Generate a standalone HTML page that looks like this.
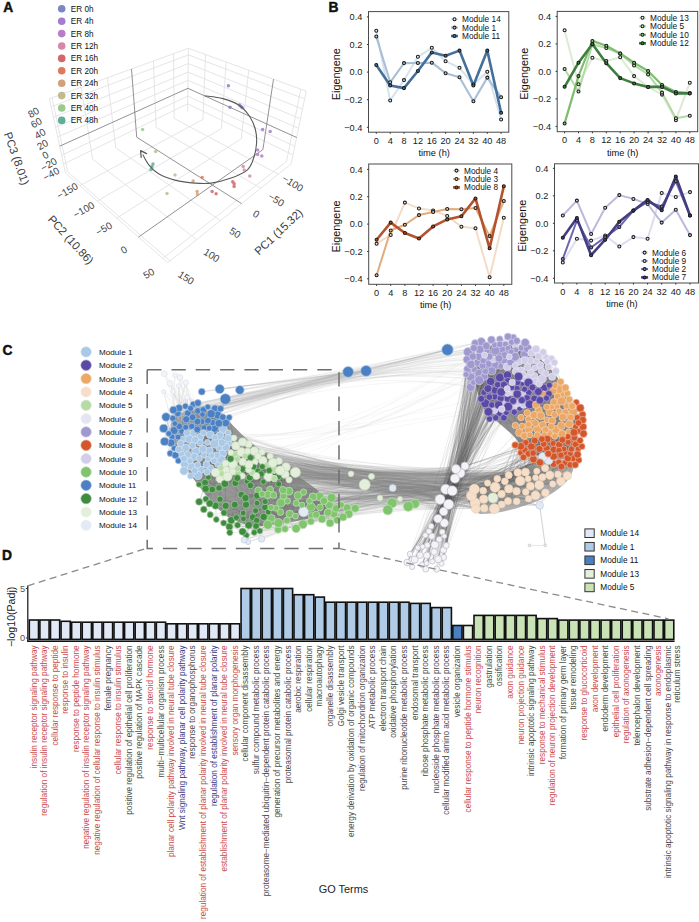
<!DOCTYPE html>
<html><head><meta charset="utf-8"><style>
html,body{margin:0;padding:0;background:#fff;}
svg{display:block;}
text{font-family:"Liberation Sans",sans-serif;}
.tk{font-size:9.2px;fill:#1a1a1a;}
.at{font-size:9.3px;fill:#111;}
.ey{font-size:10.9px;fill:#111;}
.lg{font-size:8.3px;fill:#111;}
.lg2{font-size:8.3px;fill:#111;}
.pl{font-size:13.8px;font-weight:bold;fill:#111;stroke:#111;stroke-width:0.45px;}
.gl{font-size:8.2px;}
.tk5{font-size:9.2px;fill:#555;}
.got{font-size:10.9px;fill:#222;}
.dy{font-size:10.6px;fill:#222;}
.a3{font-size:10px;fill:#444;}
.a3t{font-size:11.4px;fill:#3a3a3a;}
.al{font-size:8.2px;fill:#111;}
.cl{font-size:8.1px;fill:#111;}
</style></head>
<body><svg width="699" height="922" viewBox="0 0 699 922">
<rect width="699" height="922" fill="#fff"/>
<path d="M174.2 118.4L278.3 174.2M156.2 127.5L260.9 188.2M115.7 147.8L220.4 220.6M92.7 159.3L196.7 239.6M67.7 171.9L170.1 260.9M203.0 119.4L79.9 185.6M221.4 128.6L97.4 201.0M241.3 138.7L116.9 218.1M286.5 161.5L162.8 258.4M174.2 118.4L173.5 53.7M156.2 127.5L153.4 61.0M115.7 147.8L107.5 77.7M92.7 159.3L81.1 87.3M67.7 171.9L52.0 97.9M187.7 103.8L63.6 164.0M187.8 96.1L61.7 155.3M188.0 80.3L57.7 136.9M188.1 72.1L55.6 127.2M188.3 63.6L53.4 117.2M188.4 54.9L51.1 106.8M203.0 119.4L205.5 54.5M221.4 128.6L226.2 62.0M241.3 138.7L248.7 70.2M286.5 161.5L300.8 89.1M187.7 103.8L293.0 155.0M187.8 96.1L294.8 146.4M188.0 80.3L298.5 128.3M188.1 72.1L300.5 118.8M188.3 63.6L302.5 109.0M188.4 54.9L304.6 98.9M187.6 111.6L188.4 48.3M65.5 173.0L49.4 98.8M291.2 163.8L306.2 91.1M188.4 48.3L49.4 98.8M188.4 48.3L306.2 91.1M65.5 173.0L167.8 262.8M291.2 163.8L167.8 262.8" fill="none" stroke="#e2e2e6" stroke-width="0.9"/>
<path d="M136.7 137.2L241.6 203.6M262.9 149.6L138.5 237.1M136.7 137.2L131.5 69.0M187.9 88.3L59.7 146.2M262.9 149.6L273.5 79.2M187.9 88.3L296.7 137.5" fill="none" stroke="#777" stroke-width="0.8"/>
<text transform="translate(67.3,190.9) rotate(-30)" text-anchor="middle" dy="3.5" class="a3">−150</text>
<text transform="translate(83.8,209.8) rotate(-30)" text-anchor="middle" dy="3.5" class="a3">−100</text>
<text transform="translate(103.9,228.7) rotate(-30)" text-anchor="middle" dy="3.5" class="a3">−50</text>
<text transform="translate(123.9,249.9) rotate(-30)" text-anchor="middle" dy="3.5" class="a3">0</text>
<text transform="translate(148.7,273.5) rotate(-30)" text-anchor="middle" dy="3.5" class="a3">50</text>
<text transform="translate(292.7,183.2) rotate(32)" text-anchor="middle" dy="3.5" class="a3">−100</text>
<text transform="translate(276.2,199.7) rotate(32)" text-anchor="middle" dy="3.5" class="a3">−50</text>
<text transform="translate(256.1,214.1) rotate(32)" text-anchor="middle" dy="3.5" class="a3">0</text>
<text transform="translate(235.0,232.7) rotate(32)" text-anchor="middle" dy="3.5" class="a3">50</text>
<text transform="translate(211.6,255.3) rotate(32)" text-anchor="middle" dy="3.5" class="a3">100</text>
<text transform="translate(186.1,277.8) rotate(32)" text-anchor="middle" dy="3.5" class="a3">150</text>
<text transform="translate(33.5,112.5) rotate(-30)" text-anchor="middle" dy="3.5" class="a3">80</text>
<text transform="translate(36.2,122.8) rotate(-30)" text-anchor="middle" dy="3.5" class="a3">60</text>
<text transform="translate(40.1,133.8) rotate(-30)" text-anchor="middle" dy="3.5" class="a3">40</text>
<text transform="translate(42.5,144.8) rotate(-30)" text-anchor="middle" dy="3.5" class="a3">20</text>
<text transform="translate(45.3,155.1) rotate(-30)" text-anchor="middle" dy="3.5" class="a3">0</text>
<text transform="translate(48.8,164.5) rotate(-30)" text-anchor="middle" dy="3.5" class="a3">−20</text>
<text transform="translate(51.1,174.0) rotate(-30)" text-anchor="middle" dy="3.5" class="a3">−40</text>
<text transform="translate(16.7,158.5) rotate(70.5)" text-anchor="middle" dy="4" class="a3t">PC3 (8.01)</text>
<text transform="translate(70.8,239.7) rotate(47.8)" text-anchor="middle" dy="4" class="a3t">PC2 (10.86)</text>
<text transform="translate(278.5,231.8) rotate(-43.5)" text-anchor="middle" dy="4" class="a3t">PC1 (15.32)</text>
<circle cx="228.4" cy="85.8" r="1.75" fill="#7e86c0" fill-opacity="0.85"/>
<circle cx="230" cy="107.2" r="1.75" fill="#7e86c0" fill-opacity="0.85"/>
<circle cx="239.5" cy="104.9" r="1.75" fill="#7e86c0" fill-opacity="0.85"/>
<circle cx="241" cy="106.4" r="1.75" fill="#7e86c0" fill-opacity="0.85"/>
<circle cx="242.3" cy="107.8" r="1.75" fill="#7e86c0" fill-opacity="0.85"/>
<circle cx="262.6" cy="129.6" r="1.75" fill="#a57ccf" fill-opacity="0.85"/>
<circle cx="270.2" cy="131.6" r="1.75" fill="#a57ccf" fill-opacity="0.85"/>
<circle cx="257.6" cy="150" r="1.75" fill="#b57ec7" fill-opacity="0.85"/>
<circle cx="257.6" cy="154.4" r="1.75" fill="#b57ec7" fill-opacity="0.85"/>
<circle cx="261.8" cy="156" r="1.75" fill="#b57ec7" fill-opacity="0.85"/>
<circle cx="243.2" cy="166.5" r="1.75" fill="#d48aa6" fill-opacity="0.85"/>
<circle cx="244.2" cy="170.1" r="1.75" fill="#d48aa6" fill-opacity="0.85"/>
<circle cx="249.8" cy="176.1" r="1.75" fill="#d48aa6" fill-opacity="0.85"/>
<circle cx="232.7" cy="181.7" r="1.75" fill="#d2686f" fill-opacity="0.85"/>
<circle cx="234.1" cy="183.7" r="1.75" fill="#d2686f" fill-opacity="0.85"/>
<circle cx="234.1" cy="186.5" r="1.75" fill="#d2686f" fill-opacity="0.85"/>
<circle cx="212.1" cy="191.5" r="1.75" fill="#d2686f" fill-opacity="0.85"/>
<circle cx="216.1" cy="193.7" r="1.75" fill="#d2686f" fill-opacity="0.85"/>
<circle cx="202.1" cy="177.5" r="1.75" fill="#dc7a5f" fill-opacity="0.85"/>
<circle cx="193.1" cy="181.1" r="1.75" fill="#d4a07c" fill-opacity="0.85"/>
<circle cx="197.1" cy="191.5" r="1.75" fill="#d4a07c" fill-opacity="0.85"/>
<circle cx="197.5" cy="194.5" r="1.75" fill="#d4a07c" fill-opacity="0.85"/>
<circle cx="175" cy="175.1" r="1.75" fill="#bdbd8e" fill-opacity="0.85"/>
<circle cx="167" cy="193.5" r="1.75" fill="#bdbd8e" fill-opacity="0.85"/>
<circle cx="155.6" cy="151.6" r="1.75" fill="#bdbd8e" fill-opacity="0.85"/>
<circle cx="142.6" cy="129.6" r="1.75" fill="#9acb8e" fill-opacity="0.85"/>
<circle cx="153" cy="164.1" r="1.75" fill="#5fae98" fill-opacity="0.85"/>
<circle cx="152" cy="166.5" r="1.75" fill="#5fae98" fill-opacity="0.85"/>
<circle cx="151" cy="169.5" r="1.75" fill="#5fae98" fill-opacity="0.85"/>
<path d="M204.6 95.7C207.7 96.2 217.1 97.0 222.9 98.6C228.7 100.2 235.0 102.4 239.5 105.5C244.0 108.6 247.3 112.9 250.0 117.0C252.7 121.1 254.4 125.5 255.5 130.0C256.6 134.5 256.9 139.0 256.5 144.0C256.1 149.0 254.6 155.7 253.0 160.0C251.4 164.3 250.8 167.1 247.2 170.1C243.5 173.1 237.1 175.9 231.1 178.1C225.1 180.3 217.1 182.3 211.1 183.1C205.1 183.9 201.1 183.6 195.1 183.1C189.1 182.6 181.0 181.6 175.0 180.1C169.0 178.6 163.3 176.6 159.0 174.1C154.7 171.6 151.7 168.4 149.0 165.1C146.3 161.8 143.8 156.3 142.8 154.5" fill="none" stroke="#5a5a5a" stroke-width="1.1"/>
<path d="M140.6 150.6 L141.2 157.4 M140.6 150.6 L146.6 153.6" fill="none" stroke="#555" stroke-width="1.2" stroke-linecap="round"/>
<circle cx="61.7" cy="8.8" r="3.8" fill="#7e86c0"/>
<text x="70.8" y="11.7" class="al">ER 0h</text>
<circle cx="61.7" cy="21.2" r="3.8" fill="#a57ccf"/>
<text x="70.8" y="24.1" class="al">ER 4h</text>
<circle cx="61.7" cy="33.6" r="3.8" fill="#b57ec7"/>
<text x="70.8" y="36.5" class="al">ER 8h</text>
<circle cx="61.7" cy="46.0" r="3.8" fill="#d48aa6"/>
<text x="70.8" y="48.9" class="al">ER 12h</text>
<circle cx="61.7" cy="58.4" r="3.8" fill="#d2686f"/>
<text x="70.8" y="61.3" class="al">ER 16h</text>
<circle cx="61.7" cy="70.8" r="3.8" fill="#dc7a5f"/>
<text x="70.8" y="73.7" class="al">ER 20h</text>
<circle cx="61.7" cy="83.2" r="3.8" fill="#d4a07c"/>
<text x="70.8" y="86.1" class="al">ER 24h</text>
<circle cx="61.7" cy="95.6" r="3.8" fill="#bdbd8e"/>
<text x="70.8" y="98.5" class="al">ER 32h</text>
<circle cx="61.7" cy="108.0" r="3.8" fill="#9acb8e"/>
<text x="70.8" y="110.9" class="al">ER 40h</text>
<circle cx="61.7" cy="120.4" r="3.8" fill="#5fae98"/>
<text x="70.8" y="123.3" class="al">ER 48h</text>
<text x="3.3" y="11.5" class="pl">A</text>
<rect x="368.5" y="11.6" width="140.3" height="120.6" fill="#fff" stroke="#4a4a4a" stroke-width="1"/>
<line x1="366.9" y1="16.9" x2="368.5" y2="16.9" stroke="#333" stroke-width="1"/>
<text x="362.3" y="20.1" text-anchor="end" class="tk">0.4</text>
<line x1="366.9" y1="44.5" x2="368.5" y2="44.5" stroke="#333" stroke-width="1"/>
<text x="362.3" y="47.7" text-anchor="end" class="tk">0.2</text>
<line x1="366.9" y1="72.1" x2="368.5" y2="72.1" stroke="#333" stroke-width="1"/>
<text x="362.3" y="75.3" text-anchor="end" class="tk">0.0</text>
<line x1="366.9" y1="99.7" x2="368.5" y2="99.7" stroke="#333" stroke-width="1"/>
<text x="362.3" y="102.9" text-anchor="end" class="tk">−0.2</text>
<line x1="366.9" y1="127.3" x2="368.5" y2="127.3" stroke="#333" stroke-width="1"/>
<text x="362.3" y="130.5" text-anchor="end" class="tk">−0.4</text>
<line x1="376.3" y1="132.2" x2="376.3" y2="133.79999999999998" stroke="#333" stroke-width="1"/>
<text x="376.3" y="143.9" text-anchor="middle" class="tk">0</text>
<line x1="390.2" y1="132.2" x2="390.2" y2="133.79999999999998" stroke="#333" stroke-width="1"/>
<text x="390.2" y="143.9" text-anchor="middle" class="tk">4</text>
<line x1="404.0" y1="132.2" x2="404.0" y2="133.79999999999998" stroke="#333" stroke-width="1"/>
<text x="404.0" y="143.9" text-anchor="middle" class="tk">8</text>
<line x1="417.9" y1="132.2" x2="417.9" y2="133.79999999999998" stroke="#333" stroke-width="1"/>
<text x="417.9" y="143.9" text-anchor="middle" class="tk">12</text>
<line x1="431.8" y1="132.2" x2="431.8" y2="133.79999999999998" stroke="#333" stroke-width="1"/>
<text x="431.8" y="143.9" text-anchor="middle" class="tk">16</text>
<line x1="445.6" y1="132.2" x2="445.6" y2="133.79999999999998" stroke="#333" stroke-width="1"/>
<text x="445.6" y="143.9" text-anchor="middle" class="tk">20</text>
<line x1="459.5" y1="132.2" x2="459.5" y2="133.79999999999998" stroke="#333" stroke-width="1"/>
<text x="459.5" y="143.9" text-anchor="middle" class="tk">24</text>
<line x1="473.4" y1="132.2" x2="473.4" y2="133.79999999999998" stroke="#333" stroke-width="1"/>
<text x="473.4" y="143.9" text-anchor="middle" class="tk">32</text>
<line x1="487.3" y1="132.2" x2="487.3" y2="133.79999999999998" stroke="#333" stroke-width="1"/>
<text x="487.3" y="143.9" text-anchor="middle" class="tk">40</text>
<line x1="501.1" y1="132.2" x2="501.1" y2="133.79999999999998" stroke="#333" stroke-width="1"/>
<text x="501.1" y="143.9" text-anchor="middle" class="tk">48</text>
<text x="434.2" y="156.2" text-anchor="middle" class="at">time (h)</text>
<text transform="translate(339.5,74.2) rotate(-90)" text-anchor="middle" class="ey">Eigengene</text>
<polyline points="376.3,30.7 390.2,100.5 404.0,80.1 417.9,56.8 431.8,47.8 445.6,61.2 459.5,67.8 473.4,84.5 487.3,71.7 501.1,119.4" fill="none" stroke="#d5e3ee" stroke-width="2" stroke-linejoin="round" stroke-opacity="1"/>
<polyline points="376.3,36.5 390.2,82.3 404.0,63.1 417.9,63.0 431.8,62.7 445.6,73.2 459.5,77.2 473.4,101.2 487.3,77.6 501.1,97.2" fill="none" stroke="#a9bfd3" stroke-width="2.1" stroke-linejoin="round" stroke-opacity="1"/>
<polyline points="376.3,64.9 390.2,85.5 404.0,88.1 417.9,71.0 431.8,52.4 445.6,55.7 459.5,50.6 473.4,85.5 487.3,50.6 501.1,112.8" fill="none" stroke="#45709a" stroke-width="2.6" stroke-linejoin="round" stroke-opacity="1"/>
<circle cx="376.3" cy="30.7" r="1.5" fill="#e6eef6" stroke="#1a1a1a" stroke-width="1.05"/>
<circle cx="390.2" cy="100.5" r="1.5" fill="#e6eef6" stroke="#1a1a1a" stroke-width="1.05"/>
<circle cx="404.0" cy="80.1" r="1.5" fill="#e6eef6" stroke="#1a1a1a" stroke-width="1.05"/>
<circle cx="417.9" cy="56.8" r="1.5" fill="#e6eef6" stroke="#1a1a1a" stroke-width="1.05"/>
<circle cx="431.8" cy="47.8" r="1.5" fill="#e6eef6" stroke="#1a1a1a" stroke-width="1.05"/>
<circle cx="445.6" cy="61.2" r="1.5" fill="#e6eef6" stroke="#1a1a1a" stroke-width="1.05"/>
<circle cx="459.5" cy="67.8" r="1.5" fill="#e6eef6" stroke="#1a1a1a" stroke-width="1.05"/>
<circle cx="473.4" cy="84.5" r="1.5" fill="#e6eef6" stroke="#1a1a1a" stroke-width="1.05"/>
<circle cx="487.3" cy="71.7" r="1.5" fill="#e6eef6" stroke="#1a1a1a" stroke-width="1.05"/>
<circle cx="501.1" cy="119.4" r="1.5" fill="#e6eef6" stroke="#1a1a1a" stroke-width="1.05"/>
<circle cx="376.3" cy="36.5" r="1.5" fill="#b8cde0" stroke="#1a1a1a" stroke-width="1.05"/>
<circle cx="390.2" cy="82.3" r="1.5" fill="#b8cde0" stroke="#1a1a1a" stroke-width="1.05"/>
<circle cx="404.0" cy="63.1" r="1.5" fill="#b8cde0" stroke="#1a1a1a" stroke-width="1.05"/>
<circle cx="417.9" cy="63.0" r="1.5" fill="#b8cde0" stroke="#1a1a1a" stroke-width="1.05"/>
<circle cx="431.8" cy="62.7" r="1.5" fill="#b8cde0" stroke="#1a1a1a" stroke-width="1.05"/>
<circle cx="445.6" cy="73.2" r="1.5" fill="#b8cde0" stroke="#1a1a1a" stroke-width="1.05"/>
<circle cx="459.5" cy="77.2" r="1.5" fill="#b8cde0" stroke="#1a1a1a" stroke-width="1.05"/>
<circle cx="473.4" cy="101.2" r="1.5" fill="#b8cde0" stroke="#1a1a1a" stroke-width="1.05"/>
<circle cx="487.3" cy="77.6" r="1.5" fill="#b8cde0" stroke="#1a1a1a" stroke-width="1.05"/>
<circle cx="501.1" cy="97.2" r="1.5" fill="#b8cde0" stroke="#1a1a1a" stroke-width="1.05"/>
<circle cx="376.3" cy="64.9" r="1.5" fill="#45709a" stroke="#1a1a1a" stroke-width="1.05"/>
<circle cx="390.2" cy="85.5" r="1.5" fill="#45709a" stroke="#1a1a1a" stroke-width="1.05"/>
<circle cx="404.0" cy="88.1" r="1.5" fill="#45709a" stroke="#1a1a1a" stroke-width="1.05"/>
<circle cx="417.9" cy="71.0" r="1.5" fill="#45709a" stroke="#1a1a1a" stroke-width="1.05"/>
<circle cx="431.8" cy="52.4" r="1.5" fill="#45709a" stroke="#1a1a1a" stroke-width="1.05"/>
<circle cx="445.6" cy="55.7" r="1.5" fill="#45709a" stroke="#1a1a1a" stroke-width="1.05"/>
<circle cx="459.5" cy="50.6" r="1.5" fill="#45709a" stroke="#1a1a1a" stroke-width="1.05"/>
<circle cx="473.4" cy="85.5" r="1.5" fill="#45709a" stroke="#1a1a1a" stroke-width="1.05"/>
<circle cx="487.3" cy="50.6" r="1.5" fill="#45709a" stroke="#1a1a1a" stroke-width="1.05"/>
<circle cx="501.1" cy="112.8" r="1.5" fill="#45709a" stroke="#1a1a1a" stroke-width="1.05"/>
<line x1="451.0" y1="19.2" x2="458.0" y2="19.2" stroke="#d5e3ee" stroke-width="2" stroke-opacity="1"/>
<circle cx="454.5" cy="19.2" r="1.5" fill="#e6eef6" stroke="#1a1a1a" stroke-width="1.05"/>
<text x="462.0" y="22.1" class="lg">Module 14</text>
<line x1="451.0" y1="27.6" x2="458.0" y2="27.6" stroke="#a9bfd3" stroke-width="2.1" stroke-opacity="1"/>
<circle cx="454.5" cy="27.6" r="1.5" fill="#b8cde0" stroke="#1a1a1a" stroke-width="1.05"/>
<text x="462.0" y="30.5" class="lg">Module 1</text>
<line x1="451.0" y1="36.0" x2="458.0" y2="36.0" stroke="#45709a" stroke-width="2.6" stroke-opacity="1"/>
<circle cx="454.5" cy="36.0" r="1.5" fill="#45709a" stroke="#1a1a1a" stroke-width="1.05"/>
<text x="462.0" y="38.9" class="lg">Module 11</text>
<rect x="557.2" y="11.4" width="140.5" height="120.3" fill="#fff" stroke="#4a4a4a" stroke-width="1"/>
<line x1="555.6" y1="16.4" x2="557.2" y2="16.4" stroke="#333" stroke-width="1"/>
<text x="551.0" y="19.6" text-anchor="end" class="tk">0.4</text>
<line x1="555.6" y1="43.9" x2="557.2" y2="43.9" stroke="#333" stroke-width="1"/>
<text x="551.0" y="47.1" text-anchor="end" class="tk">0.2</text>
<line x1="555.6" y1="71.4" x2="557.2" y2="71.4" stroke="#333" stroke-width="1"/>
<text x="551.0" y="74.6" text-anchor="end" class="tk">0.0</text>
<line x1="555.6" y1="98.9" x2="557.2" y2="98.9" stroke="#333" stroke-width="1"/>
<text x="551.0" y="102.1" text-anchor="end" class="tk">−0.2</text>
<line x1="555.6" y1="126.4" x2="557.2" y2="126.4" stroke="#333" stroke-width="1"/>
<text x="551.0" y="129.6" text-anchor="end" class="tk">−0.4</text>
<line x1="564.6" y1="131.7" x2="564.6" y2="133.29999999999998" stroke="#333" stroke-width="1"/>
<text x="564.6" y="143.4" text-anchor="middle" class="tk">0</text>
<line x1="578.5" y1="131.7" x2="578.5" y2="133.29999999999998" stroke="#333" stroke-width="1"/>
<text x="578.5" y="143.4" text-anchor="middle" class="tk">4</text>
<line x1="592.4" y1="131.7" x2="592.4" y2="133.29999999999998" stroke="#333" stroke-width="1"/>
<text x="592.4" y="143.4" text-anchor="middle" class="tk">8</text>
<line x1="606.3" y1="131.7" x2="606.3" y2="133.29999999999998" stroke="#333" stroke-width="1"/>
<text x="606.3" y="143.4" text-anchor="middle" class="tk">12</text>
<line x1="620.2" y1="131.7" x2="620.2" y2="133.29999999999998" stroke="#333" stroke-width="1"/>
<text x="620.2" y="143.4" text-anchor="middle" class="tk">16</text>
<line x1="634.1" y1="131.7" x2="634.1" y2="133.29999999999998" stroke="#333" stroke-width="1"/>
<text x="634.1" y="143.4" text-anchor="middle" class="tk">20</text>
<line x1="648.1" y1="131.7" x2="648.1" y2="133.29999999999998" stroke="#333" stroke-width="1"/>
<text x="648.1" y="143.4" text-anchor="middle" class="tk">24</text>
<line x1="662.0" y1="131.7" x2="662.0" y2="133.29999999999998" stroke="#333" stroke-width="1"/>
<text x="662.0" y="143.4" text-anchor="middle" class="tk">32</text>
<line x1="675.9" y1="131.7" x2="675.9" y2="133.29999999999998" stroke="#333" stroke-width="1"/>
<text x="675.9" y="143.4" text-anchor="middle" class="tk">40</text>
<line x1="689.8" y1="131.7" x2="689.8" y2="133.29999999999998" stroke="#333" stroke-width="1"/>
<text x="689.8" y="143.4" text-anchor="middle" class="tk">48</text>
<text x="622.7" y="155.7" text-anchor="middle" class="at">time (h)</text>
<text transform="translate(527.8,73.8) rotate(-90)" text-anchor="middle" class="ey">Eigengene</text>
<polyline points="564.6,30.2 578.5,84.3 592.4,57.7 606.3,61.1 620.2,57.2 634.1,76.1 648.1,86.9 662.0,94.6 675.9,120.2 689.8,82.7" fill="none" stroke="#dcebd3" stroke-width="2" stroke-linejoin="round" stroke-opacity="1"/>
<polyline points="564.6,68.9 578.5,91.5 592.4,44.3 606.3,48.0 620.2,53.5 634.1,65.5 648.1,74.4 662.0,92.6 675.9,118.2 689.8,115.7" fill="none" stroke="#b3d9a4" stroke-width="2" stroke-linejoin="round" stroke-opacity="1"/>
<polyline points="564.6,123.4 578.5,76.1 592.4,40.9 606.3,45.7 620.2,53.5 634.1,62.7 648.1,71.0 662.0,85.0 675.9,91.9 689.8,93.1" fill="none" stroke="#80bb72" stroke-width="2.2" stroke-linejoin="round" stroke-opacity="1"/>
<polyline points="564.6,86.8 578.5,62.7 592.4,43.9 606.3,63.2 620.2,78.1 634.1,83.4 648.1,86.9 662.0,86.9 675.9,93.4 689.8,93.4" fill="none" stroke="#3f7d40" stroke-width="2.6" stroke-linejoin="round" stroke-opacity="1"/>
<circle cx="564.6" cy="30.2" r="1.5" fill="#eef6ea" stroke="#1a1a1a" stroke-width="1.05"/>
<circle cx="578.5" cy="84.3" r="1.5" fill="#eef6ea" stroke="#1a1a1a" stroke-width="1.05"/>
<circle cx="592.4" cy="57.7" r="1.5" fill="#eef6ea" stroke="#1a1a1a" stroke-width="1.05"/>
<circle cx="606.3" cy="61.1" r="1.5" fill="#eef6ea" stroke="#1a1a1a" stroke-width="1.05"/>
<circle cx="620.2" cy="57.2" r="1.5" fill="#eef6ea" stroke="#1a1a1a" stroke-width="1.05"/>
<circle cx="634.1" cy="76.1" r="1.5" fill="#eef6ea" stroke="#1a1a1a" stroke-width="1.05"/>
<circle cx="648.1" cy="86.9" r="1.5" fill="#eef6ea" stroke="#1a1a1a" stroke-width="1.05"/>
<circle cx="662.0" cy="94.6" r="1.5" fill="#eef6ea" stroke="#1a1a1a" stroke-width="1.05"/>
<circle cx="675.9" cy="120.2" r="1.5" fill="#eef6ea" stroke="#1a1a1a" stroke-width="1.05"/>
<circle cx="689.8" cy="82.7" r="1.5" fill="#eef6ea" stroke="#1a1a1a" stroke-width="1.05"/>
<circle cx="564.6" cy="68.9" r="1.5" fill="#c9e4bd" stroke="#1a1a1a" stroke-width="1.05"/>
<circle cx="578.5" cy="91.5" r="1.5" fill="#c9e4bd" stroke="#1a1a1a" stroke-width="1.05"/>
<circle cx="592.4" cy="44.3" r="1.5" fill="#c9e4bd" stroke="#1a1a1a" stroke-width="1.05"/>
<circle cx="606.3" cy="48.0" r="1.5" fill="#c9e4bd" stroke="#1a1a1a" stroke-width="1.05"/>
<circle cx="620.2" cy="53.5" r="1.5" fill="#c9e4bd" stroke="#1a1a1a" stroke-width="1.05"/>
<circle cx="634.1" cy="65.5" r="1.5" fill="#c9e4bd" stroke="#1a1a1a" stroke-width="1.05"/>
<circle cx="648.1" cy="74.4" r="1.5" fill="#c9e4bd" stroke="#1a1a1a" stroke-width="1.05"/>
<circle cx="662.0" cy="92.6" r="1.5" fill="#c9e4bd" stroke="#1a1a1a" stroke-width="1.05"/>
<circle cx="675.9" cy="118.2" r="1.5" fill="#c9e4bd" stroke="#1a1a1a" stroke-width="1.05"/>
<circle cx="689.8" cy="115.7" r="1.5" fill="#c9e4bd" stroke="#1a1a1a" stroke-width="1.05"/>
<circle cx="564.6" cy="123.4" r="1.5" fill="#8cc47e" stroke="#1a1a1a" stroke-width="1.05"/>
<circle cx="578.5" cy="76.1" r="1.5" fill="#8cc47e" stroke="#1a1a1a" stroke-width="1.05"/>
<circle cx="592.4" cy="40.9" r="1.5" fill="#8cc47e" stroke="#1a1a1a" stroke-width="1.05"/>
<circle cx="606.3" cy="45.7" r="1.5" fill="#8cc47e" stroke="#1a1a1a" stroke-width="1.05"/>
<circle cx="620.2" cy="53.5" r="1.5" fill="#8cc47e" stroke="#1a1a1a" stroke-width="1.05"/>
<circle cx="634.1" cy="62.7" r="1.5" fill="#8cc47e" stroke="#1a1a1a" stroke-width="1.05"/>
<circle cx="648.1" cy="71.0" r="1.5" fill="#8cc47e" stroke="#1a1a1a" stroke-width="1.05"/>
<circle cx="662.0" cy="85.0" r="1.5" fill="#8cc47e" stroke="#1a1a1a" stroke-width="1.05"/>
<circle cx="675.9" cy="91.9" r="1.5" fill="#8cc47e" stroke="#1a1a1a" stroke-width="1.05"/>
<circle cx="689.8" cy="93.1" r="1.5" fill="#8cc47e" stroke="#1a1a1a" stroke-width="1.05"/>
<circle cx="564.6" cy="86.8" r="1.5" fill="#3f7d40" stroke="#1a1a1a" stroke-width="1.05"/>
<circle cx="578.5" cy="62.7" r="1.5" fill="#3f7d40" stroke="#1a1a1a" stroke-width="1.05"/>
<circle cx="592.4" cy="43.9" r="1.5" fill="#3f7d40" stroke="#1a1a1a" stroke-width="1.05"/>
<circle cx="606.3" cy="63.2" r="1.5" fill="#3f7d40" stroke="#1a1a1a" stroke-width="1.05"/>
<circle cx="620.2" cy="78.1" r="1.5" fill="#3f7d40" stroke="#1a1a1a" stroke-width="1.05"/>
<circle cx="634.1" cy="83.4" r="1.5" fill="#3f7d40" stroke="#1a1a1a" stroke-width="1.05"/>
<circle cx="648.1" cy="86.9" r="1.5" fill="#3f7d40" stroke="#1a1a1a" stroke-width="1.05"/>
<circle cx="662.0" cy="86.9" r="1.5" fill="#3f7d40" stroke="#1a1a1a" stroke-width="1.05"/>
<circle cx="675.9" cy="93.4" r="1.5" fill="#3f7d40" stroke="#1a1a1a" stroke-width="1.05"/>
<circle cx="689.8" cy="93.4" r="1.5" fill="#3f7d40" stroke="#1a1a1a" stroke-width="1.05"/>
<line x1="639.0" y1="17.8" x2="646.0" y2="17.8" stroke="#dcebd3" stroke-width="2" stroke-opacity="1"/>
<circle cx="642.5" cy="17.8" r="1.5" fill="#eef6ea" stroke="#1a1a1a" stroke-width="1.05"/>
<text x="650.0" y="20.7" class="lg">Module 13</text>
<line x1="639.0" y1="26.3" x2="646.0" y2="26.3" stroke="#b3d9a4" stroke-width="2" stroke-opacity="1"/>
<circle cx="642.5" cy="26.3" r="1.5" fill="#c9e4bd" stroke="#1a1a1a" stroke-width="1.05"/>
<text x="650.0" y="29.2" class="lg">Module 5</text>
<line x1="639.0" y1="34.8" x2="646.0" y2="34.8" stroke="#80bb72" stroke-width="2.2" stroke-opacity="1"/>
<circle cx="642.5" cy="34.8" r="1.5" fill="#8cc47e" stroke="#1a1a1a" stroke-width="1.05"/>
<text x="650.0" y="37.7" class="lg">Module 10</text>
<line x1="639.0" y1="43.3" x2="646.0" y2="43.3" stroke="#3f7d40" stroke-width="2.6" stroke-opacity="1"/>
<circle cx="642.5" cy="43.3" r="1.5" fill="#3f7d40" stroke="#1a1a1a" stroke-width="1.05"/>
<text x="650.0" y="46.2" class="lg">Module 12</text>
<rect x="368.7" y="164.0" width="143.1" height="120.3" fill="#fff" stroke="#4a4a4a" stroke-width="1"/>
<line x1="367.09999999999997" y1="169.4" x2="368.7" y2="169.4" stroke="#333" stroke-width="1"/>
<text x="362.5" y="172.6" text-anchor="end" class="tk">0.4</text>
<line x1="367.09999999999997" y1="196.7" x2="368.7" y2="196.7" stroke="#333" stroke-width="1"/>
<text x="362.5" y="199.9" text-anchor="end" class="tk">0.2</text>
<line x1="367.09999999999997" y1="224.1" x2="368.7" y2="224.1" stroke="#333" stroke-width="1"/>
<text x="362.5" y="227.3" text-anchor="end" class="tk">0.0</text>
<line x1="367.09999999999997" y1="251.5" x2="368.7" y2="251.5" stroke="#333" stroke-width="1"/>
<text x="362.5" y="254.7" text-anchor="end" class="tk">−0.2</text>
<line x1="367.09999999999997" y1="278.8" x2="368.7" y2="278.8" stroke="#333" stroke-width="1"/>
<text x="362.5" y="282.0" text-anchor="end" class="tk">−0.4</text>
<line x1="376.6" y1="284.3" x2="376.6" y2="285.90000000000003" stroke="#333" stroke-width="1"/>
<text x="376.6" y="296.0" text-anchor="middle" class="tk">0</text>
<line x1="390.7" y1="284.3" x2="390.7" y2="285.90000000000003" stroke="#333" stroke-width="1"/>
<text x="390.7" y="296.0" text-anchor="middle" class="tk">4</text>
<line x1="404.9" y1="284.3" x2="404.9" y2="285.90000000000003" stroke="#333" stroke-width="1"/>
<text x="404.9" y="296.0" text-anchor="middle" class="tk">8</text>
<line x1="419.0" y1="284.3" x2="419.0" y2="285.90000000000003" stroke="#333" stroke-width="1"/>
<text x="419.0" y="296.0" text-anchor="middle" class="tk">12</text>
<line x1="433.1" y1="284.3" x2="433.1" y2="285.90000000000003" stroke="#333" stroke-width="1"/>
<text x="433.1" y="296.0" text-anchor="middle" class="tk">16</text>
<line x1="447.2" y1="284.3" x2="447.2" y2="285.90000000000003" stroke="#333" stroke-width="1"/>
<text x="447.2" y="296.0" text-anchor="middle" class="tk">20</text>
<line x1="461.4" y1="284.3" x2="461.4" y2="285.90000000000003" stroke="#333" stroke-width="1"/>
<text x="461.4" y="296.0" text-anchor="middle" class="tk">24</text>
<line x1="475.5" y1="284.3" x2="475.5" y2="285.90000000000003" stroke="#333" stroke-width="1"/>
<text x="475.5" y="296.0" text-anchor="middle" class="tk">32</text>
<line x1="489.6" y1="284.3" x2="489.6" y2="285.90000000000003" stroke="#333" stroke-width="1"/>
<text x="489.6" y="296.0" text-anchor="middle" class="tk">40</text>
<line x1="503.8" y1="284.3" x2="503.8" y2="285.90000000000003" stroke="#333" stroke-width="1"/>
<text x="503.8" y="296.0" text-anchor="middle" class="tk">48</text>
<text x="435.7" y="308.3" text-anchor="middle" class="at">time (h)</text>
<text transform="translate(339.5,226.5) rotate(-90)" text-anchor="middle" class="ey">Eigengene</text>
<polyline points="376.6,243.7 390.7,235.0 404.9,202.6 419.0,208.4 433.1,210.4 447.2,215.9 461.4,226.8 475.5,228.3 489.6,277.3 503.8,217.8" fill="none" stroke="#f3dcc6" stroke-width="2" stroke-linejoin="round" stroke-opacity="1"/>
<polyline points="376.6,275.3 390.7,230.4 404.9,224.8 419.0,215.1 433.1,211.9 447.2,208.9 461.4,209.3 475.5,208.0 489.6,236.1 503.8,201.0" fill="none" stroke="#e2ad7c" stroke-width="2" stroke-linejoin="round" stroke-opacity="1"/>
<polyline points="376.6,239.8 390.7,222.6 404.9,233.0 419.0,238.5 433.1,226.4 447.2,219.4 461.4,216.2 475.5,198.4 489.6,248.3 503.8,186.2" fill="none" stroke="#b3532e" stroke-width="2.6" stroke-linejoin="round" stroke-opacity="1"/>
<circle cx="376.6" cy="243.7" r="1.5" fill="#f8e8d8" stroke="#1a1a1a" stroke-width="1.05"/>
<circle cx="390.7" cy="235.0" r="1.5" fill="#f8e8d8" stroke="#1a1a1a" stroke-width="1.05"/>
<circle cx="404.9" cy="202.6" r="1.5" fill="#f8e8d8" stroke="#1a1a1a" stroke-width="1.05"/>
<circle cx="419.0" cy="208.4" r="1.5" fill="#f8e8d8" stroke="#1a1a1a" stroke-width="1.05"/>
<circle cx="433.1" cy="210.4" r="1.5" fill="#f8e8d8" stroke="#1a1a1a" stroke-width="1.05"/>
<circle cx="447.2" cy="215.9" r="1.5" fill="#f8e8d8" stroke="#1a1a1a" stroke-width="1.05"/>
<circle cx="461.4" cy="226.8" r="1.5" fill="#f8e8d8" stroke="#1a1a1a" stroke-width="1.05"/>
<circle cx="475.5" cy="228.3" r="1.5" fill="#f8e8d8" stroke="#1a1a1a" stroke-width="1.05"/>
<circle cx="489.6" cy="277.3" r="1.5" fill="#f8e8d8" stroke="#1a1a1a" stroke-width="1.05"/>
<circle cx="503.8" cy="217.8" r="1.5" fill="#f8e8d8" stroke="#1a1a1a" stroke-width="1.05"/>
<circle cx="376.6" cy="275.3" r="1.5" fill="#eec39a" stroke="#1a1a1a" stroke-width="1.05"/>
<circle cx="390.7" cy="230.4" r="1.5" fill="#eec39a" stroke="#1a1a1a" stroke-width="1.05"/>
<circle cx="404.9" cy="224.8" r="1.5" fill="#eec39a" stroke="#1a1a1a" stroke-width="1.05"/>
<circle cx="419.0" cy="215.1" r="1.5" fill="#eec39a" stroke="#1a1a1a" stroke-width="1.05"/>
<circle cx="433.1" cy="211.9" r="1.5" fill="#eec39a" stroke="#1a1a1a" stroke-width="1.05"/>
<circle cx="447.2" cy="208.9" r="1.5" fill="#eec39a" stroke="#1a1a1a" stroke-width="1.05"/>
<circle cx="461.4" cy="209.3" r="1.5" fill="#eec39a" stroke="#1a1a1a" stroke-width="1.05"/>
<circle cx="475.5" cy="208.0" r="1.5" fill="#eec39a" stroke="#1a1a1a" stroke-width="1.05"/>
<circle cx="489.6" cy="236.1" r="1.5" fill="#eec39a" stroke="#1a1a1a" stroke-width="1.05"/>
<circle cx="503.8" cy="201.0" r="1.5" fill="#eec39a" stroke="#1a1a1a" stroke-width="1.05"/>
<circle cx="376.6" cy="239.8" r="1.5" fill="#b3532e" stroke="#1a1a1a" stroke-width="1.05"/>
<circle cx="390.7" cy="222.6" r="1.5" fill="#b3532e" stroke="#1a1a1a" stroke-width="1.05"/>
<circle cx="404.9" cy="233.0" r="1.5" fill="#b3532e" stroke="#1a1a1a" stroke-width="1.05"/>
<circle cx="419.0" cy="238.5" r="1.5" fill="#b3532e" stroke="#1a1a1a" stroke-width="1.05"/>
<circle cx="433.1" cy="226.4" r="1.5" fill="#b3532e" stroke="#1a1a1a" stroke-width="1.05"/>
<circle cx="447.2" cy="219.4" r="1.5" fill="#b3532e" stroke="#1a1a1a" stroke-width="1.05"/>
<circle cx="461.4" cy="216.2" r="1.5" fill="#b3532e" stroke="#1a1a1a" stroke-width="1.05"/>
<circle cx="475.5" cy="198.4" r="1.5" fill="#b3532e" stroke="#1a1a1a" stroke-width="1.05"/>
<circle cx="489.6" cy="248.3" r="1.5" fill="#b3532e" stroke="#1a1a1a" stroke-width="1.05"/>
<circle cx="503.8" cy="186.2" r="1.5" fill="#b3532e" stroke="#1a1a1a" stroke-width="1.05"/>
<line x1="453.0" y1="170.6" x2="460.0" y2="170.6" stroke="#f3dcc6" stroke-width="2" stroke-opacity="1"/>
<circle cx="456.5" cy="170.6" r="1.5" fill="#f8e8d8" stroke="#1a1a1a" stroke-width="1.05"/>
<text x="464.0" y="173.5" class="lg">Module 4</text>
<line x1="453.0" y1="179.0" x2="460.0" y2="179.0" stroke="#e2ad7c" stroke-width="2" stroke-opacity="1"/>
<circle cx="456.5" cy="179.0" r="1.5" fill="#eec39a" stroke="#1a1a1a" stroke-width="1.05"/>
<text x="464.0" y="181.9" class="lg">Module 3</text>
<line x1="453.0" y1="187.4" x2="460.0" y2="187.4" stroke="#b3532e" stroke-width="2.6" stroke-opacity="1"/>
<circle cx="456.5" cy="187.4" r="1.5" fill="#b3532e" stroke="#1a1a1a" stroke-width="1.05"/>
<text x="464.0" y="190.3" class="lg">Module 8</text>
<rect x="554.5" y="163.8" width="144.0" height="119.2" fill="#fff" stroke="#4a4a4a" stroke-width="1"/>
<line x1="552.9" y1="168.3" x2="554.5" y2="168.3" stroke="#333" stroke-width="1"/>
<text x="548.3" y="171.5" text-anchor="end" class="tk">0.4</text>
<line x1="552.9" y1="195.8" x2="554.5" y2="195.8" stroke="#333" stroke-width="1"/>
<text x="548.3" y="199.0" text-anchor="end" class="tk">0.2</text>
<line x1="552.9" y1="223.3" x2="554.5" y2="223.3" stroke="#333" stroke-width="1"/>
<text x="548.3" y="226.5" text-anchor="end" class="tk">0.0</text>
<line x1="552.9" y1="250.8" x2="554.5" y2="250.8" stroke="#333" stroke-width="1"/>
<text x="548.3" y="254.0" text-anchor="end" class="tk">−0.2</text>
<line x1="552.9" y1="278.3" x2="554.5" y2="278.3" stroke="#333" stroke-width="1"/>
<text x="548.3" y="281.5" text-anchor="end" class="tk">−0.4</text>
<line x1="562.8" y1="283.0" x2="562.8" y2="284.6" stroke="#333" stroke-width="1"/>
<text x="562.8" y="294.7" text-anchor="middle" class="tk">0</text>
<line x1="576.9" y1="283.0" x2="576.9" y2="284.6" stroke="#333" stroke-width="1"/>
<text x="576.9" y="294.7" text-anchor="middle" class="tk">4</text>
<line x1="591.1" y1="283.0" x2="591.1" y2="284.6" stroke="#333" stroke-width="1"/>
<text x="591.1" y="294.7" text-anchor="middle" class="tk">8</text>
<line x1="605.2" y1="283.0" x2="605.2" y2="284.6" stroke="#333" stroke-width="1"/>
<text x="605.2" y="294.7" text-anchor="middle" class="tk">12</text>
<line x1="619.3" y1="283.0" x2="619.3" y2="284.6" stroke="#333" stroke-width="1"/>
<text x="619.3" y="294.7" text-anchor="middle" class="tk">16</text>
<line x1="633.4" y1="283.0" x2="633.4" y2="284.6" stroke="#333" stroke-width="1"/>
<text x="633.4" y="294.7" text-anchor="middle" class="tk">20</text>
<line x1="647.6" y1="283.0" x2="647.6" y2="284.6" stroke="#333" stroke-width="1"/>
<text x="647.6" y="294.7" text-anchor="middle" class="tk">24</text>
<line x1="661.7" y1="283.0" x2="661.7" y2="284.6" stroke="#333" stroke-width="1"/>
<text x="661.7" y="294.7" text-anchor="middle" class="tk">32</text>
<line x1="675.8" y1="283.0" x2="675.8" y2="284.6" stroke="#333" stroke-width="1"/>
<text x="675.8" y="294.7" text-anchor="middle" class="tk">40</text>
<line x1="690.0" y1="283.0" x2="690.0" y2="284.6" stroke="#333" stroke-width="1"/>
<text x="690.0" y="294.7" text-anchor="middle" class="tk">48</text>
<text x="621.9" y="307.0" text-anchor="middle" class="at">time (h)</text>
<text transform="translate(526.2,225.7) rotate(-90)" text-anchor="middle" class="ey">Eigengene</text>
<polyline points="562.8,262.4 576.9,238.8 591.1,240.6 605.2,235.5 619.3,246.4 633.4,237.1 647.6,238.8 661.7,193.0 675.8,196.9 690.0,192.1" fill="none" stroke="#dedcef" stroke-width="2" stroke-linejoin="round" stroke-opacity="1"/>
<polyline points="562.8,215.5 576.9,200.6 591.1,234.0 605.2,207.8 619.3,195.1 633.4,198.9 647.6,204.0 661.7,222.6 675.8,209.8 690.0,235.1" fill="none" stroke="#bdb9dc" stroke-width="2" stroke-linejoin="round" stroke-opacity="1"/>
<polyline points="562.8,258.9 576.9,220.5 591.1,247.5 605.2,237.1 619.3,226.9 633.4,210.6 647.6,202.0 661.7,206.5 675.8,181.3 690.0,215.5" fill="none" stroke="#6d66b2" stroke-width="2" stroke-linejoin="round" stroke-opacity="1"/>
<polyline points="562.8,237.7 576.9,218.1 591.1,255.2 605.2,239.7 619.3,221.8 633.4,210.6 647.6,199.9 661.7,210.2 675.8,176.5 690.0,215.5" fill="none" stroke="#423f80" stroke-width="2.6" stroke-linejoin="round" stroke-opacity="1"/>
<circle cx="562.8" cy="262.4" r="1.5" fill="#eceaf6" stroke="#1a1a1a" stroke-width="1.05"/>
<circle cx="576.9" cy="238.8" r="1.5" fill="#eceaf6" stroke="#1a1a1a" stroke-width="1.05"/>
<circle cx="591.1" cy="240.6" r="1.5" fill="#eceaf6" stroke="#1a1a1a" stroke-width="1.05"/>
<circle cx="605.2" cy="235.5" r="1.5" fill="#eceaf6" stroke="#1a1a1a" stroke-width="1.05"/>
<circle cx="619.3" cy="246.4" r="1.5" fill="#eceaf6" stroke="#1a1a1a" stroke-width="1.05"/>
<circle cx="633.4" cy="237.1" r="1.5" fill="#eceaf6" stroke="#1a1a1a" stroke-width="1.05"/>
<circle cx="647.6" cy="238.8" r="1.5" fill="#eceaf6" stroke="#1a1a1a" stroke-width="1.05"/>
<circle cx="661.7" cy="193.0" r="1.5" fill="#eceaf6" stroke="#1a1a1a" stroke-width="1.05"/>
<circle cx="675.8" cy="196.9" r="1.5" fill="#eceaf6" stroke="#1a1a1a" stroke-width="1.05"/>
<circle cx="690.0" cy="192.1" r="1.5" fill="#eceaf6" stroke="#1a1a1a" stroke-width="1.05"/>
<circle cx="562.8" cy="215.5" r="1.5" fill="#d0cde7" stroke="#1a1a1a" stroke-width="1.05"/>
<circle cx="576.9" cy="200.6" r="1.5" fill="#d0cde7" stroke="#1a1a1a" stroke-width="1.05"/>
<circle cx="591.1" cy="234.0" r="1.5" fill="#d0cde7" stroke="#1a1a1a" stroke-width="1.05"/>
<circle cx="605.2" cy="207.8" r="1.5" fill="#d0cde7" stroke="#1a1a1a" stroke-width="1.05"/>
<circle cx="619.3" cy="195.1" r="1.5" fill="#d0cde7" stroke="#1a1a1a" stroke-width="1.05"/>
<circle cx="633.4" cy="198.9" r="1.5" fill="#d0cde7" stroke="#1a1a1a" stroke-width="1.05"/>
<circle cx="647.6" cy="204.0" r="1.5" fill="#d0cde7" stroke="#1a1a1a" stroke-width="1.05"/>
<circle cx="661.7" cy="222.6" r="1.5" fill="#d0cde7" stroke="#1a1a1a" stroke-width="1.05"/>
<circle cx="675.8" cy="209.8" r="1.5" fill="#d0cde7" stroke="#1a1a1a" stroke-width="1.05"/>
<circle cx="690.0" cy="235.1" r="1.5" fill="#d0cde7" stroke="#1a1a1a" stroke-width="1.05"/>
<circle cx="562.8" cy="258.9" r="1.5" fill="#8680c0" stroke="#1a1a1a" stroke-width="1.05"/>
<circle cx="576.9" cy="220.5" r="1.5" fill="#8680c0" stroke="#1a1a1a" stroke-width="1.05"/>
<circle cx="591.1" cy="247.5" r="1.5" fill="#8680c0" stroke="#1a1a1a" stroke-width="1.05"/>
<circle cx="605.2" cy="237.1" r="1.5" fill="#8680c0" stroke="#1a1a1a" stroke-width="1.05"/>
<circle cx="619.3" cy="226.9" r="1.5" fill="#8680c0" stroke="#1a1a1a" stroke-width="1.05"/>
<circle cx="633.4" cy="210.6" r="1.5" fill="#8680c0" stroke="#1a1a1a" stroke-width="1.05"/>
<circle cx="647.6" cy="202.0" r="1.5" fill="#8680c0" stroke="#1a1a1a" stroke-width="1.05"/>
<circle cx="661.7" cy="206.5" r="1.5" fill="#8680c0" stroke="#1a1a1a" stroke-width="1.05"/>
<circle cx="675.8" cy="181.3" r="1.5" fill="#8680c0" stroke="#1a1a1a" stroke-width="1.05"/>
<circle cx="690.0" cy="215.5" r="1.5" fill="#8680c0" stroke="#1a1a1a" stroke-width="1.05"/>
<circle cx="562.8" cy="237.7" r="1.5" fill="#423f80" stroke="#1a1a1a" stroke-width="1.05"/>
<circle cx="576.9" cy="218.1" r="1.5" fill="#423f80" stroke="#1a1a1a" stroke-width="1.05"/>
<circle cx="591.1" cy="255.2" r="1.5" fill="#423f80" stroke="#1a1a1a" stroke-width="1.05"/>
<circle cx="605.2" cy="239.7" r="1.5" fill="#423f80" stroke="#1a1a1a" stroke-width="1.05"/>
<circle cx="619.3" cy="221.8" r="1.5" fill="#423f80" stroke="#1a1a1a" stroke-width="1.05"/>
<circle cx="633.4" cy="210.6" r="1.5" fill="#423f80" stroke="#1a1a1a" stroke-width="1.05"/>
<circle cx="647.6" cy="199.9" r="1.5" fill="#423f80" stroke="#1a1a1a" stroke-width="1.05"/>
<circle cx="661.7" cy="210.2" r="1.5" fill="#423f80" stroke="#1a1a1a" stroke-width="1.05"/>
<circle cx="675.8" cy="176.5" r="1.5" fill="#423f80" stroke="#1a1a1a" stroke-width="1.05"/>
<circle cx="690.0" cy="215.5" r="1.5" fill="#423f80" stroke="#1a1a1a" stroke-width="1.05"/>
<line x1="641.1" y1="252.6" x2="648.1" y2="252.6" stroke="#dedcef" stroke-width="2" stroke-opacity="1"/>
<circle cx="644.6" cy="252.6" r="1.5" fill="#eceaf6" stroke="#1a1a1a" stroke-width="1.05"/>
<text x="652.1" y="255.5" class="lg">Module 6</text>
<line x1="641.1" y1="260.9" x2="648.1" y2="260.9" stroke="#bdb9dc" stroke-width="2" stroke-opacity="1"/>
<circle cx="644.6" cy="260.9" r="1.5" fill="#d0cde7" stroke="#1a1a1a" stroke-width="1.05"/>
<text x="652.1" y="263.8" class="lg">Module 9</text>
<line x1="641.1" y1="269.1" x2="648.1" y2="269.1" stroke="#6d66b2" stroke-width="2" stroke-opacity="1"/>
<circle cx="644.6" cy="269.1" r="1.5" fill="#8680c0" stroke="#1a1a1a" stroke-width="1.05"/>
<text x="652.1" y="272.0" class="lg">Module 2</text>
<line x1="641.1" y1="277.4" x2="648.1" y2="277.4" stroke="#423f80" stroke-width="2.6" stroke-opacity="1"/>
<circle cx="644.6" cy="277.4" r="1.5" fill="#423f80" stroke="#1a1a1a" stroke-width="1.05"/>
<text x="652.1" y="280.2" class="lg">Module 7</text>
<text x="328.6" y="11.5" class="pl">B</text>
<circle cx="86.1" cy="351.9" r="5.2" fill="#a9c9e7" stroke="#cbdef0" stroke-width="0.6"/>
<text x="99.1" y="354.8" class="cl">Module 1</text>
<circle cx="86.1" cy="365.2" r="5.2" fill="#5a4aa5" stroke="#9c92c9" stroke-width="0.6"/>
<text x="99.1" y="368.1" class="cl">Module 2</text>
<circle cx="86.1" cy="378.6" r="5.2" fill="#eca866" stroke="#f3caa3" stroke-width="0.6"/>
<text x="99.1" y="381.5" class="cl">Module 3</text>
<circle cx="86.1" cy="391.9" r="5.2" fill="#f6dfca" stroke="#f9ebdf" stroke-width="0.6"/>
<text x="99.1" y="394.8" class="cl">Module 4</text>
<circle cx="86.1" cy="405.3" r="5.2" fill="#b6dba6" stroke="#d3e9c9" stroke-width="0.6"/>
<text x="99.1" y="408.2" class="cl">Module 5</text>
<circle cx="86.1" cy="418.6" r="5.2" fill="#e5e4f2" stroke="#efeef7" stroke-width="0.6"/>
<text x="99.1" y="421.5" class="cl">Module 6</text>
<circle cx="86.1" cy="431.9" r="5.2" fill="#9f99cf" stroke="#c5c1e2" stroke-width="0.6"/>
<text x="99.1" y="434.8" class="cl">Module 7</text>
<circle cx="86.1" cy="445.3" r="5.2" fill="#d3572b" stroke="#e49a7f" stroke-width="0.6"/>
<text x="99.1" y="448.2" class="cl">Module 8</text>
<circle cx="86.1" cy="458.6" r="5.2" fill="#d2cde8" stroke="#e4e1f1" stroke-width="0.6"/>
<text x="99.1" y="461.5" class="cl">Module 9</text>
<circle cx="86.1" cy="472.0" r="5.2" fill="#80c46e" stroke="#b2dba8" stroke-width="0.6"/>
<text x="99.1" y="474.9" class="cl">Module 10</text>
<circle cx="86.1" cy="485.3" r="5.2" fill="#4b80c3" stroke="#93b2db" stroke-width="0.6"/>
<text x="99.1" y="488.2" class="cl">Module 11</text>
<circle cx="86.1" cy="498.6" r="5.2" fill="#3f8c3f" stroke="#8bba8b" stroke-width="0.6"/>
<text x="99.1" y="501.5" class="cl">Module 12</text>
<circle cx="86.1" cy="512.0" r="5.2" fill="#e3efdb" stroke="#eef5e9" stroke-width="0.6"/>
<text x="99.1" y="514.9" class="cl">Module 13</text>
<circle cx="86.1" cy="525.3" r="5.2" fill="#e2eaf6" stroke="#edf2f9" stroke-width="0.6"/>
<text x="99.1" y="528.2" class="cl">Module 14</text>
<text x="2.4" y="355" class="pl">C</text>
<path d="M172 418 C182 410 205 408 222 414 C232 424 242 436 258 448 C275 460 292 472 312 486 C326 496 332 506 326 514 C306 520 282 524 262 526 C240 526 225 518 212 502 C198 486 186 470 178 452 C172 440 170 428 172 418 Z" fill="#555555" fill-opacity="0.62"/>
<path d="M478 352 C492 342 515 342 530 352 C550 364 566 386 575 410 C580 432 578 450 568 458 C548 460 530 456 520 444 C510 430 496 422 486 412 C476 398 472 370 478 352 Z" fill="#555555" fill-opacity="0.65"/>
<path d="M468 492 C480 484 500 478 518 468 C535 460 560 458 574 466 C572 480 560 490 540 500 C520 508 500 514 480 514 C470 510 466 500 468 492 Z" fill="#606060" fill-opacity="0.5"/>
<path d="M187.9 413.2L366.1 370.9M173.4 410.0L366.1 370.9M192.6 417.3L366.1 370.9M166.0 417.0L348.1 371.9M172.9 418.3L366.1 370.9M172.9 418.3L447.5 349.7M187.9 413.2L447.5 349.7M190.6 408.4L348.1 371.9M172.9 418.3L348.1 371.9M201.8 391.7L366.1 370.9M202.5 414.5L366.1 370.9M225.4 399.0L348.1 371.9M172.9 418.3L348.1 371.9M220.5 408.7L447.5 349.7M219.7 389.0L366.1 370.9M203.4 410.0L366.1 370.9M197.9 403.0L366.1 370.9M219.7 389.0L366.1 370.9M222.8 417.2L366.1 370.9M173.4 410.0L348.1 371.9M192.6 417.3L366.1 370.9M201.8 391.7L348.1 371.9M203.4 410.0L348.1 371.9M239.8 390.0L348.1 371.9M197.9 410.9L348.1 371.9M222.8 417.2L447.5 349.7M217.5 415.0L366.1 370.9M166.0 417.0L348.1 371.9M187.9 413.2L447.5 349.7M219.7 389.0L366.1 370.9M220.5 408.7L348.1 371.9M215.0 408.6L348.1 371.9M177.7 413.3L447.5 349.7M172.9 418.3L447.5 349.7M215.0 408.6L447.5 349.7M203.4 410.0L348.1 371.9M239.8 390.0L447.5 349.7M166.0 417.0L447.5 349.7M179.0 408.1L348.1 371.9M217.5 415.0L348.1 371.9" fill="none" stroke="#b0b0b0" stroke-opacity="0.3" stroke-width="0.5"/>
<path d="M211.1 413.8Q356.2 370.0 485.3 371.3M187.9 413.2Q392.0 369.0 495.3 350.5M172.9 418.3Q366.6 369.7 477.8 362.6M217.5 415.0Q401.6 367.5 479.6 349.4M185.4 406.3Q383.9 362.2 475.0 343.0M186.3 419.3Q376.1 363.4 486.3 346.0M239.8 390.0Q401.9 368.2 494.7 344.8M202.5 414.5Q389.9 366.9 475.0 343.0M186.3 419.3Q402.8 364.5 479.6 349.4M215.0 408.6Q362.1 368.6 466.1 374.5M229.2 417.4Q376.6 364.7 479.6 349.4M219.7 389.0Q401.3 366.1 491.7 370.9M190.6 408.4Q374.9 369.4 491.7 370.9M187.9 413.2Q383.2 365.2 486.3 346.0M201.8 391.7Q383.8 366.5 486.3 346.0M190.6 408.4Q392.9 369.2 467.0 359.6M185.4 406.3Q359.5 365.5 477.8 362.6M239.8 390.0Q394.1 362.5 467.0 359.6M177.7 413.3Q366.9 362.1 466.1 374.5M197.9 410.9Q363.6 366.4 487.1 351.4M207.8 406.9Q371.4 364.9 479.6 349.4M177.7 413.3Q356.8 366.3 484.3 376.6M172.9 418.3Q387.8 362.8 487.1 351.4M177.7 413.3Q361.1 363.2 491.7 370.9M202.5 414.5Q357.2 363.0 482.6 365.7M173.4 410.0Q361.8 364.3 494.7 344.8M229.2 417.4Q378.8 362.5 473.8 348.1M173.4 410.0Q402.7 362.9 481.3 341.9M172.9 418.3Q402.1 362.1 479.1 373.5M190.6 408.4Q386.7 364.7 481.3 341.9M187.9 413.2Q390.0 363.4 467.0 359.6M225.4 399.0Q372.6 362.9 487.1 351.4M177.7 413.3Q379.3 362.5 479.1 373.5M201.8 391.7Q392.6 366.6 479.3 380.2M197.9 403.0Q375.1 362.9 467.4 369.1M190.6 408.4Q356.9 365.0 479.6 349.4M197.9 403.0Q365.3 368.0 470.7 387.2M192.6 417.3Q357.5 367.5 472.8 356.5M185.4 406.3Q367.7 369.1 482.6 365.7M239.8 390.0Q401.1 369.4 479.3 380.2M202.5 414.5Q363.9 369.7 479.5 356.5M217.5 415.0Q356.5 363.3 475.0 343.0M186.3 419.3Q397.4 367.6 470.7 387.2M186.3 419.3Q365.8 368.5 468.0 352.0M197.9 410.9Q377.2 365.4 470.8 364.4" fill="none" stroke="#b4b4b4" stroke-opacity="0.28" stroke-width="0.5"/>
<path d="M221.4 459.6Q338.7 444.0 467.0 359.6M289.0 479.8Q331.5 430.8 491.7 370.9M254.7 461.9Q349.8 431.1 467.0 359.6M245.3 456.1Q366.1 440.8 504.5 355.3M230.5 458.8Q330.6 444.6 482.6 365.7M242.6 442.1Q387.2 434.0 470.7 387.2M228.0 433.0Q337.2 449.6 491.4 339.8M269.1 470.5Q339.6 430.4 494.5 410.3M228.2 438.2Q363.3 434.5 495.0 365.1M220.9 467.9Q373.7 439.8 477.8 362.6M233.8 438.1Q364.6 431.6 498.6 404.9M219.9 435.7Q347.4 435.8 501.2 392.0M228.0 433.0Q369.8 446.8 473.5 382.4M230.8 452.6Q371.8 445.9 483.2 360.6" fill="none" stroke="#c8c8c8" stroke-opacity="0.25" stroke-width="0.5"/>
<path d="M276.1 508.2Q392.8 471.3 508.0 501.1M270.1 489.7Q383.5 489.2 520.2 480.9M278.6 476.6Q378.8 485.8 497.3 478.8M286.0 467.1Q384.1 469.0 545.1 468.1M263.4 481.8Q385.0 468.8 501.6 494.0M295.5 516.1Q383.6 498.8 497.3 478.8M272.8 462.9Q386.8 494.3 445.8 489.3M302.9 524.3Q394.4 482.5 495.1 487.2M287.0 520.5Q394.4 479.3 525.8 492.0M237.2 459.1Q376.7 487.0 501.8 504.4M280.3 512.1Q386.8 485.9 560.9 481.5M281.0 502.8Q378.6 475.1 471.5 495.8M237.9 473.2Q391.3 475.8 558.0 474.4M262.3 466.7Q377.0 469.6 448.6 504.4M248.6 470.0Q380.6 491.6 501.8 504.4M250.5 457.7Q393.0 489.7 525.8 492.0M276.1 508.2Q386.0 478.3 545.4 492.7M250.5 457.7Q390.7 496.3 545.1 468.1M301.9 505.0Q379.8 489.8 516.6 501.3M289.8 513.9Q377.0 483.3 516.5 491.2M265.0 507.4Q376.1 484.6 445.8 489.3M313.0 497.0Q391.2 495.5 471.5 495.8M286.0 467.1Q394.0 489.5 542.4 477.3M245.5 498.0Q376.9 468.6 542.4 477.3M258.3 490.4Q384.8 469.5 528.1 478.8M278.8 461.1Q386.0 498.2 545.4 492.7M248.7 525.1Q379.3 472.1 508.0 501.1M255.6 510.7Q378.4 489.7 517.8 472.5M296.1 528.5Q380.1 484.9 494.4 508.7M298.0 495.5Q390.2 494.3 487.6 483.1M237.6 525.1Q392.9 495.5 471.5 495.8M236.4 517.6Q388.9 501.2 440.0 499.4M303.5 492.1Q379.8 479.8 542.4 477.3M236.4 517.6Q390.4 490.3 520.2 480.9M259.8 530.9Q391.5 472.3 452.2 490.8M295.5 516.1Q381.7 490.4 465.0 466.0M301.9 505.0Q380.0 506.1 508.8 488.9M263.4 481.8Q386.2 489.7 567.3 475.9M235.9 445.9Q394.2 500.0 525.5 472.2M280.3 512.1Q375.1 483.1 536.8 471.2M258.3 490.4Q390.0 484.1 474.4 489.3M311.2 515.6Q375.6 494.2 558.0 474.4M289.8 513.9Q394.1 484.8 508.8 488.9M248.6 470.0Q386.9 507.7 560.9 481.5M311.0 506.9Q378.6 489.3 525.5 472.2M278.8 461.1Q379.5 470.5 448.6 504.4M243.2 513.0Q390.5 494.9 528.1 478.8M271.0 507.5Q380.8 480.8 508.7 475.2M245.3 456.1Q380.5 505.2 520.2 480.9M242.7 461.9Q375.9 503.5 528.1 478.8M262.1 494.0Q390.1 503.3 560.9 481.5M246.3 535.3Q388.8 483.4 536.8 471.2M278.8 461.1Q385.0 472.4 474.4 489.3M241.3 494.6Q380.6 498.8 456.0 469.0M295.4 472.4Q380.2 502.0 445.8 489.3M248.9 464.6Q394.7 493.4 535.6 477.7M322.0 519.0Q391.1 479.0 508.7 475.2M274.2 478.5Q377.9 501.5 501.8 504.4M242.4 469.1Q389.8 483.8 475.1 503.0M267.9 524.7Q380.9 471.1 525.8 492.0M309.4 501.1Q387.1 469.6 517.8 472.5M278.7 483.9Q378.7 468.8 542.4 477.3M328.0 512.5Q377.8 497.3 558.0 474.4M235.4 483.1Q380.9 499.8 501.6 494.0M237.3 478.1Q387.1 491.7 445.8 489.3M237.9 473.2Q377.7 471.7 455.0 478.6M244.1 540.0Q379.1 485.1 495.1 487.2M237.2 459.1Q387.4 489.3 535.6 477.7M244.1 540.0Q388.3 489.3 508.8 488.9M286.0 467.1Q386.2 497.7 542.4 477.3M248.7 525.1Q394.6 507.3 484.2 508.2M278.6 476.6Q382.6 499.0 549.8 475.1M301.9 505.0Q384.8 482.0 445.8 489.3M272.8 462.9Q388.0 474.5 535.6 477.7M237.2 459.1Q383.5 469.6 508.7 475.2M278.1 529.7Q384.5 474.4 508.8 488.9M237.6 525.1Q379.9 480.6 525.8 492.0M262.1 494.0Q383.9 474.9 508.0 501.1M319.8 496.6Q386.5 506.7 525.8 492.0M246.3 535.3Q387.6 500.6 545.1 468.1M262.8 460.5Q394.6 494.4 487.6 483.1M268.3 511.9Q384.1 468.1 440.0 499.4M303.5 492.1Q380.1 497.5 528.1 478.8M237.6 525.1Q382.0 505.7 528.1 478.8M262.1 494.0Q394.6 503.0 501.6 494.0M311.0 506.9Q377.9 507.4 471.5 495.8M283.1 490.2Q391.2 486.6 516.5 491.2M283.1 490.2Q393.6 484.9 456.0 469.0M310.9 521.4Q394.6 499.9 474.4 489.3M278.7 483.9Q375.4 488.8 545.1 468.1M272.8 462.9Q387.9 502.1 535.5 495.4M258.3 490.4Q380.4 479.4 520.2 480.9M243.2 513.0Q393.8 489.7 535.5 495.4M237.5 468.5Q375.4 499.6 542.4 477.3M250.4 485.5Q378.1 495.6 525.5 472.2M253.7 467.1Q393.5 495.9 484.2 508.2M257.9 456.3Q377.2 501.1 539.7 505.4M263.4 481.8Q394.2 469.4 448.6 504.4M263.7 516.9Q375.7 478.6 530.4 486.1M252.8 517.2Q383.4 493.4 501.8 504.4M295.4 472.4Q393.4 494.4 475.8 508.7M267.9 524.7Q388.1 473.3 440.0 499.4M301.9 505.0Q384.8 497.5 495.1 487.2M257.9 470.8Q394.5 468.0 539.7 505.4M283.5 495.9Q390.2 490.8 528.1 478.8M289.0 491.2Q391.0 493.5 508.7 475.2M253.7 467.1Q390.9 482.2 474.4 489.3M268.0 494.7Q386.2 507.0 552.7 483.9M298.0 495.5Q376.6 481.0 516.6 501.3M262.1 494.0Q387.2 501.3 501.6 494.0M272.8 462.9Q391.1 499.8 520.2 480.9M257.9 470.8Q377.8 491.3 471.5 495.8M262.3 466.7Q391.8 498.1 545.1 468.1M270.1 456.2Q385.4 489.5 471.5 495.8M270.1 489.7Q393.6 500.0 528.6 498.8M320.0 507.5Q380.3 492.0 440.0 499.4M319.8 496.6Q389.4 506.1 516.5 491.2M283.1 490.2Q377.3 485.2 465.0 466.0M269.1 470.5Q388.6 483.1 495.1 487.2M274.1 469.8Q389.2 473.9 443.6 511.5M295.5 516.1Q384.2 474.4 508.8 488.9M259.8 530.9Q381.7 490.6 494.4 508.7M247.0 481.5Q389.7 474.1 465.0 466.0M254.2 532.5Q387.7 498.4 525.8 492.0M265.0 507.4Q378.3 503.6 452.2 490.8M245.3 456.1Q379.1 496.2 542.4 477.3M267.9 524.7Q381.0 500.1 567.3 475.9M263.7 516.9Q383.1 494.7 443.6 511.5M252.4 472.8Q389.7 475.0 517.8 472.5M273.5 495.1Q375.5 502.3 440.0 499.4M276.1 508.2Q388.9 472.2 567.3 475.9M271.2 518.4Q390.4 493.1 484.2 508.2M274.1 469.8Q387.7 505.0 539.3 484.9M257.9 470.8Q381.0 489.2 508.7 475.2M265.1 501.6Q394.1 493.4 535.5 495.4M302.9 524.3Q387.4 505.8 501.8 504.4M256.7 520.5Q389.8 492.0 558.0 474.4M256.7 520.5Q381.8 474.1 497.3 478.8M298.0 495.5Q390.7 489.9 567.3 475.9M257.0 495.7Q382.0 505.0 560.9 481.5M276.1 508.2Q388.3 501.9 508.7 475.2M248.6 470.0Q377.3 492.4 475.1 503.0M254.7 461.9Q383.5 503.4 525.8 492.0M248.9 464.6Q376.9 493.1 528.6 498.8M278.4 523.0Q380.1 505.1 539.7 505.4M241.4 452.0Q378.4 489.5 558.0 474.4M257.9 470.8Q389.6 497.8 516.6 501.3M271.2 518.4Q381.8 489.7 508.7 475.2M270.1 489.7Q392.0 470.1 508.8 488.9M252.4 472.8Q386.8 497.4 483.7 499.2M269.1 470.5Q377.5 475.4 452.2 490.8M268.3 511.9Q392.3 482.2 508.0 501.1M247.0 481.5Q382.3 479.8 484.2 508.2M289.8 513.9Q393.3 508.0 545.4 492.7M272.8 462.9Q390.2 504.0 501.8 504.4M289.8 513.9Q380.6 488.2 528.6 498.8M287.5 501.1Q390.7 497.2 517.8 472.5M320.0 507.5Q391.5 489.6 445.8 489.3M303.5 492.1Q375.9 487.1 517.8 472.5M271.2 518.4Q393.3 501.9 525.8 492.0M245.5 498.0Q385.9 473.6 493.0 497.9M280.3 512.1Q389.1 479.2 475.8 508.7M285.0 528.9Q378.9 480.3 501.8 504.4M257.0 495.7Q392.8 468.1 516.5 491.2M262.0 451.9Q384.7 487.2 539.7 505.4M248.1 542.0Q394.8 484.8 545.1 468.1M270.1 456.2Q389.2 505.5 456.0 469.0M295.4 472.4Q377.4 497.4 508.7 475.2M262.0 451.9Q380.3 500.6 475.1 503.0M241.4 452.0Q375.1 495.4 494.4 508.7M242.6 531.6Q383.3 506.6 475.8 508.7M236.4 517.6Q379.0 506.8 475.8 508.7M283.5 495.9Q393.0 470.8 535.5 495.4M313.0 497.0Q378.6 469.6 460.0 472.9M289.0 491.2Q385.3 496.0 455.0 478.6M289.0 491.2Q392.5 498.6 560.9 481.5M261.6 538.9Q380.4 498.9 493.0 497.9M253.7 467.1Q376.9 475.7 460.0 472.9M263.4 481.8Q393.9 502.0 494.4 508.7M278.4 523.0Q385.6 487.9 487.6 483.1M242.6 531.6Q391.2 469.8 501.6 494.0M322.0 519.0Q388.3 468.3 525.5 472.2M243.4 518.8Q384.5 500.9 545.1 468.1M289.0 491.2Q379.8 492.3 539.3 484.9M296.2 503.2Q381.6 505.2 445.8 489.3M265.1 501.6Q391.9 505.0 525.5 472.2M243.4 518.8Q384.7 471.5 475.1 503.0M311.2 515.6Q391.9 496.0 508.0 501.1M237.2 459.1Q394.5 492.9 530.4 486.1M257.9 456.3Q390.7 477.0 508.0 501.1M235.9 445.9Q393.1 470.2 517.8 472.5M237.9 473.2Q387.6 483.0 539.3 484.9M236.4 517.6Q386.6 503.9 493.0 497.9M242.7 461.9Q379.0 495.8 493.0 497.9M252.8 517.2Q384.0 494.6 448.6 504.4M263.7 516.9Q376.5 500.9 536.8 471.2M255.6 510.7Q375.6 500.3 493.0 497.9M289.0 479.8Q389.6 470.4 535.5 495.4M289.8 513.9Q380.2 474.6 504.9 481.3M237.5 468.5Q392.2 499.2 474.4 489.3M242.7 461.9Q389.8 506.3 525.8 492.0M263.7 516.9Q390.6 483.6 471.5 495.8M322.0 519.0Q392.8 485.1 475.8 508.7M289.0 491.2Q393.2 473.9 495.1 487.2M329.4 505.0Q392.3 492.0 516.5 491.2M263.7 516.9Q379.5 501.1 475.8 508.7M252.8 517.2Q390.3 486.0 487.6 483.1M247.0 481.5Q382.0 499.8 545.4 492.7M254.2 532.5Q381.8 498.3 508.7 475.2M244.1 540.0Q394.2 495.2 483.7 499.2M274.1 469.8Q375.3 490.7 475.8 508.7M248.7 525.1Q392.7 492.8 508.0 501.1M270.1 456.2Q378.3 469.4 448.6 504.4M283.1 490.2Q390.7 482.9 452.2 490.8M286.0 467.1Q386.2 475.8 440.0 499.4M255.6 510.7Q381.9 480.8 456.0 469.0M278.4 523.0Q380.0 481.3 456.0 469.0M250.4 485.5Q393.8 474.0 494.4 508.7M257.9 456.3Q380.5 480.6 535.6 477.7M257.0 495.7Q378.6 496.8 494.4 508.7M268.3 511.9Q386.4 488.1 535.5 495.4M271.0 507.5Q388.5 496.6 475.1 503.0M302.9 524.3Q386.9 484.3 539.3 484.9M261.6 538.9Q382.8 487.0 475.1 503.0M270.1 489.7Q391.1 491.9 483.2 490.7M283.5 495.9Q375.0 502.4 448.6 504.4M262.8 460.5Q392.4 473.1 455.0 478.6M263.7 516.9Q381.8 480.5 497.3 478.8M262.1 494.0Q390.0 493.6 501.8 504.4M287.5 501.1Q380.1 482.0 528.1 478.8M272.8 462.9Q382.9 493.8 483.2 490.7M237.2 459.1Q379.6 472.7 528.1 478.8M289.8 513.9Q377.8 482.2 508.7 475.2M313.0 497.0Q389.1 493.0 528.1 478.8M261.1 474.0Q394.9 498.0 501.6 494.0M283.5 495.9Q389.1 468.9 471.5 495.8M262.0 451.9Q379.7 468.9 448.6 504.4M303.5 492.1Q386.8 482.5 516.5 491.2M289.8 513.9Q379.7 479.2 501.8 504.4M262.3 466.7Q379.7 502.0 516.6 501.3M257.0 495.7Q389.7 502.7 545.4 492.7M262.1 494.0Q382.2 506.7 545.4 492.7M263.4 481.8Q383.3 503.4 493.0 497.9M310.9 521.4Q382.1 501.1 440.0 499.4M287.0 520.5Q389.5 478.7 501.6 494.0M310.9 521.4Q388.1 501.6 501.6 494.0M242.6 531.6Q393.6 496.8 456.0 469.0M272.8 462.9Q382.1 486.8 516.5 491.2M246.3 535.3Q394.6 503.2 483.7 499.2M278.6 476.6Q391.7 482.9 493.0 497.9M270.1 489.7Q379.7 483.0 460.0 472.9M245.5 498.0Q391.1 476.9 501.6 494.0M313.0 497.0Q377.4 501.5 517.8 472.5M311.2 515.6Q388.5 489.3 487.6 483.1M320.0 507.5Q377.6 501.1 484.2 508.2M301.9 505.0Q380.9 495.1 508.8 488.9M301.9 505.0Q381.8 491.4 440.0 499.4M273.5 495.1Q385.7 472.9 452.2 490.8M242.6 531.6Q379.1 473.7 545.4 492.7M262.8 460.5Q377.1 488.1 487.6 483.1M278.8 461.1Q394.7 500.1 516.6 501.3M247.0 481.5Q391.5 478.5 460.0 472.9M257.0 495.7Q386.6 482.9 530.4 486.1M271.0 507.5Q379.4 482.0 558.0 474.4M303.6 511.8Q378.9 499.6 558.0 474.4M246.0 504.7Q393.0 470.8 487.6 483.1M302.9 524.3Q383.2 501.2 508.8 488.9M246.3 535.3Q384.2 475.4 552.7 483.9M258.3 490.4Q377.9 480.0 530.4 486.1M242.4 469.1Q375.3 479.9 460.0 472.9M322.0 519.0Q384.4 481.9 516.6 501.3M313.0 497.0Q384.3 479.5 542.4 477.3M254.7 461.9Q390.6 470.9 535.5 495.4M271.2 518.4Q394.4 477.5 440.0 499.4M296.2 503.2Q394.5 494.8 516.5 491.2M244.1 540.0Q383.0 495.8 539.7 505.4M248.7 525.1Q376.1 505.5 445.8 489.3M250.5 457.7Q381.6 507.9 474.4 489.3M274.1 469.8Q392.0 480.9 494.4 508.7M265.0 507.4Q392.4 473.5 455.0 478.6M246.0 504.7Q381.9 499.3 528.6 498.8M261.6 538.9Q377.7 484.4 494.4 508.7M289.0 479.8Q390.7 484.3 440.0 499.4M242.3 476.0Q383.6 504.2 494.4 508.7M273.5 495.1Q390.2 481.2 545.1 468.1M237.9 473.2Q383.2 477.3 504.9 481.3M313.0 497.0Q380.5 505.1 495.1 487.2M237.3 478.1Q392.4 487.7 552.7 483.9M268.5 476.8Q392.2 492.0 445.8 489.3M258.3 490.4Q377.4 495.7 545.4 492.7M268.5 476.8Q378.8 479.5 455.0 478.6M278.4 523.0Q392.3 482.8 508.7 475.2M295.5 516.1Q384.4 491.4 501.8 504.4M252.4 472.8Q392.1 480.3 516.6 501.3M254.2 532.5Q376.4 470.3 539.3 484.9M262.3 466.7Q380.6 493.5 549.8 475.1M298.0 495.5Q381.3 504.4 497.3 478.8M283.1 490.2Q384.1 497.2 560.9 481.5M237.2 459.1Q385.3 479.9 536.8 471.2M281.0 502.8Q378.3 471.7 525.5 472.2M257.0 503.2Q378.4 479.4 475.1 503.0M285.3 474.4Q381.3 507.6 471.5 495.8M248.1 542.0Q393.1 488.0 528.6 498.8M303.5 492.1Q382.9 497.4 508.8 488.9M246.3 535.3Q392.2 489.9 549.8 475.1M262.8 460.5Q377.6 498.0 445.8 489.3M322.0 519.0Q394.3 505.5 536.8 471.2M242.7 461.9Q384.2 468.1 487.6 483.1M256.7 520.5Q378.6 489.6 517.8 472.5M268.5 476.8Q392.3 504.0 494.4 508.7M250.5 457.7Q375.3 497.7 545.4 492.7M270.1 489.7Q378.1 497.6 552.7 483.9M248.1 542.0Q394.7 491.0 536.8 471.2M249.8 477.4Q384.8 493.6 508.0 501.1M263.4 481.8Q392.5 470.5 497.3 478.8M278.6 476.6Q388.0 476.3 456.0 469.0M268.0 494.7Q385.2 489.8 471.5 495.8M245.3 456.1Q393.2 479.7 516.5 491.2M274.2 478.5Q378.2 479.6 460.0 472.9M253.7 467.1Q387.8 468.8 539.7 505.4" fill="none" stroke="#7a7a7a" stroke-opacity="0.2" stroke-width="0.5"/>
<path d="M237.2 459.1Q376.0 482.9 567.3 475.9M211.8 455.5Q368.4 473.0 508.0 501.1M214.5 443.9Q370.6 485.3 542.4 477.3M278.6 476.6Q366.8 482.3 517.8 472.5M220.9 467.9Q360.3 468.2 535.6 477.7M280.2 470.5Q360.3 477.9 460.0 472.9M222.7 453.7Q374.2 469.0 567.3 475.9M242.4 469.1Q359.9 474.8 483.7 499.2M274.1 469.8Q369.5 475.2 440.0 499.4M257.9 470.8Q371.8 481.5 471.5 495.8M216.9 455.2Q375.5 476.8 535.5 495.4M248.6 470.0Q367.5 475.8 483.7 499.2M262.3 466.7Q376.5 477.1 528.6 498.8M237.9 473.2Q359.1 484.5 535.6 477.7M223.1 429.5Q366.1 477.5 484.2 508.2M206.3 464.5Q367.7 472.0 528.1 478.8M270.1 456.2Q358.2 486.2 558.0 474.4M230.5 458.8Q376.9 484.3 494.4 508.7M210.1 434.7Q359.9 470.3 484.2 508.2M229.3 443.2Q361.1 485.9 455.0 478.6M221.5 473.5Q358.3 477.3 545.1 468.1M228.0 433.0Q370.8 478.9 535.6 477.7M272.8 462.9Q374.7 484.5 452.2 490.8M235.7 454.5Q371.0 471.4 536.8 471.2M274.2 478.5Q365.0 486.0 560.9 481.5M217.8 464.1Q376.6 469.7 549.8 475.1M274.1 469.8Q375.6 487.6 549.8 475.1M254.4 451.1Q368.8 480.2 460.0 472.9M248.9 464.6Q363.6 487.0 443.6 511.5M215.5 472.5Q379.1 471.2 558.0 474.4M248.9 464.6Q363.8 484.5 443.6 511.5M242.7 461.9Q364.0 488.0 456.0 469.0M230.8 452.6Q369.1 482.0 549.8 475.1M229.3 443.2Q377.4 481.8 528.6 498.8M248.6 470.0Q377.2 485.5 483.7 499.2M217.8 464.1Q370.5 483.6 501.6 494.0M220.2 478.8Q376.4 472.9 487.6 483.1M221.4 459.6Q367.6 473.2 495.1 487.2M263.4 481.8Q371.1 478.0 542.4 477.3M272.8 462.9Q376.2 471.0 487.6 483.1M254.7 461.9Q368.6 480.2 443.6 511.5M269.1 470.5Q374.8 487.1 516.5 491.2M289.0 479.8Q368.1 479.4 542.4 477.3M230.5 458.8Q377.1 475.4 542.4 477.3M262.8 460.5Q371.1 469.0 445.8 489.3M225.8 470.3Q360.9 475.8 508.0 501.1M278.8 461.1Q359.3 469.1 545.1 468.1M254.4 451.1Q358.6 473.2 508.8 488.9M221.6 442.8Q378.7 482.0 542.4 477.3M232.2 471.2Q365.4 474.6 456.0 469.0M241.4 452.0Q358.7 479.2 456.0 469.0M211.8 455.5Q370.3 479.2 549.8 475.1M266.9 465.7Q363.1 474.7 445.8 489.3M235.9 445.9Q378.0 475.0 501.6 494.0M286.0 467.1Q359.5 478.4 440.0 499.4M274.1 469.8Q359.6 482.1 525.8 492.0M286.0 467.1Q360.1 475.5 493.0 497.9M205.1 482.7Q376.1 479.4 440.0 499.4M211.8 455.5Q380.7 473.5 539.7 505.4M237.3 478.1Q368.6 469.4 487.6 483.1M278.8 461.1Q374.3 485.7 475.1 503.0M262.8 460.5Q370.1 480.9 508.7 475.2M230.5 458.8Q359.0 472.8 542.4 477.3M247.7 451.2Q358.0 471.7 493.0 497.9M257.9 470.8Q362.4 484.2 545.4 492.7M253.7 467.1Q365.7 487.3 525.5 472.2M225.7 447.1Q374.4 474.6 508.7 475.2M248.6 470.0Q366.9 485.2 528.6 498.8M215.0 437.5Q381.5 470.8 475.1 503.0M270.1 456.2Q376.5 480.4 495.1 487.2M223.1 429.5Q366.6 471.5 448.6 504.4M221.4 459.6Q369.8 485.0 536.8 471.2M248.5 444.1Q372.1 468.2 475.8 508.7M256.3 476.1Q365.1 487.9 483.2 490.7M221.5 473.5Q369.6 470.7 443.6 511.5M225.0 483.7Q364.9 469.1 567.3 475.9M232.2 471.2Q363.7 487.2 501.8 504.4M242.7 461.9Q381.7 482.1 501.8 504.4M206.3 464.5Q380.3 478.0 440.0 499.4M262.8 460.5Q365.4 468.4 501.6 494.0M249.8 477.4Q362.7 473.0 440.0 499.4M216.9 455.2Q364.1 479.8 549.8 475.1M216.9 455.2Q376.8 468.1 474.4 489.3M256.3 476.1Q361.9 469.1 539.7 505.4M205.1 482.7Q370.9 476.0 535.5 495.4M270.1 456.2Q364.2 487.1 525.8 492.0M274.2 478.5Q367.9 473.5 516.6 501.3M280.2 470.5Q370.1 475.9 525.8 492.0M230.5 458.8Q371.4 474.9 528.6 498.8M254.7 461.9Q372.4 483.8 504.9 481.3M237.3 478.1Q371.3 487.4 528.6 498.8M247.7 451.2Q377.7 469.5 539.3 484.9M225.0 483.7Q372.1 484.8 516.6 501.3M216.9 455.2Q371.2 486.6 474.4 489.3M214.1 460.7Q381.3 473.5 558.0 474.4M261.1 474.0Q365.3 484.1 443.6 511.5M221.5 473.5Q371.3 473.0 504.9 481.3M257.9 456.3Q374.0 477.4 501.8 504.4M232.8 464.3Q363.1 482.9 508.0 501.1M210.3 468.1Q358.4 484.3 567.3 475.9M280.2 470.5Q359.1 474.5 465.0 466.0M214.1 460.7Q370.6 476.5 535.6 477.7M229.3 443.2Q380.7 480.5 455.0 478.6M221.4 459.6Q380.4 480.1 549.8 475.1M270.1 456.2Q363.1 470.5 539.3 484.9M235.4 483.1Q378.0 474.8 528.1 478.8M220.9 467.9Q372.7 481.2 552.7 483.9M225.7 447.1Q359.6 468.2 471.5 495.8M237.3 478.1Q378.6 471.3 552.7 483.9M230.8 452.6Q369.3 487.7 545.4 492.7M242.3 476.0Q358.5 487.4 539.7 505.4M205.1 482.7Q381.8 468.9 517.8 472.5M207.1 472.1Q379.3 477.2 475.1 503.0M223.1 429.5Q372.5 486.5 455.0 478.6M286.0 467.1Q364.1 485.2 525.8 492.0M254.4 451.1Q378.1 482.5 525.5 472.2M222.7 453.7Q373.2 484.7 475.1 503.0M256.3 476.1Q366.0 485.7 501.6 494.0M225.0 483.7Q363.9 475.4 520.2 480.9M210.1 434.7Q358.4 481.1 525.5 472.2M230.8 452.6Q380.5 468.5 460.0 472.9M237.5 468.5Q379.3 476.0 525.8 492.0M221.6 442.8Q368.8 485.2 487.6 483.1M220.2 478.8Q380.8 486.1 474.4 489.3M206.3 464.5Q366.7 470.2 497.3 478.8M237.5 468.5Q371.7 487.7 483.2 490.7M242.3 476.0Q365.7 475.9 465.0 466.0M225.4 463.5Q368.8 471.8 536.8 471.2M254.7 461.9Q362.4 475.9 501.8 504.4M280.2 470.5Q370.1 480.2 456.0 469.0M208.2 458.9Q369.6 476.1 455.0 478.6M225.8 470.3Q362.7 471.6 440.0 499.4M228.2 438.2Q362.9 468.5 560.9 481.5M210.1 434.7Q371.2 478.5 501.8 504.4M257.9 456.3Q374.2 470.2 525.8 492.0M254.4 451.1Q358.3 483.8 528.1 478.8M254.7 461.9Q371.5 477.9 545.1 468.1M216.9 455.2Q380.9 479.5 493.0 497.9M227.6 476.5Q370.5 485.3 460.0 472.9M248.9 464.6Q374.4 480.7 528.6 498.8M286.0 467.1Q366.1 483.2 516.6 501.3M270.1 456.2Q362.8 483.0 440.0 499.4M221.4 459.6Q374.4 473.6 517.8 472.5M253.7 467.1Q360.0 470.5 497.3 478.8M289.0 479.8Q366.4 487.3 474.4 489.3M237.3 478.1Q379.7 474.9 448.6 504.4M235.9 445.9Q380.2 481.6 487.6 483.1M295.4 472.4Q366.9 487.4 501.6 494.0M248.5 444.1Q379.6 476.7 460.0 472.9M268.5 476.8Q362.5 469.8 474.4 489.3M221.6 442.8Q369.9 487.1 456.0 469.0M248.9 464.6Q381.7 476.0 465.0 466.0M280.2 470.5Q375.4 475.5 535.5 495.4M248.6 470.0Q366.6 484.7 535.5 495.4M229.3 443.2Q376.2 479.3 484.2 508.2M217.8 464.1Q360.5 477.4 528.6 498.8M237.3 478.1Q358.7 471.5 475.8 508.7M248.6 470.0Q381.7 472.4 549.8 475.1M220.2 478.8Q370.1 484.6 483.7 499.2M209.5 450.8Q380.8 468.4 452.2 490.8M256.3 476.1Q381.8 472.3 508.0 501.1M232.2 471.2Q368.4 476.2 445.8 489.3M256.3 476.1Q371.1 486.4 530.4 486.1M222.7 453.7Q365.4 473.6 545.4 492.7M248.9 464.6Q364.6 475.9 440.0 499.4M225.4 463.5Q379.8 475.5 508.0 501.1M228.2 438.2Q362.4 485.1 528.1 478.8M232.2 471.2Q374.0 478.2 560.9 481.5M228.0 433.0Q362.7 476.7 452.2 490.8M295.4 472.4Q375.4 486.2 440.0 499.4M232.8 464.3Q361.1 475.3 520.2 480.9M295.4 472.4Q376.1 476.1 504.9 481.3M208.2 458.9Q369.1 476.3 560.9 481.5M221.5 473.5Q377.0 471.0 560.9 481.5M229.3 443.2Q360.8 474.0 560.9 481.5M242.3 476.0Q365.2 484.2 456.0 469.0M225.4 463.5Q376.9 478.4 525.5 472.2M268.5 476.8Q360.0 480.0 495.1 487.2M208.2 458.9Q372.8 484.6 528.1 478.8M223.1 429.5Q379.7 483.5 445.8 489.3M209.5 450.8Q364.4 470.0 443.6 511.5M269.1 470.5Q366.6 470.2 528.1 478.8M254.4 451.1Q374.6 478.6 508.8 488.9M253.7 467.1Q362.2 486.2 493.0 497.9M247.0 481.5Q361.0 479.0 483.7 499.2M268.5 476.8Q368.6 483.8 495.1 487.2M274.1 469.8Q378.0 478.4 558.0 474.4M261.1 474.0Q370.9 471.9 493.0 497.9M207.1 472.1Q367.1 468.1 528.1 478.8M221.4 459.6Q368.0 468.5 495.1 487.2M285.3 474.4Q370.5 471.1 460.0 472.9M256.3 476.1Q371.6 471.4 567.3 475.9M235.9 445.9Q367.8 479.3 475.8 508.7M207.5 442.4Q376.0 472.0 471.5 495.8M222.7 453.7Q376.3 469.3 474.4 489.3M228.2 438.2Q369.6 473.3 474.4 489.3M232.2 471.2Q378.7 486.4 528.1 478.8M262.0 451.9Q379.3 484.4 452.2 490.8M211.8 455.5Q377.0 473.1 528.6 498.8M270.1 456.2Q366.0 473.8 443.6 511.5M249.8 477.4Q379.5 482.7 535.5 495.4M262.0 451.9Q376.5 473.5 493.0 497.9M207.1 472.1Q380.5 475.8 448.6 504.4M208.3 477.3Q369.1 486.0 493.0 497.9M222.7 453.7Q359.6 477.7 542.4 477.3M242.3 476.0Q378.6 473.4 448.6 504.4M219.9 435.7Q367.1 478.6 448.6 504.4M220.2 478.8Q369.0 483.4 465.0 466.0M232.8 464.3Q380.9 477.4 545.4 492.7M254.7 461.9Q366.2 482.9 465.0 466.0M262.0 451.9Q361.8 484.5 536.8 471.2M227.6 476.5Q371.9 469.6 516.6 501.3M241.4 452.0Q364.9 483.0 497.3 478.8M225.0 483.7Q363.2 478.9 475.8 508.7M214.1 460.7Q358.7 485.6 440.0 499.4M262.0 451.9Q373.6 469.8 471.5 495.8M205.1 482.7Q363.2 487.5 525.5 472.2M268.5 476.8Q370.6 471.8 520.2 480.9M263.4 481.8Q362.8 468.7 455.0 478.6M223.1 429.5Q363.4 487.8 517.8 472.5" fill="none" stroke="#858585" stroke-opacity="0.2" stroke-width="0.5"/>
<path d="M481.3 341.9L460.0 472.9M504.5 355.3L440.0 499.4M489.4 397.1L456.0 469.0M470.7 387.2L440.0 499.4M470.7 387.2L440.0 499.4M466.1 374.5L443.6 511.5M499.8 339.1L455.0 478.6M466.1 374.5L452.2 490.8M484.3 376.6L448.6 504.4M489.5 418.9L445.8 489.3M473.5 382.4L448.6 504.4M484.3 376.6L456.0 469.0M482.6 365.7L455.0 478.6M495.7 417.8L455.0 478.6M498.6 404.9L448.6 504.4M472.8 356.5L448.6 504.4M487.1 351.4L445.8 489.3M490.6 381.5L456.0 469.0M495.0 365.1L455.0 478.6M489.3 356.6L455.0 478.6M484.3 376.6L445.8 489.3M485.3 403.2L460.0 472.9M473.8 348.1L445.8 489.3M495.0 365.1L452.2 490.8M504.0 384.8L443.6 511.5M495.0 390.2L465.0 466.0M488.5 363.9L443.6 511.5M500.7 398.3L456.0 469.0M490.6 381.5L465.0 466.0M501.2 392.0L456.0 469.0M488.5 363.9L460.0 472.9M489.5 418.9L456.0 469.0M479.1 373.5L445.8 489.3M475.0 343.0L443.6 511.5M481.2 398.8L443.6 511.5M489.4 397.1L456.0 469.0M470.7 377.2L456.0 469.0M501.7 409.1L452.2 490.8M502.2 349.6L448.6 504.4M501.7 409.1L455.0 478.6M481.2 398.8L445.8 489.3M495.3 350.5L455.0 478.6M467.4 369.1L445.8 489.3M495.7 417.8L445.8 489.3M467.4 369.1L445.8 489.3M495.7 417.8L448.6 504.4M504.5 355.3L445.8 489.3M489.4 397.1L465.0 466.0M482.6 365.7L456.0 469.0M499.0 358.4L440.0 499.4M499.0 358.4L456.0 469.0M467.0 359.6L456.0 469.0M491.7 370.9L443.6 511.5M488.5 363.9L443.6 511.5M499.9 344.3L465.0 466.0M494.5 410.3L455.0 478.6M495.0 390.2L440.0 499.4M472.8 356.5L448.6 504.4M500.7 398.3L460.0 472.9M494.6 396.7L452.2 490.8M466.1 374.5L460.0 472.9M479.6 349.4L440.0 499.4M484.3 376.6L455.0 478.6M491.8 404.9L440.0 499.4M494.7 344.8L460.0 472.9M475.0 343.0L465.0 466.0M500.7 398.3L445.8 489.3M494.6 396.7L460.0 472.9M485.3 371.3L445.8 489.3M490.6 381.5L448.6 504.4M477.8 362.6L455.0 478.6M472.8 356.5L445.8 489.3M473.8 348.1L448.6 504.4M491.4 339.8L440.0 499.4M493.5 359.2L455.0 478.6M484.6 355.1L455.0 478.6M488.4 411.8L452.2 490.8M493.5 359.2L465.0 466.0M494.6 396.7L445.8 489.3M495.0 365.1L455.0 478.6M490.6 381.5L460.0 472.9M483.2 360.6L445.8 489.3M484.3 376.6L452.2 490.8M504.5 361.0L455.0 478.6M494.6 396.7L455.0 478.6M488.4 411.8L455.0 478.6M479.1 373.5L460.0 472.9M491.7 370.9L440.0 499.4M503.9 417.8L448.6 504.4M479.1 373.5L440.0 499.4M485.3 371.3L460.0 472.9M487.9 388.6L445.8 489.3M485.3 371.3L443.6 511.5M470.7 387.2L465.0 466.0M479.3 380.2L460.0 472.9M504.2 402.8L440.0 499.4M495.0 365.1L445.8 489.3M486.3 346.0L456.0 469.0M501.7 409.1L460.0 472.9M470.8 364.4L456.0 469.0M488.5 363.9L448.6 504.4M489.5 418.9L465.0 466.0M475.0 343.0L440.0 499.4M488.5 363.9L448.6 504.4M479.3 380.2L445.8 489.3M499.0 358.4L443.6 511.5M495.0 365.1L452.2 490.8M475.0 343.0L455.0 478.6M501.7 409.1L445.8 489.3M481.2 398.8L443.6 511.5M482.6 365.7L460.0 472.9M491.4 339.8L445.8 489.3M499.9 377.5L455.0 478.6M494.6 396.7L448.6 504.4M479.1 373.5L465.0 466.0M484.6 355.1L460.0 472.9M495.0 365.1L448.6 504.4M484.6 355.1L455.0 478.6M495.3 350.5L465.0 466.0M489.5 418.9L460.0 472.9M495.3 350.5L456.0 469.0M475.0 343.0L455.0 478.6M500.7 398.3L455.0 478.6M487.1 351.4L455.0 478.6M500.8 366.3L445.8 489.3M497.6 384.7L443.6 511.5M504.0 384.8L440.0 499.4M491.8 404.9L445.8 489.3M481.3 341.9L448.6 504.4M473.5 382.4L455.0 478.6M475.0 343.0L455.0 478.6M479.3 380.2L465.0 466.0M473.8 348.1L465.0 466.0M487.1 351.4L445.8 489.3M495.0 365.1L465.0 466.0M481.3 341.9L455.0 478.6M485.3 403.2L456.0 469.0M495.0 365.1L452.2 490.8M481.3 341.9L445.8 489.3M503.9 417.8L445.8 489.3M484.3 376.6L452.2 490.8M479.1 373.5L456.0 469.0M495.7 417.8L443.6 511.5M488.4 411.8L452.2 490.8M495.0 365.1L456.0 469.0M489.3 356.6L445.8 489.3M479.3 380.2L452.2 490.8M499.9 344.3L445.8 489.3M479.5 356.5L443.6 511.5M497.6 384.7L460.0 472.9M483.2 360.6L456.0 469.0M503.9 417.8L452.2 490.8M491.8 404.9L452.2 490.8M486.3 346.0L440.0 499.4M502.2 349.6L456.0 469.0M499.0 358.4L460.0 472.9M495.0 390.2L452.2 490.8M499.9 344.3L456.0 469.0M485.3 403.2L460.0 472.9M484.3 376.6L460.0 472.9M498.5 413.3L455.0 478.6M495.3 350.5L465.0 466.0M489.3 356.6L440.0 499.4M500.7 398.3L445.8 489.3M483.9 392.4L460.0 472.9M501.7 409.1L448.6 504.4M472.8 356.5L443.6 511.5M504.5 361.0L448.6 504.4M495.0 390.2L460.0 472.9M495.0 365.1L443.6 511.5M467.0 359.6L456.0 469.0M470.8 364.4L460.0 472.9M473.5 382.4L440.0 499.4M481.3 341.9L460.0 472.9M502.2 349.6L460.0 472.9M495.0 365.1L448.6 504.4M504.5 355.3L455.0 478.6M475.0 343.0L460.0 472.9M499.8 339.1L460.0 472.9M467.0 359.6L460.0 472.9" fill="none" stroke="#5a5a5a" stroke-opacity="0.25" stroke-width="0.5"/>
<path d="M452.2 490.8L434.8 544.8M452.2 490.8L425.7 569.1M465.0 466.0L437.9 518.7M445.8 489.3L446.3 545.5M456.0 469.0L437.9 518.7M465.0 466.0L407.1 562.5M443.6 511.5L444.4 536.2M452.2 490.8L441.5 563.6M443.6 511.5L442.3 532.0M452.2 490.8L410.0 554.0M460.0 472.9L434.8 544.8M452.2 490.8L414.7 559.6M445.8 489.3L422.2 564.8M456.0 469.0L427.3 545.2M443.6 511.5L417.9 547.7M452.2 490.8L427.3 545.2M460.0 472.9L443.6 511.5M440.0 499.4L438.2 559.2M465.0 466.0L439.1 539.4M455.0 478.6L431.1 526.2M460.0 472.9L412.2 566.9M460.0 472.9L434.1 551.9M465.0 466.0L425.4 535.3M448.6 504.4L438.2 559.2M443.6 511.5L425.7 569.1M452.2 490.8L437.9 518.7M440.0 499.4L422.2 564.8M443.6 511.5L438.2 559.2M443.6 511.5L429.0 531.3M465.0 466.0L414.7 559.6M460.0 472.9L431.9 536.2M455.0 478.6L414.7 559.6M465.0 466.0L439.1 539.4M460.0 472.9L437.9 518.7M443.6 511.5L422.2 564.8M448.6 504.4L429.0 531.3M455.0 478.6L438.2 559.2M465.0 466.0L425.4 535.3M455.0 478.6L425.7 569.1M460.0 472.9L444.4 536.2M443.6 511.5L442.3 532.0M456.0 469.0L420.1 555.2M455.0 478.6L437.9 518.7M448.6 504.4L431.9 536.2M452.2 490.8L410.0 554.0M455.0 478.6L444.4 536.2M445.8 489.3L434.8 544.8M440.0 499.4L417.9 547.7M443.6 511.5L417.9 547.7M465.0 466.0L426.8 555.4M443.6 511.5L442.3 532.0M460.0 472.9L444.4 536.2M460.0 472.9L414.7 559.6M460.0 472.9L431.1 526.2M455.0 478.6L444.4 536.2M456.0 469.0L437.9 518.7M445.8 489.3L427.3 545.2M460.0 472.9L442.3 532.0M460.0 472.9L410.0 554.0M443.6 511.5L437.9 518.7M440.0 499.4L425.7 569.1M445.8 489.3L444.3 523.0M440.0 499.4L407.1 562.5M455.0 478.6L444.3 523.0M460.0 472.9L436.7 569.1M460.0 472.9L438.2 559.2M443.6 511.5L439.1 539.4M460.0 472.9L410.0 554.0M440.0 499.4L426.8 555.4M448.6 504.4L412.2 566.9M465.0 466.0L441.5 563.6M455.0 478.6L431.9 536.2M452.2 490.8L434.1 551.9M452.2 490.8L422.6 546.7M452.2 490.8L414.7 559.6M465.0 466.0L443.6 557.4M443.6 511.5L429.0 531.3M448.6 504.4L442.3 532.0M455.0 478.6L431.1 526.2M455.0 478.6L441.5 563.6M445.8 489.3L426.6 563.3M460.0 472.9L443.6 511.5M445.8 489.3L443.6 557.4M452.2 490.8L425.4 535.3M455.0 478.6L422.2 564.8M440.0 499.4L425.4 535.3M443.6 511.5L426.8 555.4M452.2 490.8L434.8 544.8M456.0 469.0L432.5 561.5M460.0 472.9L431.1 526.2M455.0 478.6L431.9 536.2M460.0 472.9L422.2 564.8M452.2 490.8L446.3 545.5M455.0 478.6L414.7 559.6M465.0 466.0L441.5 563.6M445.8 489.3L437.9 518.7M465.0 466.0L407.1 562.5M445.8 489.3L444.4 536.2M465.0 466.0L437.9 518.7M460.0 472.9L443.6 557.4M456.0 469.0L439.1 539.4M455.0 478.6L425.7 569.1M452.2 490.8L425.4 535.3M445.8 489.3L432.5 561.5M460.0 472.9L439.1 539.4M460.0 472.9L422.6 546.7M440.0 499.4L425.7 569.1M452.2 490.8L434.8 544.8M465.0 466.0L434.1 551.9M456.0 469.0L425.4 535.3M440.0 499.4L446.3 545.5M440.0 499.4L436.7 569.1M440.0 499.4L427.3 545.2M456.0 469.0L410.0 554.0M460.0 472.9L427.3 545.2M440.0 499.4L443.6 557.4M460.0 472.9L446.3 545.5M460.0 472.9L429.0 531.3M440.0 499.4L407.1 562.5M440.0 499.4L432.5 561.5M452.2 490.8L420.1 555.2M440.0 499.4L431.1 526.2M443.6 511.5L442.3 532.0M460.0 472.9L429.0 531.3M448.6 504.4L446.3 545.5M452.2 490.8L434.1 551.9M440.0 499.4L431.9 536.2M460.0 472.9L446.3 545.5M465.0 466.0L431.9 536.2M460.0 472.9L438.2 559.2M460.0 472.9L441.5 563.6M455.0 478.6L414.7 559.6M443.6 511.5L434.8 544.8M455.0 478.6L446.3 545.5M448.6 504.4L431.9 536.2M456.0 469.0L443.6 557.4M456.0 469.0L444.4 536.2M452.2 490.8L446.3 545.5M443.6 511.5L443.4 550.1M440.0 499.4L446.3 545.5" fill="none" stroke="#4a4a4a" stroke-opacity="0.3" stroke-width="0.5"/>
<path d="M501.2 392.0L426.8 555.4M488.4 411.8L443.4 550.1M493.5 359.2L422.6 546.7M487.1 351.4L444.3 523.0M495.0 365.1L443.4 550.1M489.5 418.9L439.1 539.4M486.3 346.0L443.4 550.1M499.0 358.4L427.3 545.2M489.5 418.9L443.6 557.4M479.6 349.4L432.5 561.5M504.2 402.8L432.5 561.5M467.0 359.6L427.3 545.2M495.0 365.1L441.5 563.6M504.2 402.8L412.2 566.9M466.1 374.5L412.2 566.9M477.8 362.6L429.0 531.3M481.2 398.8L425.7 569.1M504.0 384.8L425.7 569.1M491.8 404.9L437.9 518.7M499.9 377.5L434.1 551.9M499.9 344.3L443.6 511.5M487.9 388.6L427.3 545.2M501.2 392.0L426.8 555.4M504.5 361.0L414.7 559.6M490.6 381.5L444.4 536.2M486.3 346.0L429.0 531.3M501.2 392.0L432.5 561.5M494.6 396.7L427.3 545.2M482.6 365.7L414.7 559.6M499.8 339.1L443.6 557.4M497.6 384.7L422.6 546.7M504.2 402.8L441.5 563.6M503.9 417.8L426.6 563.3M470.7 387.2L446.3 545.5M498.5 413.3L431.1 526.2M477.8 362.6L407.1 562.5M491.7 370.9L442.3 532.0M474.4 369.5L443.4 550.1M473.8 348.1L437.9 518.7M479.6 349.4L444.4 536.2M501.2 392.0L443.6 511.5M488.5 363.9L446.3 545.5M474.4 369.5L417.9 547.7M495.7 417.8L420.1 555.2M466.1 374.5L425.7 569.1M495.0 365.1L422.6 546.7M488.5 363.9L438.2 559.2M489.5 418.9L434.1 551.9M499.9 344.3L443.6 511.5M499.0 358.4L407.1 562.5" fill="none" stroke="#7a7a7a" stroke-opacity="0.25" stroke-width="0.5"/>
<path d="M562.0 434.2L542.4 477.3M554.7 436.2L535.5 495.4M533.1 453.1L493.0 497.9M554.7 436.2L530.4 486.1M539.9 462.5L535.6 477.7M547.3 439.0L495.1 487.2M558.8 462.3L474.4 489.3M575.7 444.7L471.5 495.8M554.7 436.2L528.6 498.8M574.0 432.4L475.8 508.7M519.5 432.6L508.7 475.2M571.4 449.0L440.0 499.4M522.2 426.3L508.7 475.2M553.7 449.6L483.2 490.7M554.7 436.2L475.1 503.0M570.4 453.4L504.9 481.3M583.0 426.8L545.1 468.1M559.3 444.8L558.0 474.4M567.6 436.6L465.0 466.0M548.3 453.7L460.0 472.9M520.8 446.3L530.4 486.1M575.5 426.7L448.6 504.4M579.1 431.1L535.5 495.4M534.8 440.7L497.3 478.8M524.2 435.8L501.8 504.4M547.3 439.0L471.5 495.8M548.3 453.7L525.8 492.0M529.8 434.9L445.8 489.3M562.4 439.8L535.6 477.7M565.1 462.9L525.8 492.0M570.2 464.9L528.1 478.8M581.9 446.4L528.1 478.8M570.4 453.4L484.2 508.2M533.1 453.1L493.0 497.9M533.1 453.1L520.2 480.9M574.0 432.4L542.4 477.3M578.1 449.1L508.7 475.2M519.5 432.6L493.0 497.9M548.3 453.7L452.2 490.8M528.2 453.9L549.8 475.1M561.4 466.6L443.6 511.5M541.9 439.1L474.4 489.3M541.9 439.1L504.9 481.3M560.9 455.2L535.5 495.4M567.6 436.6L501.8 504.4M562.4 439.8L471.5 495.8M547.3 439.0L494.4 508.7M539.9 462.5L508.0 501.1M539.9 462.5L493.0 497.9M571.4 449.0L445.8 489.3M528.7 429.8L508.8 488.9M531.4 446.5L558.0 474.4M581.9 446.4L487.6 483.1M545.6 429.9L558.0 474.4M579.1 431.1L552.7 483.9M555.9 429.7L517.8 472.5M575.2 464.8L525.8 492.0M539.5 448.9L448.6 504.4M525.7 442.7L539.3 484.9M548.3 453.7L525.5 472.2M537.5 435.6L545.1 468.1M554.7 436.2L456.0 469.0M580.0 440.6L552.7 483.9M567.6 436.6L440.0 499.4M524.9 450.0L535.6 477.7M574.0 432.4L471.5 495.8M579.1 431.1L448.6 504.4M567.6 436.6L552.7 483.9M553.7 449.6L552.7 483.9M559.0 450.4L542.4 477.3M575.7 444.7L539.3 484.9M561.4 466.6L483.2 490.7M529.8 434.9L567.3 475.9M571.4 449.0L504.9 481.3M533.4 459.2L501.8 504.4M579.1 431.1L525.8 492.0M565.5 453.3L448.6 504.4M567.9 458.2L443.6 511.5M575.7 444.7L508.0 501.1M575.7 444.7L545.4 492.7M545.6 429.9L542.4 477.3M551.2 426.6L539.3 484.9M546.8 448.3L452.2 490.8M545.6 429.9L520.2 480.9M559.0 450.4L530.4 486.1M548.3 453.7L455.0 478.6M524.9 450.0L545.1 468.1M523.5 457.3L455.0 478.6M539.9 462.5L455.0 478.6M571.4 449.0L440.0 499.4M524.2 435.8L508.7 475.2M537.6 428.7L452.2 490.8M583.0 426.8L560.9 481.5M533.4 459.2L483.7 499.2M575.7 444.7L549.8 475.1M560.9 455.2L445.8 489.3M574.4 437.8L483.2 490.7M574.0 432.4L455.0 478.6M567.9 458.2L552.7 483.9M562.0 434.2L456.0 469.0M553.2 443.5L440.0 499.4M529.8 434.9L528.6 498.8M548.3 453.7L501.8 504.4M570.2 464.9L535.5 495.4M581.9 446.4L558.0 474.4M567.6 436.6L539.3 484.9M541.9 439.1L542.4 477.3M579.1 431.1L475.1 503.0M525.7 442.7L549.8 475.1M573.4 458.1L516.5 491.2M581.9 446.4L495.1 487.2M573.4 458.1L445.8 489.3M534.8 440.7L516.6 501.3M515.1 445.1L493.0 497.9M553.2 443.5L483.7 499.2M520.8 446.3L536.8 471.2M553.2 443.5L552.7 483.9M524.9 450.0L508.8 488.9M553.7 449.6L445.8 489.3M528.2 453.9L483.2 490.7M525.7 442.7L484.2 508.2M553.7 449.6L516.5 491.2M573.4 458.1L471.5 495.8M567.9 458.2L535.5 495.4M570.2 464.9L525.8 492.0M541.9 439.1L460.0 472.9M520.9 452.8L460.0 472.9M537.6 428.7L504.9 481.3M553.7 449.6L504.9 481.3M524.2 435.8L516.6 501.3M578.7 460.0L539.7 505.4M575.5 426.7L508.7 475.2M583.0 426.8L456.0 469.0M573.4 458.1L448.6 504.4M559.0 450.4L471.5 495.8M529.8 434.9L487.6 483.1M580.0 440.6L567.3 475.9M565.5 453.3L494.4 508.7M575.2 464.8L530.4 486.1M563.9 449.0L545.4 492.7M575.5 426.7L545.1 468.1M520.9 452.8L440.0 499.4M570.4 453.4L508.8 488.9M523.5 457.3L528.1 478.8M534.8 440.7L495.1 487.2M522.2 426.3L443.6 511.5M531.4 446.5L487.6 483.1M548.3 453.7L475.8 508.7M577.5 454.5L536.8 471.2M581.9 446.4L516.5 491.2M545.6 429.9L493.0 497.9M515.3 425.4L517.8 472.5M568.1 442.3L528.6 498.8M525.7 442.7L552.7 483.9M570.2 464.9L494.4 508.7M565.1 462.9L528.1 478.8M562.4 439.8L483.7 499.2M571.4 449.0L440.0 499.4M580.0 440.6L525.8 492.0M547.3 439.0L460.0 472.9" fill="none" stroke="#5a5a5a" stroke-opacity="0.28" stroke-width="0.5"/>
<path d="M211.1 413.8L203.4 410.0M273.5 495.1L269.1 470.5M347.0 507.8L322.0 519.0M265.1 501.6L259.8 530.9M193.2 404.3L191.8 426.3M179.0 408.1L179.3 426.3M320.0 507.5L322.0 519.0M200.9 469.7L207.1 472.1M237.3 478.1L242.4 469.1M197.3 429.4L209.2 428.1M280.2 470.5L263.4 481.8M174.2 448.3L199.3 458.5M237.5 468.5L219.0 488.0M187.1 432.7L170.2 453.4M211.8 455.5L210.1 434.7M241.3 494.6L237.5 468.5M278.6 476.6L257.9 470.8M185.7 427.2L177.7 413.3M184.6 464.7L200.2 442.9M187.2 397.2L187.9 413.2M237.3 478.1L220.9 467.9M214.5 443.9L207.5 442.4M202.9 449.0L203.5 432.8M248.5 444.1L237.2 459.1M221.6 442.8L192.6 445.6M296.2 503.2L301.9 505.0M272.8 462.9L254.4 451.1M192.6 445.6L179.3 426.3M191.8 426.3L207.5 442.4M225.4 463.5L235.4 483.1M285.0 528.9L276.1 508.2M343.0 517.0L336.1 508.4M250.4 485.5L242.3 476.0M207.9 420.6L217.5 415.0M209.5 450.8L216.9 455.2M286.0 467.1L266.9 465.7M236.4 517.6L210.2 514.7M278.8 461.1L266.9 465.7M237.3 478.1L230.8 452.6M205.6 488.8L197.7 465.1M256.3 476.1L227.6 476.5M336.1 508.4L347.0 507.8M184.0 470.9L203.7 455.0M278.7 483.9L257.0 495.7M217.8 464.1L229.3 443.2M228.0 433.0L229.3 443.2M272.8 462.9L262.0 451.9M289.0 491.2L265.1 501.6M203.5 432.8L225.7 447.1M268.3 511.9L271.0 507.5M230.5 458.8L257.9 470.8M278.7 483.9L303.5 492.1M250.5 457.7L257.9 456.3M207.9 420.6L185.4 406.3M193.1 433.3L185.9 447.8M289.8 513.9L283.5 495.9M283.1 490.2L309.4 501.1M276.1 508.2L287.0 520.5M248.6 470.0L220.9 467.9M197.3 429.4L172.9 418.3M262.3 466.7L248.6 470.0M190.1 460.9L190.5 476.0M253.7 467.1L262.1 494.0M257.0 495.7L276.1 508.2M274.2 478.5L270.1 456.2M227.6 476.5L225.0 483.7M174.2 448.3L172.0 436.8M202.9 449.0L207.5 442.4M210.3 468.1L205.6 488.8M203.5 432.8L214.4 428.4M207.1 472.1L198.0 475.4M208.3 477.3L205.1 482.7M319.8 496.6L301.9 505.0M192.6 417.3L212.6 422.6M230.8 452.6L221.4 459.6M237.2 459.1L262.8 460.5M319.8 496.6L296.2 503.2M229.8 532.6L231.3 520.2M309.4 501.1L301.9 505.0M178.8 449.5L203.7 455.0M220.5 408.7L204.2 428.0M174.9 423.6L185.9 447.8M222.7 453.7L214.4 428.4M216.3 519.5L242.6 531.6M183.5 439.2L163.7 428.4M235.9 445.9L214.1 460.7M222.8 417.2L215.0 408.6M199.3 458.5L210.1 434.7M252.4 472.8L278.7 483.9M188.1 454.8L187.1 432.7M211.8 455.5L194.8 470.5M187.1 432.7L202.3 421.5M210.3 468.1L200.2 442.9M200.2 442.9L200.3 436.9M208.3 477.3L214.1 460.7M230.5 458.8L228.0 433.0M241.3 494.6L265.1 501.6M187.1 432.7L203.4 410.0M180.6 443.4L186.3 419.3M212.6 422.6L203.5 432.8M289.0 491.2L301.9 505.0M185.9 447.8L202.9 449.0M206.3 464.5L217.8 464.1M254.2 532.5L229.8 532.6M215.0 437.5L209.2 428.1M242.6 442.1L262.0 451.9M221.4 459.6L207.1 472.1M247.0 481.5L266.9 465.7M233.8 438.1L217.5 415.0M221.4 459.6L195.8 451.2M271.0 507.5L283.1 490.2M232.2 471.2L257.9 470.8M172.0 436.8L173.4 410.0M222.7 453.7L223.1 429.5M278.8 461.1L254.7 461.9M274.1 469.8L248.6 470.0M179.3 426.3L187.1 432.7M191.2 466.2L207.5 442.4M195.2 440.0L187.1 432.7M245.3 456.1L235.9 445.9M322.0 519.0L324.0 500.8M355.2 508.3L329.4 505.0M258.3 490.4L283.5 495.9M248.7 525.1L267.9 524.7M259.8 530.9L268.3 511.9M219.0 488.0L199.1 501.8M222.7 453.7L200.2 442.9M197.9 403.0L192.6 417.3M214.4 428.4L222.8 417.2M178.8 449.5L178.0 437.1M185.9 447.8L185.7 427.2M212.2 489.5L207.1 472.1M203.5 432.8L211.1 413.8M225.7 422.8L207.9 420.6M171.1 442.8L194.3 456.8M274.2 478.5L278.6 476.6M230.5 458.8L209.5 450.8M252.4 472.8L237.3 478.1M237.3 478.1L210.3 468.1M268.0 494.7L252.4 472.8M190.6 408.4L179.3 426.3M328.0 512.5L343.0 517.0M194.3 456.8L206.3 464.5M216.9 455.2L200.2 442.9M202.3 421.5L182.1 431.0M187.1 432.7L203.5 432.8M235.9 445.9L223.1 429.5M209.8 503.4L224.0 512.8M228.2 438.2L235.9 445.9M241.4 452.0L254.7 461.9M217.8 464.1L220.2 478.8M200.2 442.9L178.8 449.5M195.2 440.0L190.1 460.9M278.7 483.9L250.4 485.5M236.4 517.6L256.1 526.1M281.0 502.8L309.4 501.1M215.5 505.7L237.6 525.1M178.0 437.1L200.3 436.9M178.0 437.1L174.1 430.5M257.0 503.2L283.1 490.2M210.3 468.1L209.5 450.8M256.3 476.1L263.4 481.8M187.9 413.2L200.3 436.9M209.2 428.1L212.6 422.6M211.8 455.5L209.5 450.8M283.5 495.9L280.3 512.1M273.5 495.1L280.2 470.5M225.7 447.1L233.8 438.1M178.0 437.1L168.8 433.6M265.0 507.4L263.4 481.8M187.9 413.2L187.1 432.7M184.0 470.9L188.1 454.8M237.3 478.1L248.6 470.0M274.1 469.8L253.7 467.1M267.9 524.7L254.2 532.5M265.0 507.4L273.5 495.1M263.4 481.8L289.0 479.8M265.1 501.6L271.0 507.5M278.1 529.7L278.4 523.0M265.1 501.6L287.0 520.5M285.3 474.4L283.1 490.2M271.0 507.5L270.1 489.7M229.3 443.2L230.8 452.6M276.1 508.2L296.2 503.2M227.6 476.5L245.3 456.1M229.3 443.2L230.8 452.6M220.2 478.8L216.9 455.2M311.2 515.6L301.9 505.0M218.8 423.3L211.1 413.8M242.6 442.1L262.8 460.5M199.3 458.5L210.1 434.7M243.4 518.8L257.0 503.2M174.1 430.5L178.8 449.5M280.2 470.5L257.9 456.3M210.3 468.1L225.0 483.7M262.0 451.9L254.4 451.1M259.8 530.9L248.7 525.1M237.5 468.5L229.3 443.2M254.7 461.9L237.9 473.2M190.5 476.0L194.8 470.5M224.0 512.8L210.2 514.7M214.4 428.4L195.8 451.2M219.0 447.9L207.1 472.1M219.0 447.9L195.8 451.2M286.0 467.1L289.0 479.8M225.4 463.5L221.4 459.6M212.6 422.6L225.4 399.0M278.7 483.9L265.0 507.4M185.4 406.3L182.1 431.0M191.2 466.2L208.2 458.9M249.8 477.4L268.0 494.7M247.7 451.2L262.3 466.7M343.0 517.0L334.0 514.0M195.2 440.0L202.9 449.0M192.6 445.6L182.1 431.0M231.3 520.2L237.6 525.1M222.8 417.2L211.1 413.8M283.5 495.9L274.2 478.5M271.0 507.5L252.8 517.2M235.7 454.5L229.3 443.2M209.5 450.8L207.1 472.1M185.7 427.2L187.1 432.7M182.1 431.0L175.4 455.2M225.7 505.8L205.9 499.0M208.2 458.9L221.5 473.5M270.1 456.2L257.9 470.8M215.0 408.6L191.8 426.3M258.3 490.4L281.0 502.8M195.8 451.2L191.8 426.3M220.9 467.9L237.3 478.1M262.1 494.0L246.0 504.7M280.3 512.1L270.1 489.7M249.8 477.4L248.9 464.6M215.0 437.5L220.5 408.7M242.7 461.9L235.4 483.1M242.7 461.9L215.5 472.5M187.2 397.2L197.9 410.9M232.2 471.2L237.9 473.2M209.2 428.1L182.1 431.0M253.7 467.1L250.4 485.5M265.1 501.6L248.7 525.1M218.8 423.3L221.6 442.8M178.0 437.1L178.3 460.8M247.0 481.5L262.3 466.7M190.5 476.0L197.7 465.1M232.2 471.2L210.3 468.1M186.3 419.3L187.1 432.7M311.0 506.9L316.1 514.7M225.7 447.1L248.5 444.1M257.9 470.8L248.5 444.1M206.3 464.5L212.2 489.5M166.0 417.0L193.2 404.3M243.2 513.0L243.4 518.8M256.3 476.1L237.3 478.1M271.2 518.4L295.5 516.1M184.0 470.9L198.0 475.4M227.6 476.5L237.2 459.1M256.1 526.1L263.7 516.9M278.4 523.0L256.1 526.1M265.0 507.4L250.4 485.5M334.0 514.0L337.1 520.0M214.5 443.9L185.9 447.8M210.1 434.7L185.9 447.8M182.1 431.0L193.1 433.3M220.2 478.8L241.3 494.6M208.2 458.9L221.4 459.6M233.8 438.1L248.5 444.1M269.1 470.5L295.4 472.4M216.3 519.5L224.0 512.8M168.8 433.6L172.0 436.8M185.9 447.8L168.8 433.6M178.0 437.1L202.3 421.5M262.8 460.5L250.4 485.5M262.1 494.0L280.3 512.1M278.4 523.0L276.1 508.2M170.2 453.4L168.8 433.6M205.1 482.7L205.6 488.8M248.6 470.0L249.8 477.4M257.9 456.3L237.2 459.1M220.2 478.8L199.0 484.5M259.8 530.9L237.6 525.1M263.4 481.8L262.0 451.9M313.0 497.0L310.9 521.4M203.5 432.8L219.0 447.9M247.0 481.5L256.3 476.1M200.9 469.7L190.5 476.0M230.8 452.6L253.7 467.1M164.6 441.5L180.6 443.4M199.3 458.5L183.5 439.2M230.8 452.6L221.4 459.6M249.8 477.4L268.5 476.8M224.0 512.8L246.0 504.7M174.9 423.6L182.1 431.0M243.4 518.8L245.5 498.0M235.7 454.5L214.1 460.7M207.9 420.6L218.8 423.3M178.0 437.1L200.2 442.9M206.3 464.5L191.2 466.2M200.9 469.7L210.3 468.1M237.5 468.5L263.4 481.8M242.4 469.1L237.9 473.2M320.0 507.5L296.2 503.2M242.4 469.1L242.7 461.9M225.7 505.8L252.8 517.2M202.9 449.0L212.6 422.6M217.8 464.1L208.2 458.9M219.0 488.0L237.9 473.2M171.1 442.8L184.6 464.7M269.1 470.5L283.1 490.2M227.6 476.5L237.3 478.1M182.1 431.0L177.7 413.3M233.8 438.1L232.8 464.3M245.3 456.1L262.8 460.5M199.3 458.5L200.9 469.7M267.9 524.7L276.1 508.2M225.7 422.8L229.2 417.4M197.4 421.5L215.0 408.6M252.4 472.8L250.4 485.5M231.3 520.2L229.8 532.6M273.5 495.1L250.4 485.5M217.8 464.1L198.0 475.4M212.2 489.5L224.0 512.8M179.0 408.1L182.1 431.0M256.3 476.1L245.3 456.1M222.7 453.7L221.4 459.6M258.3 490.4L268.0 494.7M182.1 431.0L172.0 436.8M266.9 465.7L250.4 485.5M278.7 483.9L283.5 495.9M208.2 458.9L189.3 439.0M186.3 419.3L192.6 417.3M195.8 451.2L215.0 437.5M194.8 470.5L170.2 453.4M248.9 464.6L245.3 456.1M195.2 440.0L185.7 427.2M256.3 476.1L247.7 451.2M215.5 505.7L220.0 499.2M311.2 515.6L337.1 520.0M215.0 437.5L228.0 433.0M271.0 507.5L263.4 481.8M197.7 465.1L200.3 436.9M270.1 456.2L247.7 451.2M206.3 464.5L194.3 456.8M257.0 503.2L254.2 532.5M225.7 505.8L199.1 501.8M276.1 508.2L273.5 495.1M202.9 449.0L198.0 475.4M235.4 483.1L237.9 473.2M245.3 456.1L242.3 476.0M316.1 514.7L319.8 496.6M221.4 459.6L248.9 464.6M233.8 438.1L211.8 455.5M252.4 472.8L257.9 470.8M166.0 417.0L177.7 413.3M235.9 445.9L209.5 450.8M278.7 483.9L274.1 469.8M241.4 452.0L221.4 459.6M211.8 455.5L184.6 464.7M278.6 476.6L265.1 501.6M214.1 460.7L194.3 456.8M182.1 431.0L168.8 433.6M209.5 450.8L228.2 438.2M221.4 459.6L215.5 472.5M309.4 501.1L287.5 501.1M225.4 463.5L221.5 473.5M209.2 428.1L202.3 421.5M188.1 454.8L194.3 456.8M331.6 497.8L313.0 497.0M187.2 397.2L202.5 414.5M250.4 485.5L268.0 494.7M221.6 442.8L237.2 459.1M242.6 442.1L216.9 455.2M237.5 468.5L262.0 451.9M271.2 518.4L273.5 495.1M280.3 512.1L259.8 530.9M221.5 473.5L242.7 461.9M225.4 463.5L242.3 476.0M228.0 433.0L217.5 415.0M247.0 481.5L220.2 478.8M206.3 464.5L194.3 456.8M225.7 505.8L210.2 514.7M202.9 449.0L181.7 454.0M175.4 455.2L163.7 428.4M210.2 514.7L205.6 488.8M220.2 478.8L210.3 468.1M245.3 456.1L235.7 454.5M200.3 436.9L203.5 432.8M211.8 455.5L219.9 435.7M229.3 443.2L248.9 464.6M214.4 428.4L207.8 406.9M268.0 494.7L256.3 476.1M209.5 450.8L225.4 463.5M187.9 413.2L174.9 423.6M223.1 429.5L218.8 423.3M230.5 458.8L228.2 438.2M296.2 503.2L287.5 501.1M210.1 434.7L211.8 455.5M215.5 472.5L237.5 468.5M225.0 483.7L230.5 458.8M209.8 503.4L212.2 489.5M211.8 455.5L220.2 478.8M248.7 525.1L236.4 517.6M203.7 455.0L221.5 473.5M200.3 436.9L192.6 445.6M197.7 465.1L199.0 484.5M247.7 451.2L233.8 438.1M207.9 420.6L215.0 437.5M256.3 476.1L270.1 456.2M250.5 457.7L272.8 462.9M278.7 483.9L249.8 477.4M197.3 429.4L197.9 403.0M199.3 458.5L197.3 429.4M212.6 422.6L186.3 419.3M250.4 485.5L252.4 472.8M250.5 457.7L222.7 453.7M185.4 406.3L191.8 426.3M241.4 452.0L242.6 442.1M237.5 468.5L214.1 460.7M228.2 438.2L211.8 455.5M190.5 476.0L212.2 489.5M250.4 485.5L265.1 501.6M220.2 478.8L237.2 459.1M203.7 455.0L207.1 472.1M211.1 413.8L186.3 419.3M208.2 458.9L202.9 449.0M242.3 476.0L230.8 452.6M235.9 445.9L225.7 447.1M248.6 470.0L242.4 469.1M274.1 469.8L280.2 470.5M209.2 428.1L212.6 422.6M197.7 465.1L206.3 464.5M216.9 455.2L220.9 467.9M164.6 441.5L183.5 439.2M235.7 454.5L237.2 459.1M225.8 470.3L216.9 455.2M262.8 460.5L268.5 476.8M204.2 428.0L178.0 437.1M200.3 436.9L204.2 428.0M195.8 451.2L211.8 455.5M237.2 459.1L219.0 447.9M224.0 512.8L236.4 517.6M189.3 439.0L172.0 436.8M262.3 466.7L269.1 470.5M184.0 470.9L197.7 465.1M220.9 467.9L247.0 481.5M271.0 507.5L271.2 518.4M337.1 520.0L311.2 515.6M171.1 442.8L182.1 431.0M202.3 421.5L187.1 432.7M214.1 460.7L206.3 464.5M285.3 474.4L270.1 489.7M209.5 450.8L192.6 445.6M262.8 460.5L254.7 461.9M187.9 413.2L197.9 403.0M262.3 466.7L285.3 474.4M311.0 506.9L336.1 508.4M334.0 514.0L311.2 515.6M214.4 428.4L197.3 429.4M289.0 491.2L278.7 483.9M202.9 449.0L182.1 431.0M250.5 457.7L270.1 456.2M203.5 432.8L182.1 431.0M278.7 483.9L268.3 511.9M215.0 437.5L200.2 442.9M203.5 432.8L191.8 426.3M229.2 417.4L228.0 433.0M210.3 468.1L202.9 449.0M237.3 478.1L225.0 483.7M222.8 417.2L214.4 428.4M254.2 532.5L267.9 524.7M216.9 455.2L215.0 437.5M174.9 423.6L177.7 413.3M197.9 403.0L185.7 427.2M203.7 455.0L184.6 464.7M258.3 490.4L252.8 517.2M197.3 429.4L172.0 436.8M210.3 468.1L197.7 465.1M222.8 417.2L203.5 432.8M348.7 514.1L320.0 507.5M217.8 464.1L237.5 468.5M278.4 523.0L255.6 510.7M211.8 455.5L217.8 464.1M268.3 511.9L287.5 501.1M286.0 467.1L289.0 491.2M253.7 467.1L262.8 460.5M229.2 417.4L233.8 438.1M268.5 476.8L270.1 456.2M237.2 459.1L229.3 443.2M174.1 430.5L189.3 439.0M262.0 451.9L248.5 444.1M334.0 514.0L330.0 523.0M237.6 525.1L259.8 530.9M224.0 512.8L252.8 517.2M225.7 447.1L200.2 442.9M262.3 466.7L245.3 456.1M261.1 474.0L268.5 476.8M185.4 406.3L193.2 404.3M285.3 474.4L278.7 483.9M199.3 458.5L190.1 460.9M193.2 404.3L209.2 428.1M173.4 410.0L179.0 408.1M207.5 442.4L214.1 460.7M262.3 466.7L247.0 481.5M207.8 406.9L222.8 417.2M274.2 478.5L283.5 495.9M184.1 458.7L190.1 460.9M273.5 495.1L283.5 495.9M187.2 397.2L166.0 417.0M309.4 501.1L295.5 516.1M221.4 459.6L211.8 455.5M242.6 531.6L243.4 518.8M194.8 470.5L178.8 449.5M242.3 476.0L252.4 472.8M211.1 413.8L223.1 429.5M211.8 455.5L209.5 450.8M168.8 433.6L178.0 437.1M205.9 499.0L205.6 488.8M245.3 456.1L220.9 467.9M248.6 470.0L262.3 466.7M241.4 452.0L242.4 469.1M195.2 440.0L214.5 443.9M223.7 523.0L220.0 499.2M268.3 511.9L258.3 490.4M195.2 440.0L197.9 410.9M203.7 455.0L207.5 442.4M178.0 437.1L175.4 455.2M324.0 500.8L337.1 520.0M207.9 420.6L215.0 408.6M194.3 456.8L211.8 455.5M195.8 451.2L197.3 429.4M237.3 478.1L257.0 495.7M250.4 485.5L245.5 498.0M221.4 459.6L211.8 455.5M231.3 520.2L220.0 499.2M219.9 435.7L193.1 433.3M235.4 483.1L210.3 468.1M202.5 414.5L209.2 428.1M194.3 456.8L174.2 448.3M209.2 428.1L233.8 438.1M232.8 464.3L225.0 483.7M242.6 531.6L223.7 523.0M225.4 463.5L205.1 482.7M250.5 457.7L274.1 469.8M221.4 459.6L205.1 482.7M210.3 468.1L217.8 464.1M187.1 432.7L209.5 450.8M234.8 504.7L245.5 498.0M172.0 436.8L166.0 417.0M225.0 483.7L225.7 505.8M178.8 449.5L184.1 458.7M187.9 413.2L185.7 427.2M181.7 454.0L164.6 441.5M242.7 461.9L235.7 454.5M193.2 404.3L197.3 429.4M186.3 419.3L195.2 440.0M217.5 415.0L229.2 417.4M210.1 434.7L223.1 429.5M216.9 455.2L229.3 443.2M270.1 489.7L245.5 498.0M182.1 431.0L203.5 432.8M222.8 417.2L207.8 406.9M289.0 479.8L296.2 503.2M197.4 421.5L174.1 430.5M200.3 436.9L190.1 460.9M190.5 476.0L181.7 454.0M262.3 466.7L250.4 485.5M208.3 477.3L190.5 476.0M270.1 489.7L268.5 476.8M301.9 505.0L310.9 521.4M199.3 458.5L211.8 455.5M273.5 495.1L257.0 495.7M265.0 507.4L287.0 520.5M278.4 523.0L265.0 507.4M241.3 494.6L268.0 494.7M209.2 428.1L207.5 442.4M172.0 436.8L166.0 417.0M329.4 505.0L355.2 508.3M254.4 451.1L254.7 461.9M204.2 428.0L225.7 422.8M263.4 481.8L252.4 472.8M309.4 501.1L287.0 520.5M180.6 443.4L163.7 428.4M203.5 432.8L214.5 443.9M271.2 518.4L267.9 524.7M243.4 518.8L243.2 513.0M245.3 456.1L270.1 456.2M237.5 468.5L225.8 470.3M214.4 428.4L222.8 417.2M324.0 500.8L316.1 514.7M271.0 507.5L278.1 529.7M200.9 469.7L194.8 470.5M229.4 526.7L243.4 518.8M241.4 452.0L219.0 447.9M295.4 472.4L278.7 483.9M242.6 531.6L237.6 525.1M250.4 485.5L269.1 470.5M248.6 470.0L262.0 451.9M331.6 497.8L311.2 515.6M268.0 494.7L269.1 470.5M225.4 463.5L202.9 449.0M219.9 435.7L210.1 434.7M174.9 423.6L187.1 432.7M200.2 442.9L191.2 466.2M216.9 455.2L225.4 463.5M225.7 447.1L210.3 468.1M236.4 517.6L215.5 505.7M242.6 442.1L228.2 438.2M247.0 481.5L242.3 476.0M204.2 428.0L228.0 433.0M190.6 408.4L211.1 413.8M179.3 426.3L168.8 433.6M202.5 414.5L211.1 413.8M166.0 417.0L164.6 441.5M246.0 504.7L223.7 523.0M214.1 460.7L206.3 464.5M186.3 419.3L168.8 433.6M237.2 459.1L262.0 451.9M258.3 490.4L271.0 507.5M219.9 435.7L207.9 420.6M262.0 451.9L256.3 476.1M296.1 528.5L280.3 512.1M267.9 524.7L248.7 525.1M228.0 433.0L219.0 447.9M184.1 458.7L194.3 456.8M267.9 524.7L256.1 526.1M195.2 440.0L202.3 421.5M197.4 421.5L180.6 443.4M283.5 495.9L289.8 513.9M208.3 477.3L214.1 460.7M242.4 469.1L252.4 472.8M185.4 406.3L187.1 432.7M232.8 464.3L230.8 452.6M214.5 443.9L215.0 437.5M249.8 477.4L270.1 456.2M343.0 517.0L320.0 507.5M355.2 508.3L329.4 505.0M221.4 459.6L225.0 483.7M202.9 449.0L178.3 460.8M221.4 459.6L225.8 470.3M243.2 513.0L220.0 499.2M191.8 426.3L171.1 442.8M280.3 512.1L255.6 510.7M207.8 406.9L212.6 422.6M185.9 447.8L199.3 458.5M207.5 442.4L223.1 429.5M174.2 448.3L171.1 442.8M214.4 428.4L207.8 406.9M168.8 433.6L189.3 439.0M221.6 442.8L228.0 433.0M248.9 464.6L270.1 456.2M182.1 431.0L187.1 432.7M283.5 495.9L257.0 495.7M227.6 476.5L215.5 472.5M255.6 510.7L268.0 494.7M215.0 437.5L207.9 420.6M217.8 464.1L208.3 477.3M229.2 417.4L233.8 438.1M242.3 476.0L225.8 470.3M221.5 473.5L208.2 458.9M199.3 458.5L194.3 456.8M271.2 518.4L256.7 520.5M225.7 447.1L219.9 435.7M184.6 464.7L178.0 437.1M232.8 464.3L242.7 461.9M207.8 406.9L203.5 432.8M257.9 456.3L235.9 445.9M320.0 507.5L311.0 506.9M295.5 516.1L268.3 511.9M250.5 457.7L256.3 476.1M215.0 408.6L209.2 428.1M266.9 465.7L241.4 452.0M174.2 448.3L184.0 470.9M186.3 419.3L207.9 420.6M280.2 470.5L257.9 470.8M286.0 467.1L285.3 474.4M232.2 471.2L235.9 445.9M242.7 461.9L228.2 438.2M203.7 455.0L192.6 445.6M198.0 475.4L205.1 482.7M173.4 410.0L185.7 427.2M197.7 465.1L209.5 450.8M274.2 478.5L298.0 495.5M274.2 478.5L256.3 476.1M224.0 512.8L243.4 518.8M195.2 440.0L215.0 437.5M237.5 468.5L232.2 471.2M263.4 481.8L248.6 470.0M313.0 497.0L302.9 524.3M256.3 476.1L270.1 489.7M204.2 428.0L200.3 436.9M255.6 510.7L259.8 530.9M207.5 442.4L185.7 427.2M237.5 468.5L230.8 452.6M217.8 464.1L219.0 447.9M225.7 447.1L203.7 455.0M336.1 508.4L347.0 507.8M200.3 436.9L214.4 428.4M262.3 466.7L232.8 464.3M241.4 452.0L216.9 455.2M225.7 447.1L214.5 443.9M187.2 397.2L203.4 410.0M187.2 397.2L174.9 423.6M171.1 442.8L183.5 439.2M215.0 437.5L202.3 421.5M276.1 508.2L265.1 501.6M257.9 456.3L248.9 464.6M207.1 472.1L221.5 473.5M242.7 461.9L269.1 470.5M185.7 427.2L207.5 442.4M209.2 428.1L191.8 426.3M209.2 428.1L223.1 429.5M269.1 470.5L247.7 451.2M261.1 474.0L270.1 456.2M220.2 478.8L215.5 472.5M256.3 476.1L232.2 471.2M193.1 433.3L218.8 423.3M242.3 476.0L253.7 467.1M199.3 458.5L199.0 484.5M237.2 459.1L249.8 477.4M214.1 460.7L210.3 468.1M230.5 458.8L235.9 445.9M182.1 431.0L184.1 458.7M237.9 473.2L230.8 452.6M179.3 426.3L174.9 423.6M253.7 467.1L237.3 478.1M208.2 458.9L202.9 449.0M200.9 469.7L207.5 442.4M236.4 517.6L220.0 499.2M245.5 498.0L246.0 504.7M197.3 429.4L194.3 456.8M229.2 417.4L215.0 437.5M210.1 434.7L209.5 450.8M221.6 442.8L222.8 417.2M174.1 430.5L171.1 442.8M203.7 455.0L214.5 443.9M187.2 397.2L207.8 406.9M191.8 426.3L189.3 439.0M190.1 460.9L208.2 458.9M200.3 436.9L195.2 440.0M298.0 495.5L271.0 507.5M204.2 428.0L207.5 442.4M234.8 504.7L243.4 518.8M179.3 426.3L181.7 454.0M219.9 435.7L225.4 463.5M225.7 447.1L203.7 455.0M254.4 451.1L249.8 477.4M205.6 488.8L219.0 488.0M207.9 420.6L197.9 403.0M303.5 492.1L320.0 507.5M230.5 458.8L207.5 442.4M174.2 448.3L184.0 470.9M171.1 442.8L178.8 449.5M266.9 465.7L248.5 444.1M254.7 461.9L262.8 460.5M202.3 421.5L225.7 422.8M190.6 408.4L185.4 406.3M221.5 473.5L194.8 470.5M194.8 470.5L190.5 476.0M203.7 455.0L209.2 428.1M242.6 442.1L223.1 429.5M262.3 466.7L285.3 474.4M200.2 442.9L208.2 458.9M218.8 423.3L202.3 421.5M252.4 472.8L237.2 459.1M273.5 495.1L246.0 504.7M248.6 470.0L221.4 459.6M278.4 523.0L287.5 501.1M242.7 461.9L268.5 476.8M278.7 483.9L265.1 501.6M219.0 447.9L206.3 464.5M278.7 483.9L289.0 479.8M262.8 460.5L242.7 461.9M241.4 452.0L225.7 447.1M242.3 476.0L250.4 485.5M285.3 474.4L283.5 495.9M179.0 408.1L187.1 432.7M265.1 501.6L268.5 476.8M242.4 469.1L242.6 442.1M235.4 483.1L208.3 477.3M253.7 467.1L257.0 495.7M266.9 465.7L248.5 444.1M252.4 472.8L225.8 470.3M202.3 421.5L210.1 434.7M268.5 476.8L256.3 476.1M194.3 456.8L198.0 475.4M298.0 495.5L285.3 474.4M237.6 525.1L229.8 532.6M180.6 443.4L185.7 427.2M170.2 453.4L164.6 441.5M211.8 455.5L194.8 470.5M242.3 476.0L225.0 483.7M241.3 494.6L257.0 503.2M185.7 427.2L210.1 434.7M220.2 478.8L197.7 465.1M262.1 494.0L248.6 470.0M212.2 489.5L205.1 482.7M200.2 442.9L209.5 450.8M248.7 525.1L278.4 523.0M193.2 404.3L207.9 420.6M197.9 410.9L218.8 423.3M283.1 490.2L280.3 512.1M202.3 421.5L174.1 430.5M208.3 477.3L225.4 463.5M202.9 449.0L190.1 460.9M276.1 508.2L301.9 505.0M256.7 520.5L252.8 517.2M254.7 461.9L274.1 469.8M242.7 461.9L235.7 454.5M182.1 431.0L187.1 432.7M195.2 440.0L192.6 417.3M274.2 478.5L257.9 456.3M168.8 433.6L179.0 408.1M283.1 490.2L269.1 470.5M241.4 452.0L248.6 470.0M278.8 461.1L283.1 490.2M205.9 499.0L208.3 477.3M208.2 458.9L215.5 472.5M194.8 470.5L192.6 445.6M194.3 456.8L190.5 476.0M295.5 516.1L322.0 519.0M203.5 432.8L215.0 408.6M206.3 464.5L208.3 477.3M256.1 526.1L278.4 523.0M200.2 442.9L185.7 427.2M295.5 516.1L301.9 505.0M208.3 477.3L184.0 470.9M193.1 433.3L174.1 430.5M215.0 437.5L211.8 455.5M220.5 408.7L197.4 421.5M270.1 489.7L263.4 481.8M289.0 491.2L274.1 469.8M193.1 433.3L174.1 430.5M205.1 482.7L225.0 483.7M197.4 421.5L210.1 434.7M225.7 422.8L222.8 417.2M245.5 498.0L249.8 477.4M254.7 461.9L237.3 478.1M283.5 495.9L283.1 490.2M263.4 481.8L280.2 470.5M207.5 442.4L185.7 427.2M258.3 490.4L242.4 469.1M283.5 495.9L274.1 469.8M230.5 458.8L222.7 453.7M225.4 399.0L211.1 413.8M298.0 495.5L289.0 491.2M220.0 499.2L220.2 478.8M298.0 495.5L276.1 508.2M265.0 507.4L255.6 510.7M203.7 455.0L225.4 463.5M168.8 433.6L174.2 448.3M168.8 433.6L191.8 426.3M185.4 406.3L190.6 408.4M206.3 464.5L227.6 476.5M301.9 505.0L302.9 524.3M216.9 455.2L203.5 432.8M334.0 514.0L319.8 496.6M193.1 433.3L186.3 419.3M214.5 443.9L230.5 458.8M309.4 501.1L313.0 497.0M246.0 504.7L271.0 507.5M220.5 408.7L222.8 417.2M193.1 433.3L172.0 436.8M242.7 461.9L233.8 438.1M262.3 466.7L289.0 479.8M220.0 499.2L220.2 478.8M225.4 463.5L208.2 458.9M249.8 477.4L241.4 452.0M289.0 491.2L289.8 513.9M223.1 429.5L214.4 428.4M216.9 455.2L209.5 450.8M185.7 427.2L179.0 408.1M189.3 439.0L203.7 455.0M242.6 531.6L231.3 520.2M221.5 473.5L217.8 464.1M221.5 473.5L206.3 464.5M220.0 499.2L246.0 504.7M219.9 435.7L195.8 451.2M231.3 520.2L229.4 526.7M237.5 468.5L253.7 467.1M254.7 461.9L247.7 451.2M199.3 458.5L220.2 478.8M235.9 445.9L230.8 452.6M174.1 430.5L203.5 432.8M269.1 470.5L280.2 470.5M212.2 489.5L205.1 482.7M355.2 508.3L336.1 508.4M223.1 429.5L203.5 432.8M246.0 504.7L241.3 494.6M193.1 433.3L186.3 419.3M187.9 413.2L174.1 430.5M242.3 476.0L222.7 453.7M268.3 511.9L243.4 518.8M214.5 443.9L225.8 470.3M296.2 503.2L289.8 513.9M179.0 408.1L182.1 431.0M258.3 490.4L249.8 477.4M257.0 503.2L257.0 495.7M246.0 504.7L270.1 489.7M237.2 459.1L230.8 452.6M204.2 428.0L182.1 431.0M221.4 459.6L208.3 477.3M280.2 470.5L257.9 470.8M221.6 442.8L221.4 459.6M205.1 482.7L207.1 472.1M242.3 476.0L220.2 478.8M221.5 473.5L232.8 464.3M289.8 513.9L278.4 523.0M175.4 455.2L163.7 428.4M208.2 458.9L222.7 453.7M203.5 432.8L225.7 422.8M200.3 436.9L204.2 428.0M278.8 461.1L280.2 470.5M220.9 467.9L237.2 459.1M225.0 483.7L221.4 459.6M241.3 494.6L257.0 495.7M192.6 417.3L179.0 408.1M286.0 467.1L285.3 474.4M253.7 467.1L262.1 494.0M242.4 469.1L215.5 472.5M289.8 513.9L302.9 524.3M334.0 514.0L348.7 514.1M223.1 429.5L215.0 437.5M257.0 495.7L257.0 503.2M285.0 528.9L259.8 530.9M164.6 441.5L188.1 454.8M234.8 504.7L245.5 498.0M237.2 459.1L235.9 445.9M230.5 458.8L217.8 464.1M295.4 472.4L278.7 483.9M250.4 485.5L232.2 471.2M205.6 488.8L220.2 478.8M269.1 470.5L268.0 494.7M261.1 474.0L286.0 467.1M174.2 448.3L188.1 454.8M202.3 421.5L229.2 417.4M220.5 408.7L197.4 421.5M207.9 420.6L225.7 422.8M202.3 421.5L218.8 423.3M237.9 473.2L225.8 470.3M285.0 528.9L302.9 524.3M215.5 472.5L225.4 463.5M295.5 516.1L298.0 495.5M273.5 495.1L246.0 504.7M194.8 470.5L214.1 460.7M310.9 521.4L313.0 497.0M286.0 467.1L268.5 476.8M248.9 464.6L247.0 481.5M270.1 456.2L249.8 477.4M265.1 501.6L278.4 523.0M310.9 521.4L311.2 515.6M222.8 417.2L197.4 421.5M278.4 523.0L252.8 517.2M209.5 450.8L187.1 432.7M278.6 476.6L252.4 472.8M242.3 476.0L221.4 459.6M211.8 455.5L221.4 459.6M183.5 439.2L174.9 423.6M237.2 459.1L225.7 447.1M214.5 443.9L217.5 415.0M250.5 457.7L253.7 467.1M200.3 436.9L171.1 442.8M263.4 481.8L272.8 462.9M262.8 460.5L278.6 476.6M220.5 408.7L207.9 420.6M256.1 526.1L257.0 503.2M310.9 521.4L334.0 514.0M228.2 438.2L209.5 450.8M217.5 415.0L223.1 429.5M225.7 422.8L214.5 443.9M225.4 463.5L207.1 472.1M237.5 468.5L225.7 447.1M194.3 456.8L215.0 437.5M221.6 442.8L228.0 433.0M280.2 470.5L289.0 479.8M179.0 408.1L187.1 432.7M248.5 444.1L228.2 438.2M188.1 454.8L174.1 430.5M309.4 501.1L328.0 512.5M197.4 421.5L211.1 413.8M231.3 520.2L246.0 504.7M268.3 511.9L257.0 495.7M191.2 466.2L220.9 467.9M189.3 439.0L171.1 442.8M262.3 466.7L274.2 478.5M229.4 526.7L237.6 525.1M179.3 426.3L207.9 420.6M257.0 495.7L245.5 498.0M248.6 470.0L257.9 456.3M212.2 489.5L234.8 504.7M229.3 443.2L228.2 438.2M200.9 469.7L205.6 488.8M211.8 455.5L190.1 460.9M311.2 515.6L296.1 528.5M180.6 443.4L178.3 460.8M177.7 413.3L197.9 410.9M220.9 467.9L198.0 475.4M197.3 429.4L218.8 423.3M180.6 443.4L191.8 426.3M194.3 456.8L184.6 464.7M208.3 477.3L232.2 471.2M219.9 435.7L228.0 433.0M268.0 494.7L270.1 489.7M295.4 472.4L286.0 467.1M214.5 443.9L215.0 437.5M229.4 526.7L234.8 504.7M237.9 473.2L225.8 470.3M262.0 451.9L248.9 464.6M199.3 458.5L206.3 464.5M296.2 503.2L302.9 524.3M269.1 470.5L274.2 478.5M337.1 520.0L331.6 497.8M195.8 451.2L207.1 472.1M324.0 500.8L310.9 521.4M337.1 520.0L355.2 508.3M211.8 455.5L237.2 459.1M199.3 458.5L205.1 482.7M203.7 455.0L184.0 470.9M192.6 417.3L182.1 431.0M276.1 508.2L287.5 501.1M248.6 470.0L242.3 476.0M254.4 451.1L230.5 458.8M164.6 441.5L172.9 418.3M272.8 462.9L289.0 479.8M172.0 436.8L195.2 440.0M270.1 456.2L257.9 470.8M271.2 518.4L285.0 528.9M223.7 523.0L229.8 532.6M268.0 494.7L262.3 466.7M215.0 408.6L225.7 422.8M191.2 466.2L207.5 442.4M192.6 445.6L197.7 465.1M209.5 450.8L200.2 442.9M208.3 477.3L199.3 458.5M328.0 512.5L301.9 505.0M198.0 475.4L205.6 488.8M179.3 426.3L163.7 428.4M237.2 459.1L232.8 464.3M242.4 469.1L262.3 466.7M190.5 476.0L205.1 482.7M177.7 413.3L174.1 430.5M181.7 454.0L184.6 464.7M289.8 513.9L281.0 502.8M278.7 483.9L278.6 476.6M221.4 459.6L210.3 468.1M220.0 499.2L246.0 504.7M170.2 453.4L174.1 430.5M253.7 467.1L232.8 464.3M336.1 508.4L322.0 519.0M220.9 467.9L208.3 477.3M220.2 478.8L219.0 488.0M262.8 460.5L257.9 456.3M287.5 501.1L285.3 474.4M191.2 466.2L189.3 439.0M197.3 429.4L203.7 455.0M281.0 502.8L287.0 520.5M295.4 472.4L289.0 479.8M197.3 429.4L168.8 433.6M195.2 440.0L194.3 456.8M233.8 438.1L228.0 433.0M198.0 475.4L220.2 478.8M256.1 526.1L255.6 510.7M254.7 461.9L242.7 461.9M225.4 463.5L253.7 467.1M334.0 514.0L348.7 514.1M235.9 445.9L223.1 429.5M225.7 505.8L199.1 501.8M248.7 525.1L254.2 532.5M212.2 489.5L199.0 484.5M296.2 503.2L298.0 495.5M237.2 459.1L256.3 476.1M285.0 528.9L280.3 512.1M187.1 432.7L197.9 410.9M248.7 525.1L234.8 504.7M210.1 434.7L219.0 447.9M190.5 476.0L220.2 478.8M179.0 408.1L191.8 426.3M235.9 445.9L209.5 450.8M242.7 461.9L225.7 447.1M289.0 491.2L268.5 476.8M203.5 432.8L187.1 432.7M232.8 464.3L242.6 442.1M181.7 454.0L195.8 451.2M212.6 422.6L189.3 439.0M200.3 436.9L218.8 423.3M237.2 459.1L250.4 485.5M214.5 443.9L207.5 442.4M271.0 507.5L274.2 478.5M276.1 508.2L278.7 483.9M200.3 436.9L202.3 421.5M263.4 481.8L273.5 495.1M211.1 413.8L197.9 410.9M222.7 453.7L208.2 458.9M254.7 461.9L235.9 445.9M203.7 455.0L207.5 442.4M280.2 470.5L274.2 478.5M274.2 478.5L286.0 467.1M255.6 510.7L237.6 525.1M204.2 428.0L197.4 421.5M215.0 437.5L235.7 454.5M217.8 464.1L219.9 435.7M217.5 415.0L228.0 433.0M268.3 511.9L243.4 518.8M215.0 437.5L225.7 422.8M249.8 477.4L266.9 465.7M262.0 451.9L272.8 462.9M256.3 476.1L257.0 503.2M207.5 442.4L187.1 432.7M229.4 526.7L256.1 526.1M203.7 455.0L197.3 429.4M232.8 464.3L227.6 476.5M246.0 504.7L224.0 512.8M280.2 470.5L278.8 461.1M296.1 528.5L311.0 506.9M210.1 434.7L192.6 445.6M203.5 432.8L207.8 406.9M225.7 422.8L214.5 443.9M272.8 462.9L270.1 489.7M215.5 472.5L217.8 464.1M263.4 481.8L265.1 501.6M221.5 473.5L198.0 475.4M194.8 470.5L178.8 449.5M204.2 428.0L179.3 426.3M296.2 503.2L289.0 491.2M262.3 466.7L257.9 470.8M207.5 442.4L191.2 466.2M278.8 461.1L262.3 466.7M222.8 417.2L229.3 443.2M278.4 523.0L296.2 503.2M216.9 455.2L219.0 447.9M257.9 456.3L261.1 474.0M214.4 428.4L191.8 426.3M278.7 483.9L296.2 503.2M204.2 428.0L192.6 417.3M283.1 490.2L261.1 474.0M195.2 440.0L174.2 448.3M232.2 471.2L208.3 477.3M202.3 421.5L200.3 436.9M295.5 516.1L281.0 502.8M214.5 443.9L218.8 423.3M200.2 442.9L214.1 460.7M257.0 495.7L278.7 483.9M257.0 503.2L265.0 507.4M184.6 464.7L207.1 472.1M217.8 464.1L237.3 478.1M229.3 443.2L200.3 436.9M202.9 449.0L184.6 464.7M174.1 430.5L166.0 417.0M237.2 459.1L222.7 453.7M229.2 417.4L228.2 438.2M194.8 470.5L184.1 458.7M184.6 464.7L170.2 453.4M311.2 515.6L285.0 528.9M295.5 516.1L309.4 501.1M237.5 468.5L248.6 470.0M174.1 430.5L187.1 432.7M191.2 466.2L185.9 447.8M181.7 454.0L197.7 465.1M234.8 504.7L242.6 531.6M243.2 513.0L224.0 512.8M209.8 503.4L205.1 482.7M212.6 422.6L197.9 403.0M257.9 456.3L274.2 478.5M204.2 428.0L211.8 455.5M203.4 410.0L192.6 417.3M190.5 476.0L210.3 468.1M200.9 469.7L194.3 456.8M186.3 419.3L179.3 426.3M209.8 503.4L203.8 509.4M174.9 423.6L168.8 433.6M225.7 505.8L219.0 488.0M241.3 494.6L221.5 473.5M263.7 516.9L265.1 501.6M183.5 439.2L168.8 433.6M253.7 467.1L257.9 470.8M230.5 458.8L233.8 438.1M225.4 463.5L247.0 481.5M237.6 525.1L229.4 526.7M175.4 455.2L188.1 454.8M217.8 464.1L206.3 464.5M289.0 479.8L268.0 494.7M324.0 500.8L301.9 505.0M190.6 408.4L193.1 433.3M228.2 438.2L217.8 464.1M230.8 452.6L225.7 447.1M207.1 472.1L221.5 473.5M241.3 494.6L243.4 518.8M287.5 501.1L302.9 524.3M163.7 428.4L193.1 433.3M228.0 433.0L237.2 459.1M184.0 470.9L205.6 488.8M262.1 494.0L245.5 498.0M179.0 408.1L187.1 432.7M254.2 532.5L256.1 526.1M232.8 464.3L254.4 451.1M225.7 505.8L252.8 517.2M207.5 442.4L193.1 433.3M283.5 495.9L278.4 523.0M195.2 440.0L209.2 428.1M230.8 452.6L202.9 449.0M203.7 455.0L194.3 456.8M237.5 468.5L225.0 483.7M216.9 455.2L237.2 459.1M174.9 423.6L185.9 447.8M256.1 526.1L243.4 518.8M198.0 475.4L212.2 489.5M189.3 439.0L202.9 449.0M227.6 476.5L235.4 483.1M194.3 456.8L195.8 451.2M205.9 499.0L221.5 473.5M243.4 518.8L259.8 530.9M205.1 482.7L214.1 460.7M178.3 460.8L195.2 440.0M178.0 437.1L183.5 439.2M247.0 481.5L256.3 476.1M205.9 499.0L210.2 514.7M257.9 470.8L278.7 483.9M227.6 476.5L198.0 475.4M184.6 464.7L188.1 454.8M259.8 530.9L237.6 525.1M190.6 408.4L174.1 430.5M219.9 435.7L216.9 455.2M212.6 422.6L202.3 421.5M270.1 489.7L274.1 469.8M254.2 532.5L252.8 517.2M289.8 513.9L268.0 494.7M221.6 442.8L207.9 420.6M225.7 422.8L229.2 417.4M348.7 514.1L328.0 512.5M233.8 438.1L230.8 452.6M231.3 520.2L256.7 520.5M253.7 467.1L250.4 485.5M209.2 428.1L192.6 445.6M216.9 455.2L221.5 473.5M203.7 455.0L200.9 469.7M242.4 469.1L220.9 467.9M232.2 471.2L205.1 482.7M228.0 433.0L229.2 417.4M214.5 443.9L208.2 458.9M191.8 426.3L207.5 442.4M210.3 468.1L207.5 442.4M194.3 456.8L217.8 464.1M229.2 417.4L225.7 447.1M215.0 437.5L233.8 438.1M228.0 433.0L217.5 415.0M203.5 432.8L203.4 410.0M200.9 469.7L175.4 455.2M214.4 428.4L185.7 427.2M209.2 428.1L197.9 410.9M185.9 447.8L195.8 451.2M255.6 510.7L256.7 520.5M207.5 442.4L202.9 449.0M262.8 460.5L269.1 470.5M222.7 453.7L247.7 451.2M190.6 408.4L207.8 406.9M194.3 456.8L191.2 466.2M258.3 490.4L269.1 470.5M278.1 529.7L287.0 520.5M252.4 472.8L232.2 471.2M195.8 451.2L178.8 449.5M246.3 535.3L248.7 525.1M215.0 437.5L229.2 417.4M274.2 478.5L262.8 460.5M208.2 458.9L200.2 442.9M174.9 423.6L192.6 445.6M197.4 421.5L192.6 417.3M168.8 433.6L172.9 418.3M187.9 413.2L207.8 406.9M193.1 433.3L187.9 413.2M250.5 457.7L252.4 472.8M330.0 523.0L337.1 520.0M222.7 453.7L219.9 435.7M355.2 508.3L364.7 484.6M355.2 508.3L343.0 517.0M168.8 433.6L180.6 443.4M208.3 477.3L190.1 460.9M205.1 482.7L221.5 473.5M256.7 520.5L248.7 525.1M324.0 500.8L330.0 523.0M272.8 462.9L289.0 479.8M257.0 503.2L256.1 526.1M249.8 477.4L263.4 481.8M262.0 451.9L270.1 456.2M225.4 463.5L242.7 461.9M190.5 476.0L200.9 469.7M190.1 460.9L206.3 464.5M191.2 466.2L216.9 455.2M202.5 414.5L210.1 434.7M200.9 469.7L214.5 443.9M207.5 442.4L195.8 451.2M221.6 442.8L218.8 423.3M235.9 445.9L248.9 464.6M190.6 408.4L207.8 406.9M202.3 421.5L174.1 430.5M190.1 460.9L185.9 447.8M175.4 455.2L182.1 431.0M255.6 510.7L246.3 535.3M218.8 423.3L225.4 399.0M219.9 435.7L200.3 436.9M261.1 474.0L235.4 483.1M197.9 410.9L192.6 417.3M209.2 428.1L209.5 450.8M210.1 434.7L202.5 414.5M220.2 478.8L237.5 468.5M197.7 465.1L195.2 440.0M225.7 505.8L234.8 504.7M250.4 485.5L273.5 495.1M270.1 456.2L248.5 444.1M220.5 408.7L207.8 406.9M190.5 476.0L210.3 468.1M194.3 456.8L209.5 450.8M247.0 481.5L219.0 488.0M261.1 474.0L237.5 468.5M258.3 490.4L270.1 489.7M205.1 482.7L203.8 509.4M212.2 489.5L217.8 464.1M225.7 505.8L225.0 483.7M191.2 466.2L199.3 458.5M330.0 523.0L347.0 507.8M218.8 423.3L220.5 408.7M197.4 421.5L185.9 447.8M227.6 476.5L248.6 470.0M256.7 520.5L280.3 512.1M285.0 528.9L287.0 520.5M199.3 458.5L215.0 437.5M217.5 415.0L229.2 417.4M262.8 460.5L286.0 467.1M182.1 431.0L179.0 408.1M215.5 472.5L225.8 470.3M245.5 498.0L237.3 478.1M193.1 433.3L203.7 455.0M235.9 445.9L210.1 434.7M215.5 505.7L199.1 501.8M185.9 447.8L178.3 460.8M195.8 451.2L202.9 449.0M180.6 443.4L192.6 417.3M199.1 501.8L205.9 499.0M203.5 432.8L190.6 408.4M222.8 417.2L197.4 421.5M257.9 456.3L248.5 444.1M192.6 417.3L207.5 442.4M237.3 478.1L258.3 490.4M245.5 498.0L237.6 525.1M285.3 474.4L278.6 476.6M186.3 419.3L177.7 413.3M283.5 495.9L274.1 469.8M253.7 467.1L237.9 473.2M256.3 476.1L237.9 473.2M225.8 470.3L219.0 488.0M252.8 517.2L234.8 504.7M197.9 410.9L186.3 419.3M215.5 472.5L242.3 476.0M237.3 478.1L249.8 477.4M187.2 397.2L187.9 413.2M200.9 469.7L190.5 476.0M202.9 449.0L217.8 464.1M209.2 428.1L203.7 455.0M324.0 500.8L309.4 501.1M227.6 476.5L208.3 477.3M250.5 457.7L232.2 471.2M197.3 429.4L186.3 419.3M187.1 432.7L163.7 428.4M235.9 445.9L210.1 434.7M219.0 488.0L207.1 472.1M220.5 408.7L203.4 410.0M208.2 458.9L210.3 468.1M257.0 503.2L234.8 504.7M285.0 528.9L256.1 526.1M230.8 452.6L220.2 478.8M295.4 472.4L278.7 483.9M208.3 477.3L195.8 451.2M193.2 404.3L217.5 415.0M253.7 467.1L250.4 485.5M283.1 490.2L283.5 495.9M235.4 483.1L253.7 467.1M203.7 455.0L190.5 476.0M252.4 472.8L248.5 444.1M241.4 452.0L233.8 438.1M247.0 481.5L234.8 504.7M209.2 428.1L228.2 438.2M217.8 464.1L228.2 438.2M261.1 474.0L266.9 465.7M215.0 437.5L230.5 458.8M207.9 420.6L215.0 408.6M171.1 442.8L166.0 417.0M194.3 456.8L200.2 442.9M207.5 442.4L225.7 422.8M210.3 468.1L211.8 455.5M190.1 460.9L211.8 455.5M207.1 472.1L225.4 463.5M185.7 427.2L197.9 403.0M192.6 417.3L168.8 433.6M214.4 428.4L203.7 455.0M248.7 525.1L243.2 513.0M211.8 455.5L225.8 470.3M242.7 461.9L237.5 468.5M187.9 413.2L172.0 436.8M212.2 489.5L232.2 471.2M181.7 454.0L171.1 442.8M225.8 470.3L203.7 455.0M217.5 415.0L229.2 417.4M192.6 445.6L214.4 428.4M309.4 501.1L281.0 502.8M237.3 478.1L263.4 481.8M195.8 451.2L210.1 434.7M168.8 433.6L186.3 419.3M329.4 505.0L311.2 515.6M269.1 470.5L278.7 483.9M278.4 523.0L287.5 501.1M192.6 445.6L210.1 434.7M263.4 481.8L289.0 491.2M311.0 506.9L328.0 512.5M216.9 455.2L242.6 442.1M209.5 450.8L183.5 439.2M334.0 514.0L341.3 504.8M186.3 419.3L203.4 410.0M202.9 449.0L185.7 427.2M209.2 428.1L187.9 413.2M192.6 417.3L197.9 403.0M242.3 476.0L269.1 470.5M235.4 483.1L221.4 459.6M261.1 474.0L237.2 459.1M248.7 525.1L223.7 523.0M237.6 525.1L216.3 519.5M225.7 422.8L228.2 438.2M200.9 469.7L191.2 466.2M265.0 507.4L262.1 494.0M197.3 429.4L207.5 442.4M203.5 432.8L195.8 451.2M348.7 514.1L320.0 507.5M324.0 500.8L322.0 519.0M263.7 516.9L236.4 517.6M178.8 449.5L175.4 455.2M179.0 408.1L172.9 418.3M233.8 438.1L215.0 437.5M193.2 404.3L166.0 417.0M219.0 447.9L218.8 423.3M197.9 410.9L173.4 410.0M204.2 428.0L185.4 406.3M242.4 469.1L256.3 476.1M268.0 494.7L241.3 494.6M173.4 410.0L168.8 433.6M337.1 520.0L355.2 508.3M194.3 456.8L181.7 454.0M207.8 406.9L191.8 426.3M175.4 455.2L178.3 460.8M287.5 501.1L268.3 511.9M336.1 508.4L348.7 514.1M170.2 453.4L181.7 454.0M246.0 504.7L254.2 532.5M185.7 427.2L174.1 430.5M194.3 456.8L200.9 469.7M255.6 510.7L268.0 494.7M230.8 452.6L214.1 460.7M204.2 428.0L221.6 442.8M210.3 468.1L205.1 482.7M248.5 444.1L247.7 451.2M310.9 521.4L302.9 524.3M269.1 470.5L247.7 451.2M200.9 469.7L215.5 472.5M172.0 436.8L177.7 413.3M265.0 507.4L257.0 495.7M247.0 481.5L257.0 503.2M197.9 410.9L195.2 440.0M334.0 514.0L355.2 508.3M215.0 437.5L202.9 449.0M195.8 451.2L188.1 454.8M193.1 433.3L172.0 436.8M254.2 532.5L256.1 526.1M221.4 459.6L225.4 463.5M230.8 452.6L217.8 464.1M202.5 414.5L219.9 435.7M269.1 470.5L247.0 481.5M248.6 470.0L248.5 444.1M218.8 423.3L200.3 436.9M259.8 530.9L280.3 512.1M177.7 413.3L193.2 404.3M207.1 472.1L200.2 442.9M310.9 521.4L295.5 516.1M278.8 461.1L274.2 478.5M242.3 476.0L269.1 470.5M214.5 443.9L200.2 442.9M178.3 460.8L172.0 436.8M278.4 523.0L276.1 508.2M311.0 506.9L310.9 521.4M190.5 476.0L184.6 464.7M245.5 498.0L219.0 488.0M210.3 468.1L219.0 447.9M242.4 469.1L221.5 473.5M241.4 452.0L221.5 473.5M219.9 435.7L209.2 428.1M283.1 490.2L289.0 479.8M205.6 488.8L205.1 482.7M185.9 447.8L174.9 423.6M237.3 478.1L208.3 477.3M220.2 478.8L237.3 478.1M203.5 432.8L186.3 419.3M221.6 442.8L225.4 463.5M230.8 452.6L230.5 458.8M286.0 467.1L289.0 491.2M222.7 453.7L216.9 455.2M336.1 508.4L324.0 500.8M207.9 420.6L215.0 437.5M163.7 428.4L172.9 418.3M191.2 466.2L181.7 454.0M225.4 463.5L225.0 483.7M266.9 465.7L285.3 474.4M207.9 420.6L214.5 443.9M283.5 495.9L296.2 503.2M192.6 445.6L211.8 455.5M328.0 512.5L355.2 508.3M242.4 469.1L225.0 483.7M276.1 508.2L287.0 520.5M286.0 467.1L285.3 474.4M229.2 417.4L222.8 417.2M181.7 454.0L184.0 470.9M229.2 417.4L203.5 432.8M214.5 443.9L217.5 415.0M180.6 443.4L195.8 451.2M283.1 490.2L278.7 483.9M234.8 504.7L237.3 478.1M270.1 489.7L245.5 498.0M257.0 495.7L234.8 504.7M215.0 437.5L219.9 435.7M189.3 439.0L192.6 445.6M208.2 458.9L222.7 453.7M254.2 532.5L263.7 516.9M286.0 467.1L295.4 472.4M243.4 518.8L263.7 516.9M211.8 455.5L193.1 433.3M207.1 472.1L195.8 451.2M211.8 455.5L185.9 447.8M211.8 455.5L194.8 470.5M262.8 460.5L248.5 444.1M199.3 458.5L178.3 460.8M242.7 461.9L270.1 456.2M256.7 520.5L255.6 510.7M185.7 427.2L191.8 426.3M217.5 415.0L207.8 406.9M311.2 515.6L287.0 520.5M247.7 451.2L221.4 459.6M185.7 427.2L182.1 431.0M254.4 451.1L261.1 474.0M237.5 468.5L220.9 467.9M202.9 449.0L192.6 445.6M241.3 494.6L257.9 470.8M245.5 498.0L257.0 503.2M248.6 470.0L270.1 456.2M179.0 408.1L187.9 413.2M208.3 477.3L199.1 501.8M259.8 530.9L252.8 517.2M212.2 489.5L225.8 470.3M281.0 502.8L280.3 512.1M180.6 443.4L164.6 441.5M319.8 496.6L331.6 497.8M208.3 477.3L199.1 501.8M222.7 453.7L206.3 464.5M245.3 456.1L235.9 445.9M197.4 421.5L174.1 430.5M197.9 403.0L193.2 404.3M248.6 470.0L258.3 490.4M207.1 472.1L222.7 453.7M242.6 531.6L259.8 530.9M214.4 428.4L200.2 442.9M270.1 489.7L285.3 474.4M274.1 469.8L274.2 478.5M184.1 458.7L189.3 439.0M258.3 490.4L281.0 502.8M241.4 452.0L228.0 433.0M253.7 467.1L242.4 469.1M202.9 449.0L197.4 421.5M185.7 427.2L180.6 443.4M278.7 483.9L272.8 462.9M178.8 449.5L199.3 458.5M289.0 491.2L278.6 476.6M220.2 478.8L225.4 463.5M242.3 476.0L248.6 470.0M262.3 466.7L261.1 474.0M257.9 456.3L254.4 451.1M276.1 508.2L270.1 489.7M171.1 442.8L185.7 427.2M289.0 491.2L265.0 507.4M200.9 469.7L215.5 472.5M216.3 519.5L199.1 501.8M190.1 460.9L187.1 432.7M266.9 465.7L274.2 478.5M262.1 494.0L278.6 476.6M263.4 481.8L237.5 468.5M210.3 468.1L235.7 454.5M212.6 422.6L209.2 428.1M200.2 442.9L202.3 421.5M215.5 472.5L225.8 470.3M206.3 464.5L207.5 442.4M257.9 456.3L237.2 459.1M283.5 495.9L271.2 518.4M272.8 462.9L248.6 470.0M214.4 428.4L229.3 443.2M198.0 475.4L208.2 458.9M215.5 472.5L199.3 458.5M194.8 470.5L210.3 468.1M182.1 431.0L173.4 410.0M271.0 507.5L243.2 513.0M203.7 455.0L197.7 465.1M217.5 415.0L197.4 421.5M219.0 447.9L230.8 452.6M271.2 518.4L243.2 513.0M187.1 432.7L164.6 441.5M250.4 485.5L242.7 461.9M185.7 427.2L204.2 428.0M212.2 489.5L214.1 460.7M227.6 476.5L242.4 469.1M190.5 476.0L212.2 489.5M216.3 519.5L215.5 505.7M254.4 451.1L257.9 456.3M232.2 471.2L237.5 468.5M177.7 413.3L197.9 410.9M206.3 464.5L197.7 465.1M170.2 453.4L163.7 428.4M274.2 478.5L263.4 481.8M278.7 483.9L274.1 469.8M175.4 455.2L191.2 466.2M230.8 452.6L237.5 468.5M225.8 470.3L237.3 478.1M200.3 436.9L192.6 417.3M235.9 445.9L222.7 453.7M219.0 488.0L198.0 475.4M271.2 518.4L256.1 526.1M229.3 443.2L242.4 469.1M187.9 413.2L182.1 431.0M241.3 494.6L257.0 495.7M208.2 458.9L217.8 464.1M214.4 428.4L228.2 438.2M241.4 452.0L237.5 468.5M183.5 439.2L204.2 428.0M232.8 464.3L262.3 466.7M205.9 499.0L225.0 483.7M219.0 488.0L198.0 475.4M320.0 507.5L302.9 524.3M189.3 439.0L190.1 460.9M280.2 470.5L258.3 490.4M193.2 404.3L215.0 408.6M200.3 436.9L225.7 447.1M289.0 491.2L301.9 505.0M178.8 449.5L203.5 432.8M225.8 470.3L248.9 464.6M278.1 529.7L265.0 507.4M211.8 455.5L194.3 456.8M217.8 464.1L212.2 489.5M241.3 494.6L220.0 499.2M287.0 520.5L267.9 524.7M203.7 455.0L190.5 476.0M225.4 463.5L247.0 481.5M248.9 464.6L222.7 453.7M184.1 458.7L174.1 430.5M280.3 512.1L278.4 523.0M280.3 512.1L296.2 503.2M246.0 504.7L236.4 517.6M220.9 467.9L221.4 459.6M168.8 433.6L188.1 454.8M195.2 440.0L180.6 443.4M232.2 471.2L242.3 476.0M178.8 449.5L185.7 427.2M197.3 429.4L185.4 406.3M269.1 470.5L268.0 494.7M166.0 417.0L172.0 436.8M276.1 508.2L278.4 523.0M200.9 469.7L222.7 453.7M256.3 476.1L242.7 461.9M219.9 435.7L225.7 447.1M289.0 479.8L295.4 472.4M303.5 492.1L329.4 505.0M287.0 520.5L289.8 513.9M287.0 520.5L296.2 503.2M270.1 489.7L245.5 498.0M183.5 439.2L202.3 421.5M219.0 488.0L242.3 476.0M254.7 461.9L245.3 456.1M348.7 514.1L343.0 517.0M355.2 508.3L348.7 514.1M278.8 461.1L261.1 474.0M236.4 517.6L234.8 504.7M186.3 419.3L202.5 414.5M187.2 397.2L173.4 410.0M163.7 428.4L179.0 408.1M197.7 465.1L200.2 442.9M241.3 494.6L221.5 473.5M209.2 428.1L193.1 433.3M217.8 464.1L228.2 438.2M301.9 505.0L276.1 508.2M207.1 472.1L190.1 460.9M257.9 456.3L237.2 459.1M202.9 449.0L211.8 455.5M227.6 476.5L214.1 460.7M220.9 467.9L227.6 476.5M270.1 489.7L261.1 474.0M285.0 528.9L256.1 526.1M195.2 440.0L204.2 428.0M245.3 456.1L252.4 472.8M178.3 460.8L183.5 439.2M250.4 485.5L237.2 459.1M190.1 460.9L175.4 455.2M199.1 501.8L208.3 477.3M197.3 429.4L217.5 415.0M289.0 479.8L283.1 490.2M187.9 413.2L193.1 433.3M221.5 473.5L205.9 499.0M218.8 423.3L203.4 410.0M191.2 466.2L180.6 443.4M208.2 458.9L216.9 455.2M205.6 488.8L208.3 477.3M289.0 491.2L262.1 494.0M261.1 474.0L268.0 494.7M257.9 470.8L269.1 470.5M192.6 445.6L203.7 455.0M190.5 476.0L188.1 454.8M255.6 510.7L281.0 502.8M223.1 429.5L214.5 443.9M202.5 414.5L222.8 417.2M185.4 406.3L202.3 421.5M185.7 427.2L202.3 421.5M322.0 519.0L313.0 497.0M313.0 497.0L289.0 479.8M265.0 507.4L257.0 495.7M216.9 455.2L221.5 473.5M330.0 523.0L347.0 507.8M191.8 426.3L185.9 447.8M190.5 476.0L205.1 482.7M198.0 475.4L212.2 489.5M228.0 433.0L230.8 452.6M248.6 470.0L237.2 459.1M250.5 457.7L270.1 456.2M193.1 433.3L218.8 423.3M174.2 448.3L163.7 428.4M283.5 495.9L263.4 481.8M256.7 520.5L242.6 531.6M171.1 442.8L170.2 453.4M190.6 408.4L197.3 429.4M262.3 466.7L274.1 469.8M229.4 526.7L256.7 520.5M234.8 504.7L250.4 485.5M252.4 472.8L225.8 470.3M248.6 470.0L257.0 495.7M272.8 462.9L274.1 469.8M202.9 449.0L193.1 433.3M283.5 495.9L268.0 494.7M243.4 518.8L245.5 498.0M221.6 442.8L218.8 423.3M272.8 462.9L274.2 478.5M215.5 472.5L237.2 459.1M178.0 437.1L172.0 436.8M281.0 502.8L268.5 476.8M280.3 512.1L296.1 528.5M203.7 455.0L194.8 470.5M190.6 408.4L204.2 428.0M283.5 495.9L280.2 470.5M243.2 513.0L254.2 532.5M310.9 521.4L313.0 497.0M257.9 456.3L278.6 476.6M289.8 513.9L276.1 508.2M237.2 459.1L249.8 477.4M178.3 460.8L192.6 445.6M232.2 471.2L242.4 469.1M235.4 483.1L221.4 459.6M229.3 443.2L241.4 452.0M232.8 464.3L247.0 481.5M257.0 495.7L248.6 470.0M266.9 465.7L242.4 469.1M203.7 455.0L199.0 484.5M231.3 520.2L234.8 504.7M208.2 458.9L206.3 464.5M217.8 464.1L241.4 452.0M199.1 501.8L216.3 519.5M219.0 447.9L221.4 459.6M247.7 451.2L232.8 464.3M248.5 444.1L219.0 447.9M228.0 433.0L233.8 438.1M221.4 459.6L225.8 470.3M200.9 469.7L217.8 464.1M229.3 443.2L228.2 438.2M254.7 461.9L254.4 451.1M192.6 417.3L179.0 408.1M311.0 506.9L313.0 497.0M232.8 464.3L220.2 478.8M222.7 453.7L227.6 476.5M221.4 459.6L232.8 464.3M263.7 516.9L285.0 528.9M242.3 476.0L225.0 483.7M202.5 414.5L197.9 403.0M225.7 422.8L200.3 436.9M237.3 478.1L262.3 466.7M257.0 495.7L257.9 470.8M186.3 419.3L197.9 403.0M185.9 447.8L171.1 442.8M228.2 438.2L211.8 455.5M200.3 436.9L172.0 436.8M280.3 512.1L256.1 526.1M190.1 460.9L199.3 458.5M205.9 499.0L212.2 489.5M215.0 437.5L202.3 421.5M203.5 432.8L209.5 450.8M212.2 489.5L220.9 467.9" fill="none" stroke="#444" stroke-opacity="0.16" stroke-width="0.5"/>
<path d="M515.3 345.5L491.4 339.8M518.5 376.6L508.0 398.4M511.3 352.4L489.3 356.6M507.5 375.1L522.6 394.1M507.2 388.8L523.5 374.2M537.6 428.7L514.3 412.2M579.1 431.1L570.8 417.4M533.4 459.2L529.8 434.9M547.3 439.0L567.6 436.6M562.0 434.2L583.0 426.8M527.2 412.9L519.5 432.6M507.3 366.7L531.5 352.8M555.9 429.7L534.1 415.1M552.1 376.7L553.4 390.9M539.9 462.5L553.6 456.4M525.7 442.7L520.9 452.8M545.8 357.0L536.0 349.1M477.8 362.6L489.3 356.6M538.6 410.2L519.9 408.2M528.6 424.4L534.4 398.8M561.6 401.0L569.4 423.9M534.4 398.8L527.2 412.9M505.4 344.2L500.8 366.3M534.1 376.3L545.6 373.6M522.6 394.1L527.5 367.3M521.0 417.5L519.9 408.2M528.7 376.6L549.3 385.2M511.3 352.4L538.5 356.2M507.3 366.7L501.2 392.0M555.9 429.7L546.8 448.3M494.7 344.8L516.8 340.9M560.7 381.8L552.1 376.7M552.1 420.9L573.3 412.0M540.7 415.7L528.7 392.6M533.4 459.2L543.7 444.0M524.9 450.0L541.9 439.1M517.2 394.2L515.6 371.5M540.7 415.7L546.8 407.1M520.8 370.2L534.8 367.8M511.6 342.2L527.6 348.4M566.8 406.1L579.1 431.1M538.6 410.2L522.2 426.3M515.0 356.8L493.5 359.2M541.5 370.8L536.0 349.1M575.5 426.7L574.4 437.8M571.4 449.0L570.2 464.9M548.6 460.0L563.9 449.0M568.6 431.8L553.2 443.5M535.2 423.2L549.7 411.9M555.9 429.7L561.3 425.7M531.5 352.8L530.6 360.7M521.8 400.2L507.5 393.5M515.0 356.8L507.8 380.8M540.7 415.7L527.1 398.0M553.4 390.9L543.2 393.9M507.3 366.7L487.1 351.4M499.8 339.1L507.3 366.7M524.2 435.8L503.9 417.8M534.8 367.8L528.7 376.6M541.9 439.1L528.7 429.8M532.4 387.4L530.6 360.7M497.6 384.7L483.2 360.6M528.5 382.7L523.5 405.0M514.0 406.5L527.1 398.0M513.4 337.3L530.6 360.7M511.6 342.2L521.4 347.8M555.8 371.1L534.8 367.8M553.7 449.6L543.7 444.0M562.4 394.8L545.6 373.6M568.6 431.8L580.0 440.6M484.6 355.1L507.3 366.7M583.0 426.8L577.3 417.8M498.5 413.3L494.6 396.7M493.5 359.2L499.9 377.5M534.1 376.3L530.8 371.9M568.6 431.8L546.8 448.3M553.6 463.8L546.8 448.3M498.5 413.3L523.5 405.0M484.3 376.6L504.5 355.3M555.8 371.1L532.4 387.4M512.2 382.4L516.9 388.6M534.8 440.7L537.5 435.6M553.7 449.6L537.6 428.7M515.2 365.6L523.5 374.2M507.8 380.8L494.6 396.7M512.2 382.4L508.0 398.4M545.6 429.9L519.5 432.6M552.1 376.7L557.5 396.3M570.8 417.4L567.4 393.4M515.2 365.6L507.9 336.6M507.2 388.8L489.4 397.1M582.8 420.0L574.0 432.4M493.5 359.2L484.3 376.6M470.8 364.4L467.0 359.6M559.2 389.2L535.2 381.4M578.1 449.1L579.1 431.1M484.6 355.1L507.9 336.6M528.6 424.4L515.3 425.4M511.6 342.2L516.8 340.9M527.2 412.9L546.8 407.1M557.5 396.3L552.1 420.9M565.4 412.2L538.6 410.2M549.7 411.9L566.8 406.1M542.7 425.1L538.6 410.2M583.0 426.8L568.1 442.3M479.1 373.5L483.2 360.6M575.7 444.7L559.0 450.4M509.3 356.7L499.9 377.5M549.7 411.9L561.3 425.7M521.8 400.2L504.0 384.8M495.7 417.8L494.6 396.7M470.7 377.2L479.5 356.5M529.7 404.3L512.2 382.4M575.5 426.7L570.8 417.4M544.4 434.8L541.9 439.1M491.7 370.9L499.9 344.3M487.1 351.4L472.8 356.5M500.7 398.3L518.5 376.6M582.8 420.0L570.8 417.4M479.3 380.2L481.2 398.8M524.6 389.2L532.4 387.4M507.8 380.8L517.5 382.4M536.1 404.8L514.3 412.2M481.2 398.8L495.7 417.8M487.9 388.6L500.7 398.3M485.3 371.3L486.3 346.0M547.0 361.5L542.1 378.8M507.3 366.7L518.5 376.6M548.3 366.7L523.4 378.7M517.6 403.3L546.8 407.1M530.6 360.7L508.1 348.4M549.3 385.2L561.6 401.0M470.8 364.4L475.0 343.0M479.3 380.2L489.4 397.1M521.0 417.5L508.1 406.7M511.3 352.4L521.4 347.8M543.7 444.0L528.2 453.9M533.4 459.2L560.9 455.2M488.4 411.8L489.5 418.9M495.0 365.1L470.8 364.4M562.0 434.2L540.7 415.7M531.5 352.8L554.4 362.5M528.5 382.7L517.5 382.4M504.5 355.3L502.2 349.6M484.6 355.1L467.0 359.6M549.3 385.2L539.2 383.8M560.7 381.8L539.2 383.8M561.4 466.6L546.8 448.3M470.7 377.2L491.7 370.9M528.2 453.9L524.9 450.0M512.4 392.4L524.6 389.2M523.5 374.2L499.9 377.5M507.2 388.8L489.4 397.1M568.1 442.3L561.3 425.7M552.1 376.7L530.8 371.9M551.2 426.6L578.5 422.9M491.8 404.9L514.3 412.2M546.5 398.2L536.1 404.8M546.8 448.3L568.1 442.3M555.8 371.1L554.9 385.6M528.7 429.8L506.4 412.6M517.5 382.4L507.2 388.8M552.1 376.7L534.1 376.3M479.3 380.2L483.2 360.6M491.4 339.8L493.5 359.2M491.7 370.9L466.1 374.5M511.3 352.4L510.7 361.9M518.5 376.6L501.2 392.0M466.1 374.5L479.1 373.5M524.6 389.2L542.1 378.8M507.3 366.7L521.4 347.8M532.4 387.4L548.3 366.7M562.4 439.8L537.5 435.6M468.0 352.0L494.7 344.8M517.2 394.2L527.2 412.9M486.3 346.0L509.3 356.7M520.8 370.2L512.4 392.4M563.9 449.0L578.5 422.9M507.2 388.8L523.5 405.0M568.6 431.8L579.1 431.1M507.2 388.8L491.8 404.9M533.4 459.2L515.1 445.1M518.5 376.6L508.0 398.4M485.3 403.2L514.0 406.5M528.7 429.8L515.1 445.1M483.2 360.6L499.0 358.4M495.0 390.2L487.9 388.6M481.3 341.9L483.2 360.6M499.0 358.4L495.3 350.5M537.6 428.7L542.7 425.1M507.2 388.8L522.6 394.1M507.2 388.8L518.5 376.6M530.8 371.9L535.2 381.4M487.9 388.6L470.7 377.2M551.7 406.7L561.6 401.0M507.2 388.8L517.6 403.3M538.5 356.2L520.8 370.2M578.1 449.1L553.2 443.5M523.5 374.2L528.7 392.6M527.5 367.3L530.6 360.7M524.2 435.8L524.9 450.0M544.4 434.8L546.9 419.9M562.0 434.2L566.8 406.1M523.5 374.2L504.0 384.8M534.8 367.8L554.9 385.6M506.4 412.6L494.5 410.3M500.7 398.3L501.7 409.1M482.6 365.7L494.7 344.8M578.1 449.1L553.7 449.6M565.4 387.8L555.8 371.1M517.6 403.3L527.1 398.0M548.3 453.7L525.7 442.7M497.6 384.7L524.6 389.2M528.7 392.6L517.2 394.2M579.1 431.1L563.9 449.0M524.7 360.2L527.6 348.4M501.7 409.1L519.9 408.2M546.8 448.3L573.4 458.1M528.5 382.7L541.5 370.8M522.2 426.3L528.6 424.4M541.9 439.1L535.2 423.2M553.6 456.4L577.5 454.5M574.4 437.8L563.9 449.0M560.9 455.2L568.1 442.3M499.9 377.5L528.5 382.7M528.7 429.8L515.1 445.1M521.0 417.5L529.8 434.9M521.0 417.5L542.7 425.1M534.1 376.3L536.5 361.0M569.3 399.5L567.4 393.4M527.5 367.3L512.4 392.4M479.3 380.2L507.8 380.8M544.4 434.8L560.9 455.2M546.5 398.2L572.2 406.1M504.5 361.0L507.3 366.7M547.0 361.5L532.4 387.4M500.8 366.3L507.2 388.8M468.0 352.0L487.1 351.4M473.8 348.1L479.1 373.5M529.7 404.3L528.5 419.0M527.1 398.0L522.2 426.3M537.5 435.6L531.4 446.5M524.7 360.2L534.8 367.8M491.8 404.9L514.3 412.2M529.8 434.9L521.0 417.5M514.3 412.2L515.3 425.4M540.0 400.3L528.5 419.0M555.9 429.7L579.1 431.1M507.8 380.8L512.2 382.4M501.2 392.0L514.3 412.2M519.2 361.6L532.4 387.4M491.8 404.9L507.5 393.5M537.5 435.6L525.7 442.7M567.6 436.6L581.9 446.4M580.2 408.0L569.4 423.9M516.8 340.9L536.0 349.1M546.8 407.1L562.4 394.8M553.6 456.4L570.4 453.4M507.2 388.8L516.9 388.6M527.1 398.0L551.7 406.7M575.7 444.7L569.4 423.9M486.3 346.0L474.4 369.5M554.5 414.6L538.3 391.6M479.5 356.5L473.8 348.1M528.7 429.8L529.7 404.3M515.3 345.5L499.8 339.1M470.8 364.4L467.0 359.6M507.3 366.7L486.3 346.0M538.6 410.2L524.6 389.2M522.6 394.1L536.1 404.8M505.4 344.2L510.7 361.9M538.3 391.6L549.7 411.9M565.4 412.2L572.2 406.1M568.1 442.3L565.1 462.9M572.2 406.1L567.4 393.4M493.5 359.2L504.5 361.0M559.3 444.8L552.1 420.9M507.2 388.8L507.5 393.5M520.8 370.2L531.5 352.8M516.9 388.6L507.5 393.5M583.0 426.8L566.8 406.1M560.7 381.8L557.5 396.3M472.8 356.5L491.7 370.9M537.6 428.7L553.2 443.5M559.2 389.2L555.8 371.1M499.9 377.5L524.6 389.2M515.6 371.5L495.3 350.5M504.5 355.3L516.8 340.9M561.3 425.7L552.1 420.9M519.9 408.2L507.5 393.5M512.4 392.4L523.4 378.7M551.7 406.7L538.6 410.2M500.8 366.3L488.5 363.9M528.7 429.8L545.6 429.9M515.6 371.5L510.7 361.9M553.7 449.6L553.2 443.5M493.5 359.2L474.4 369.5M504.0 384.8L527.5 367.3M548.3 453.7L525.7 442.7M517.2 394.2L514.0 406.5M562.4 394.8L545.6 373.6M481.2 398.8L483.9 392.4M549.5 433.5L537.6 428.7M548.9 393.9L560.7 381.8M501.7 409.1L527.2 412.9M559.3 411.8L537.6 428.7M504.2 402.8L501.7 409.1M528.5 382.7L516.9 388.6M507.5 393.5L511.7 387.5M567.6 436.6L578.7 460.0M517.6 403.3L504.2 402.8M504.2 402.8L494.5 410.3M495.0 365.1L499.9 377.5M552.1 376.7L523.5 374.2M554.5 414.6L555.9 429.7M507.2 388.8L489.4 397.1M520.8 370.2L501.2 392.0M546.5 398.2L567.4 393.4M508.1 406.7L501.2 392.0M507.3 366.7L517.2 394.2M516.9 388.6L523.5 374.2M497.6 384.7L499.0 358.4M498.5 413.3L495.7 417.8M553.7 449.6L577.5 454.5M561.3 425.7L578.5 422.9M479.6 349.4L487.1 351.4M552.1 420.9L561.3 425.7M508.1 406.7L508.0 398.4M500.7 398.3L508.0 398.4M525.2 342.7L527.6 348.4M577.3 417.8L562.8 417.2M553.2 443.5L559.3 444.8M538.3 391.6L548.9 393.9M539.2 383.8L553.4 390.9M554.7 436.2L570.4 453.4M539.2 383.8L523.4 378.7M507.3 366.7L499.9 377.5M548.3 366.7L543.2 352.3M567.6 436.6L567.9 458.2M494.7 344.8L484.6 355.1M580.0 440.6L554.7 436.2M522.5 383.1L501.2 392.0M512.2 382.4L523.5 374.2M511.7 387.5L497.6 384.7M504.0 384.8L501.7 409.1M553.6 463.8L573.4 458.1M532.4 387.4L528.7 376.6M541.9 439.1L568.1 442.3M490.6 381.5L482.6 365.7M490.6 381.5L482.6 365.7M529.7 404.3L528.6 424.4M552.1 376.7L532.4 387.4M548.9 393.9L534.4 398.8M539.9 462.5L545.1 468.1M580.0 440.6L570.4 453.4M522.5 383.1L540.1 365.3M546.8 407.1L542.1 378.8M551.2 426.6L553.9 402.0M539.2 383.8L520.8 370.2M504.5 355.3L499.8 339.1M474.4 369.5L487.9 388.6M519.2 361.6L525.2 342.7M555.9 429.7L528.5 419.0M474.4 369.5L483.9 392.4M565.1 462.9L575.2 464.8M542.1 378.8L530.8 371.9M551.2 426.6L553.2 443.5M562.8 417.2L559.2 389.2M479.1 373.5L470.7 377.2M546.8 448.3L558.8 462.3M548.6 460.0L534.8 440.7M512.4 392.4L529.7 404.3M512.4 392.4L494.5 410.3M510.7 361.9L495.3 350.5M511.3 352.4L509.3 356.7M543.7 444.0L553.6 463.8M539.9 462.5L534.8 440.7M499.9 377.5L477.8 362.6M534.1 376.3L517.5 382.4M486.3 346.0L484.6 355.1M538.3 391.6L557.5 396.3M511.7 387.5L501.7 409.1M522.2 426.3L519.9 408.2M499.9 344.3L495.0 365.1M508.1 406.7L512.2 382.4M505.4 344.2L481.3 341.9M543.9 387.9L536.1 404.8M513.1 400.9L515.3 425.4M553.6 463.8L559.0 450.4M536.1 404.8L534.1 376.3M574.4 437.8L579.1 431.1M553.9 402.0L559.2 389.2M527.5 367.3L543.9 387.9M479.1 373.5L488.5 363.9M537.6 428.7L542.7 425.1M561.6 401.0L553.9 402.0M510.7 361.9L512.2 382.4M515.8 350.0L511.6 342.2M553.7 449.6L565.5 453.3M504.5 361.0L515.2 365.6M553.6 463.8L570.4 453.4M575.7 444.7L567.9 458.2M538.6 410.2L540.7 415.7M543.2 352.3L551.4 358.6M484.3 376.6L468.0 352.0M513.1 400.9L507.5 375.1M499.0 358.4L490.6 381.5M559.0 450.4L561.4 466.6M523.4 378.7L527.1 398.0M527.5 367.3L508.1 348.4M513.1 400.9L501.2 392.0M528.6 424.4L549.5 433.5M578.5 422.9L561.3 425.7M535.2 423.2L515.1 445.1M561.3 425.7L578.5 422.9M567.6 436.6L544.4 434.8M533.4 459.2L553.6 456.4M497.6 384.7L491.8 404.9M484.3 376.6L477.8 362.6M574.0 432.4L547.3 439.0M528.5 419.0L528.6 424.4M508.1 406.7L527.2 412.9M562.0 434.2L537.5 435.6M535.2 381.4L511.7 387.5M548.9 393.9L569.3 399.5M538.5 356.2L525.2 342.7M546.5 398.2L527.2 412.9M515.6 371.5L521.4 347.8M475.0 343.0L468.0 352.0M546.8 407.1L540.7 415.7M543.7 444.0L551.2 426.6M552.1 420.9L549.7 411.9M528.5 382.7L527.5 367.3M530.6 360.7L524.7 360.2M495.3 350.5L513.4 337.3M508.1 406.7L481.2 398.8M568.1 442.3L553.6 456.4M524.6 389.2L539.2 383.8M570.8 417.4L546.8 407.1M534.1 376.3L529.7 404.3M567.6 436.6L565.4 412.2M524.6 389.2L523.5 374.2M531.5 352.8L513.4 337.3M538.3 391.6L538.6 410.2M528.5 419.0L537.5 435.6M507.2 388.8L483.9 392.4M531.4 446.5L555.9 429.7M565.4 387.8L553.4 390.9M559.3 444.8L571.4 449.0M470.7 377.2L490.6 381.5M507.8 380.8L504.2 402.8M557.5 396.3L561.6 401.0M527.1 398.0L517.2 394.2M548.3 453.7L577.5 454.5M483.9 392.4L507.5 393.5M571.4 449.0L562.0 434.2M509.3 356.7L488.5 363.9M519.2 361.6L516.9 388.6M508.1 348.4L515.2 365.6M528.6 424.4L537.6 428.7M473.8 348.1L484.6 355.1M540.0 400.3L543.2 393.9M507.3 366.7L495.3 350.5M528.2 453.9L547.3 439.0M517.6 403.3L508.1 406.7M553.6 456.4L578.1 449.1M575.2 464.8L581.9 446.4M507.5 375.1L516.9 388.6M515.2 365.6L511.7 387.5M527.2 412.9L514.0 406.5M524.7 360.2L507.3 366.7M520.8 370.2L540.1 365.3M545.6 373.6L524.7 360.2M563.9 449.0L580.0 440.6M535.2 423.2L515.3 425.4M553.6 456.4L553.2 443.5M541.5 370.8L530.8 371.9M493.5 359.2L515.0 356.8M553.2 443.5L547.3 439.0M542.1 378.8L551.7 406.7M500.8 366.3L486.3 346.0M501.2 392.0L489.5 418.9M477.8 362.6L493.5 359.2M567.4 393.4L549.3 385.2M549.3 385.2L527.5 367.3M499.9 344.3L495.0 365.1M529.8 434.9L545.6 429.9M558.8 462.3L562.0 434.2M567.9 458.2L558.8 462.3M520.8 370.2L515.0 356.8M546.8 448.3L545.1 468.1M553.7 449.6L553.2 443.5M542.7 425.1L553.7 449.6M512.4 392.4L497.6 384.7M546.8 448.3L529.8 434.9M531.5 352.8L551.4 358.6M554.9 385.6L548.9 393.9M543.2 393.9L534.1 415.1M534.1 376.3L547.0 361.5M491.7 370.9L473.8 348.1M551.2 426.6L579.1 431.1M524.9 450.0L543.0 457.0M575.7 444.7L579.1 431.1M554.5 414.6L543.9 387.9M520.8 370.2L527.5 367.3M556.9 407.1L561.6 401.0M520.9 452.8L546.8 448.3M560.9 455.2L553.6 463.8M583.5 433.7L571.4 449.0M511.7 387.5L504.0 384.8M559.2 389.2L549.3 385.2M521.8 400.2L534.4 398.8M481.2 398.8L495.7 417.8M508.0 398.4L516.9 388.6M536.5 361.0L519.2 361.6M490.6 381.5L491.7 370.9M474.4 369.5L466.1 374.5M547.3 439.0L525.7 442.7M514.3 412.2L489.4 397.1M562.4 439.8L537.6 428.7M562.4 439.8L545.6 429.9M523.5 457.3L515.1 445.1M517.5 382.4L522.6 394.1M534.1 376.3L538.3 391.6M572.2 406.1L562.8 417.2M570.2 464.9L553.7 449.6M528.5 382.7L507.8 380.8M504.5 355.3L507.3 366.7M507.8 380.8L487.9 388.6M548.9 393.9L576.3 402.3M466.1 374.5L479.3 380.2M519.9 408.2L514.3 412.2M509.3 356.7L515.6 371.5M507.9 336.6L525.2 342.7M548.3 453.7L533.4 459.2M486.3 346.0L487.1 351.4M519.9 408.2L521.8 400.2M527.6 348.4L499.8 339.1M553.9 402.0L570.8 417.4M543.2 393.9L552.1 376.7M479.1 373.5L489.4 397.1M485.3 403.2L489.5 418.9M548.3 453.7L529.8 434.9M556.9 407.1L554.5 414.6M503.9 417.8L507.5 393.5M548.9 393.9L545.6 373.6M508.1 406.7L527.2 412.9M524.9 450.0L529.8 434.9M567.9 458.2L562.0 434.2M556.9 407.1L562.0 434.2M498.5 413.3L491.8 404.9M515.6 371.5L515.2 365.6M547.0 361.5L541.5 370.8M499.0 358.4L511.6 342.2M524.9 450.0L523.5 457.3M482.6 365.7L504.0 384.8M528.7 429.8L524.2 435.8M556.9 407.1L553.9 402.0M552.1 376.7L569.3 399.5M540.1 365.3L515.6 371.5M548.3 453.7L554.7 436.2M530.6 360.7L555.8 371.1M577.3 417.8L557.5 396.3M515.8 350.0L507.9 336.6M548.3 453.7L565.1 462.9M524.6 354.3L515.0 356.8M540.1 365.3L521.4 347.8M549.3 385.2L524.6 389.2M522.5 383.1L519.9 408.2M495.0 390.2L512.4 392.4M548.9 393.9L567.4 393.4M583.0 426.8L577.5 454.5M512.2 382.4L516.9 388.6M508.1 348.4L519.2 361.6M532.4 387.4L518.5 376.6M562.4 439.8L565.1 462.9M473.8 348.1L477.8 362.6M489.3 356.6L472.8 356.5M498.6 404.9L527.1 398.0M540.0 400.3L551.7 406.7M568.1 442.3L565.1 462.9M551.2 426.6L528.6 424.4M522.5 383.1L528.5 382.7M551.7 406.7L544.4 434.8M569.4 423.9L556.9 407.1M481.3 341.9L479.5 356.5M528.5 419.0L549.5 433.5M515.8 350.0L504.5 355.3M549.7 411.9L535.2 423.2M527.1 398.0L549.3 385.2M466.1 374.5L487.9 388.6M528.7 429.8L520.9 452.8M578.5 422.9L561.3 425.7M536.0 349.1L515.0 356.8M523.4 378.7L522.6 394.1M556.9 407.1L582.5 414.6M560.9 455.2L547.3 439.0M543.2 352.3L520.8 370.2M515.6 371.5L511.3 352.4M507.5 393.5L517.6 403.3M515.0 356.8L502.2 349.6M535.2 381.4L536.1 404.8M580.0 440.6L560.9 455.2M512.4 392.4L515.6 371.5M522.6 394.1L499.9 377.5M569.3 399.5L559.2 389.2M543.0 457.0L545.6 429.9M508.1 348.4L479.5 356.5M511.7 387.5L507.2 388.8M524.6 354.3L495.3 350.5M565.4 387.8L557.5 396.3M553.6 456.4L575.7 444.7M487.9 388.6L482.6 365.7M499.9 344.3L472.8 356.5M534.8 367.8L509.3 356.7M568.1 442.3L563.9 449.0M544.4 434.8L524.2 435.8M512.4 392.4L497.6 384.7M479.5 356.5L504.5 355.3M507.3 366.7L485.3 371.3M567.9 458.2L553.7 449.6M523.5 374.2L512.4 392.4M512.4 392.4L491.8 404.9M569.4 423.9L551.2 426.6M518.5 376.6L527.5 367.3M466.1 374.5L487.9 388.6M545.6 373.6L522.5 383.1M546.8 407.1L522.6 394.1M529.7 404.3L535.2 423.2M553.4 390.9L534.4 398.8M487.9 388.6L485.3 403.2M538.6 410.2L554.9 385.6M520.8 446.3L544.4 434.8M520.8 446.3L543.7 444.0M560.9 455.2L565.1 462.9M489.5 418.9L508.1 406.7M548.6 460.0L549.5 433.5M553.7 449.6L560.9 455.2M568.1 442.3L568.6 431.8M512.4 392.4L540.0 400.3M494.6 396.7L501.2 392.0M495.0 390.2L522.5 383.1M499.9 344.3L473.8 348.1M528.5 419.0L549.5 433.5M534.8 440.7L547.3 439.0M538.3 391.6L561.6 401.0M511.7 387.5L491.7 370.9M548.3 366.7L530.8 371.9M583.5 433.7L568.6 431.8M542.1 378.8L530.6 360.7M548.6 460.0L524.9 450.0M479.6 349.4L499.0 358.4M491.4 339.8L502.2 349.6M542.1 378.8L522.6 394.1M507.3 366.7L507.5 393.5M534.4 398.8L551.7 406.7M548.3 366.7L527.6 348.4M531.5 352.8L530.8 371.9M513.1 400.9L507.5 375.1M530.6 360.7L536.0 349.1M534.8 367.8L531.5 352.8M539.2 383.8L546.5 398.2M561.6 401.0L553.9 402.0M539.2 383.8L545.6 373.6M491.7 370.9L508.1 348.4M522.5 383.1L535.2 381.4M521.4 347.8L538.5 356.2M527.5 367.3L520.8 370.2M534.8 440.7L545.6 429.9M555.9 429.7L553.2 443.5M582.8 420.0L578.5 422.9M543.7 444.0L540.7 415.7M546.9 419.9L519.9 408.2M479.3 380.2L474.4 369.5M520.9 452.8L539.5 448.9M537.6 428.7L537.5 435.6M545.8 357.0L536.5 361.0M528.7 429.8L533.4 459.2M479.6 349.4L504.5 355.3M484.3 376.6L507.3 366.7M543.2 393.9L560.7 381.8M545.6 373.6L545.8 357.0M486.3 346.0L499.8 339.1M475.0 343.0L473.8 348.1M528.7 376.6L509.3 356.7M573.4 458.1L575.2 464.8M517.5 382.4L514.3 412.2M545.6 373.6L557.5 396.3M560.7 381.8L540.1 365.3M579.1 431.1L573.4 458.1M572.2 406.1L551.7 406.7M528.7 376.6L523.5 405.0M551.2 426.6L559.3 411.8M561.6 401.0L552.1 376.7M513.4 337.3L511.6 342.2M549.5 433.5L522.2 426.3M517.2 394.2L490.6 381.5M569.4 423.9L542.7 425.1M545.8 357.0L554.4 362.5M582.5 414.6L562.0 434.2M578.5 422.9L582.8 420.0M482.6 365.7L486.3 346.0M524.7 360.2L523.5 374.2M567.9 458.2L583.5 433.7M536.0 349.1L551.4 358.6M507.5 393.5L490.6 381.5M489.5 418.9L514.0 406.5M507.9 336.6L487.1 351.4M553.9 402.0L562.8 417.2M570.8 417.4L576.3 402.3M551.7 406.7L551.2 426.6M565.1 462.9L548.6 460.0M504.5 355.3L502.2 349.6M545.8 357.0L536.5 361.0M520.8 446.3L525.7 442.7M553.6 463.8L545.1 468.1M534.4 398.8L559.3 411.8M479.6 349.4L494.7 344.8M561.3 425.7L568.6 431.8M482.6 365.7L472.8 356.5M563.9 449.0L565.5 453.3M535.2 381.4L524.6 389.2M470.8 364.4L482.6 365.7M543.2 393.9L562.4 394.8M559.2 389.2L569.3 399.5M486.3 346.0L483.2 360.6M517.6 403.3L535.2 423.2M549.5 433.5L570.8 417.4M565.4 387.8L553.9 402.0M508.1 348.4L524.6 354.3M484.3 376.6L507.5 393.5M536.0 349.1L524.6 354.3M521.8 400.2L519.9 408.2M541.9 439.1L565.5 453.3M531.5 352.8L542.1 378.8M519.5 432.6L534.1 415.1M543.0 457.0L559.0 450.4M542.7 425.1L545.6 429.9M518.5 376.6L527.1 398.0M552.1 420.9L579.1 431.1M543.2 393.9L538.6 410.2M534.4 398.8L517.6 403.3M560.9 455.2L567.9 458.2M546.9 419.9L547.3 439.0M538.3 391.6L554.9 385.6M524.6 354.3L515.6 371.5M473.8 348.1L489.3 356.6M515.8 350.0L513.4 337.3M505.4 344.2L484.6 355.1M535.2 423.2L524.2 435.8M539.2 383.8L567.4 393.4M528.5 382.7L507.5 375.1M508.1 406.7L495.7 417.8M569.4 423.9L555.9 429.7M575.2 464.8L558.8 462.3M515.3 425.4L495.7 417.8M523.4 378.7L504.5 361.0M545.1 468.1L553.6 456.4M495.3 350.5L488.5 363.9M545.6 429.9L556.9 407.1M499.9 344.3L515.3 345.5M528.5 382.7L519.9 408.2M582.5 414.6L565.4 412.2M538.5 356.2L534.8 367.8M533.4 459.2L548.3 453.7M511.3 352.4L515.8 350.0M513.1 400.9L485.3 403.2M534.4 398.8L561.6 401.0M576.3 402.3L566.8 406.1M566.8 406.1L546.8 407.1M487.9 388.6L500.8 366.3M490.6 381.5L504.2 402.8M484.6 355.1L479.6 349.4M470.8 364.4L495.0 365.1M519.2 361.6L508.1 348.4M519.5 432.6L501.7 409.1M553.6 463.8L578.7 460.0M522.5 383.1L527.1 398.0M529.8 434.9L537.5 435.6M530.6 360.7L511.3 352.4M534.8 367.8L528.7 376.6M501.2 392.0L489.5 418.9M521.0 417.5L528.7 429.8M524.6 354.3L499.8 339.1M484.3 376.6L512.2 382.4M494.7 344.8L468.0 352.0M493.5 359.2L515.2 365.6M489.3 356.6L468.0 352.0M507.5 375.1L495.0 390.2M486.3 346.0L488.5 363.9M551.4 358.6L552.1 376.7M529.8 434.9L548.3 453.7M519.9 408.2L523.4 378.7M515.0 356.8L524.6 354.3M483.9 392.4L487.9 388.6M515.0 356.8L499.9 377.5M547.0 361.5L520.8 370.2M523.5 374.2L511.3 352.4M515.8 350.0L504.5 355.3M557.5 396.3L560.7 381.8M512.2 382.4L523.5 405.0M553.9 402.0L546.9 419.9M534.4 398.8L554.5 414.6M559.2 389.2L567.4 393.4M577.3 417.8L553.9 402.0M548.6 460.0L565.1 462.9M507.5 375.1L495.0 365.1M546.8 407.1L548.9 393.9M578.5 422.9L565.4 412.2M511.7 387.5L495.0 365.1M545.8 357.0L523.5 374.2M534.4 398.8L514.0 406.5M567.6 436.6L567.9 458.2M528.6 424.4L517.6 403.3M485.3 403.2L499.9 377.5M527.6 348.4L510.7 361.9M514.3 412.2L501.2 392.0M580.2 408.0L577.3 417.8M571.4 449.0L575.7 444.7M515.0 356.8L525.2 342.7M579.1 431.1L554.5 414.6M537.5 435.6L519.5 432.6M504.2 402.8L512.4 392.4M528.6 424.4L520.8 446.3M580.0 440.6L568.6 431.8M569.4 423.9L556.9 407.1M536.5 361.0L520.8 370.2M494.5 410.3L519.9 408.2M499.0 358.4L504.5 361.0M495.0 390.2L498.5 413.3M472.8 356.5L475.0 343.0M499.9 344.3L479.6 349.4M479.1 373.5L489.4 397.1M537.5 435.6L543.7 444.0M513.4 337.3L507.9 336.6M573.3 412.0L565.4 387.8M502.2 349.6L519.2 361.6M559.3 411.8L561.6 401.0M528.7 376.6L515.6 371.5M532.4 387.4L534.1 376.3M536.5 361.0L527.5 367.3M570.4 453.4L578.1 449.1M467.4 369.1L474.4 369.5M534.1 415.1L514.3 412.2M582.8 420.0L556.9 407.1M548.3 453.7L567.6 436.6M498.6 404.9L514.0 406.5M503.9 417.8L494.6 396.7M565.4 412.2L569.3 399.5M501.2 392.0L523.5 374.2M540.1 365.3L543.2 352.3M501.7 409.1L529.7 404.3M515.3 345.5L504.5 361.0M532.4 387.4L546.8 407.1M553.4 390.9L542.1 378.8M519.2 361.6L536.0 349.1M538.6 410.2L540.0 400.3M509.3 356.7L486.3 346.0M553.6 456.4L578.7 460.0M489.5 418.9L494.6 396.7M520.9 452.8L534.8 440.7M484.3 376.6L472.8 356.5M531.5 352.8L524.7 360.2M498.5 413.3L489.4 397.1M507.9 336.6L487.1 351.4M553.6 456.4L570.4 453.4M521.8 400.2L535.2 423.2M512.4 392.4L521.0 417.5M582.5 414.6L567.6 436.6M552.1 420.9L565.4 412.2M562.4 394.8L534.4 398.8M515.1 445.1L520.8 446.3M514.0 406.5L528.5 419.0M568.6 431.8L575.5 426.7M554.9 385.6L538.6 410.2M519.9 408.2L546.5 398.2M536.1 404.8L517.5 382.4M524.9 450.0L519.5 432.6M582.5 414.6L574.4 437.8M504.0 384.8L498.6 404.9M515.1 445.1L537.6 428.7M536.5 361.0L522.5 383.1M484.3 376.6L507.5 393.5M527.5 367.3L515.3 345.5M521.8 400.2L523.5 374.2M525.7 442.7L539.5 448.9M515.6 371.5L520.8 370.2M543.7 444.0L568.6 431.8M535.2 423.2L539.5 448.9M528.5 382.7L549.3 385.2M527.5 367.3L530.8 371.9M580.0 440.6L567.6 436.6M485.3 403.2L490.6 381.5M533.1 453.1L515.1 445.1M507.3 366.7L515.0 356.8M522.2 426.3L504.2 402.8M515.6 371.5L524.6 354.3M577.5 454.5L563.9 449.0M515.3 345.5L520.8 370.2M531.5 352.8L534.8 367.8M566.8 406.1L556.9 407.1M501.7 409.1L485.3 403.2M543.7 444.0L520.8 446.3M543.2 352.3L534.1 376.3M489.5 418.9L485.3 403.2M559.3 411.8L546.9 419.9M567.4 393.4L573.3 412.0M554.9 385.6L535.2 381.4M507.5 393.5L507.8 380.8M537.6 428.7L524.9 450.0M502.2 349.6L485.3 371.3M508.1 348.4L527.6 348.4M559.3 444.8L562.0 434.2M495.0 365.1L515.3 345.5M527.2 412.9L527.1 398.0M543.2 393.9L528.7 392.6M522.5 383.1L530.6 360.7M511.6 342.2L505.4 344.2M507.5 393.5L518.5 376.6M484.3 376.6L501.2 392.0M499.8 339.1L488.5 363.9M515.6 371.5L516.9 388.6M515.2 365.6L534.8 367.8M499.8 339.1L504.5 361.0M511.7 387.5L523.5 405.0M507.3 366.7L516.8 340.9M562.4 439.8L543.7 444.0M556.9 407.1L561.3 425.7M561.3 425.7L554.5 414.6M516.9 388.6L499.9 377.5M513.1 400.9L500.7 398.3M557.5 396.3L543.9 387.9M545.6 429.9L528.2 453.9M559.3 411.8L538.6 410.2M527.1 398.0L529.7 404.3M566.8 406.1L565.4 387.8M500.7 398.3L507.2 388.8M529.8 434.9L528.6 424.4M519.5 432.6L528.7 429.8M520.8 370.2L517.2 394.2M534.1 376.3L536.1 404.8M521.4 347.8L507.9 336.6M541.5 370.8L547.0 361.5M513.1 400.9L522.2 426.3M493.5 359.2L499.0 358.4M521.4 347.8L534.8 367.8M524.2 435.8L515.1 445.1M543.9 387.9L559.2 389.2M557.5 396.3L534.1 415.1M524.6 354.3L500.8 366.3M515.6 371.5L518.5 376.6M548.3 366.7L524.6 354.3M554.5 414.6L565.4 412.2M507.5 393.5L489.4 397.1M559.3 444.8L573.4 458.1M508.0 398.4L524.6 389.2M573.3 412.0L569.3 399.5M523.5 457.3L520.8 446.3M561.6 401.0L559.2 389.2M530.8 371.9L512.2 382.4M565.4 412.2L561.6 401.0M565.5 453.3L553.2 443.5M569.4 423.9L551.7 406.7M567.6 436.6L568.1 442.3M519.2 361.6L527.6 348.4M514.3 412.2L517.5 382.4M543.9 387.9L545.6 373.6M561.6 401.0L551.7 406.7M543.2 393.9L517.6 403.3M534.4 398.8L523.4 378.7M545.6 429.9L559.0 450.4M537.6 428.7L549.7 411.9M556.9 407.1L549.7 411.9M541.5 370.8L524.6 354.3M477.8 362.6L504.5 355.3M515.0 356.8L504.5 355.3M561.3 425.7L566.8 406.1M528.7 376.6L528.7 392.6M567.6 436.6L577.5 454.5M553.6 463.8L578.1 449.1M575.7 444.7L570.2 464.9M494.5 410.3L495.7 417.8M520.8 370.2L528.7 376.6M504.0 384.8L481.2 398.8M474.4 369.5L488.5 363.9M515.3 345.5L538.5 356.2M535.2 381.4L527.5 367.3M504.5 355.3L502.2 349.6M562.4 394.8L569.4 423.9M540.0 400.3L565.4 412.2M548.3 366.7L548.9 393.9M568.6 431.8L562.8 417.2M540.0 400.3L536.1 404.8M517.6 403.3L519.5 432.6M552.1 376.7L543.9 387.9M523.5 405.0L514.3 412.2M523.5 405.0L494.5 410.3M481.2 398.8L484.3 376.6M565.4 387.8L539.2 383.8M504.5 355.3L499.9 377.5M573.3 412.0L551.2 426.6M525.7 442.7L521.0 417.5M575.7 444.7L574.4 437.8M578.5 422.9L561.3 425.7M571.4 449.0L560.9 455.2M519.2 361.6L493.5 359.2M534.1 415.1L547.3 439.0M490.6 381.5L495.0 390.2M515.8 350.0L499.0 358.4M546.9 419.9L562.4 439.8M493.5 359.2L515.6 371.5M523.4 378.7L524.6 389.2M495.3 350.5L500.8 366.3M512.4 392.4L523.5 405.0M501.7 409.1L523.5 405.0M523.4 378.7L535.2 381.4M494.5 410.3L521.0 417.5M561.4 466.6L565.5 453.3M491.8 404.9L485.3 403.2M521.0 417.5L549.7 411.9M554.7 436.2L553.7 449.6M530.6 360.7L515.8 350.0M477.8 362.6L491.7 370.9M523.5 374.2L528.5 382.7M528.5 382.7L513.1 400.9M538.6 410.2L546.9 419.9M569.4 423.9L556.9 407.1M570.4 453.4L553.6 456.4M557.5 396.3L534.4 398.8M486.3 346.0L488.5 363.9M534.1 415.1L546.8 407.1M519.2 361.6L504.0 384.8M519.5 432.6L529.8 434.9M561.3 425.7L569.3 399.5M486.3 346.0L511.6 342.2M513.1 400.9L508.0 398.4M523.5 374.2L543.9 387.9M489.3 356.6L479.6 349.4M536.1 404.8L528.5 419.0M507.5 375.1L522.5 383.1M567.6 436.6L546.9 419.9M500.7 398.3L508.0 398.4M512.4 392.4L503.9 417.8M499.0 358.4L477.8 362.6M521.8 400.2L515.6 371.5M561.6 401.0L565.4 387.8M515.0 356.8L515.6 371.5M554.4 362.5L547.0 361.5M533.4 459.2L543.0 457.0M533.4 459.2L524.9 450.0M551.2 426.6L538.6 410.2M527.1 398.0L549.3 385.2M582.5 414.6L559.3 411.8M553.4 390.9L551.7 406.7M558.8 462.3L565.5 453.3M553.6 456.4L547.3 439.0M566.8 406.1L546.9 419.9M491.8 404.9L499.9 377.5M548.3 453.7L548.6 460.0M501.7 409.1L516.9 388.6M561.3 425.7L545.6 429.9M529.7 404.3L534.1 376.3M511.6 342.2L507.3 366.7M551.7 406.7L552.1 420.9M467.4 369.1L477.8 362.6M543.0 457.0L568.1 442.3M555.8 371.1L554.4 362.5M495.0 390.2L488.5 363.9M511.7 387.5L524.6 389.2M535.2 381.4L538.3 391.6M567.6 436.6L553.2 443.5M515.8 350.0L520.8 370.2M479.5 356.5L467.0 359.6M490.6 381.5L488.5 363.9M489.4 397.1L508.0 398.4M537.5 435.6L528.5 419.0M583.5 433.7L570.4 453.4M510.7 361.9L519.2 361.6M470.7 377.2L489.4 397.1M511.3 352.4L515.3 345.5M529.7 404.3L542.1 378.8M534.8 367.8L548.9 393.9M523.5 405.0L507.8 380.8M504.5 355.3L507.9 336.6M517.5 382.4L534.1 376.3M581.9 446.4L561.3 425.7M489.3 356.6L507.5 375.1M517.5 382.4L501.2 392.0M470.7 377.2L473.8 348.1M489.4 397.1L481.2 398.8M503.9 417.8L515.3 425.4M522.2 426.3L546.9 419.9M565.5 453.3L553.7 449.6M519.9 408.2L528.5 382.7M553.9 402.0L543.9 387.9M495.0 365.1L507.5 375.1M546.9 419.9L553.2 443.5M581.9 446.4L561.4 466.6M543.0 457.0L570.4 453.4M577.3 417.8L554.7 436.2M503.9 417.8L528.7 429.8M491.7 370.9L484.6 355.1M548.3 366.7L538.5 356.2M536.1 404.8L542.1 378.8M479.6 349.4L484.3 376.6M555.8 371.1L548.9 393.9M553.9 402.0L527.1 398.0M547.0 361.5L538.5 356.2M532.4 387.4L534.8 367.8M543.2 393.9L552.1 420.9M536.1 404.8L562.4 394.8M533.4 459.2L539.9 462.5M487.9 388.6L495.0 365.1M514.0 406.5L507.5 393.5M519.9 408.2L523.5 405.0M504.2 402.8L511.7 387.5M528.7 392.6L557.5 396.3M539.2 383.8L530.8 371.9M546.8 407.1L521.8 400.2M487.1 351.4L474.4 369.5M555.8 371.1L535.2 381.4M534.1 376.3L543.2 393.9M485.3 371.3L512.2 382.4M468.0 352.0L486.3 346.0M485.3 403.2L481.2 398.8M498.6 404.9L504.0 384.8M523.5 457.3L546.8 448.3M507.5 375.1L519.2 361.6M551.2 426.6L524.2 435.8M499.0 358.4L483.2 360.6M522.5 383.1L515.2 365.6M566.8 406.1L576.3 402.3M551.7 406.7L549.7 411.9M554.7 436.2L539.5 448.9M543.0 457.0L558.8 462.3M534.4 398.8L511.7 387.5M508.0 398.4L518.5 376.6M557.5 396.3L552.1 420.9M583.0 426.8L570.8 417.4M487.9 388.6L495.0 365.1M568.6 431.8L577.3 417.8M518.5 376.6L509.3 356.7M512.2 382.4L519.9 408.2M514.0 406.5L522.6 394.1M524.7 360.2L524.6 354.3M571.4 449.0L553.6 463.8M553.9 402.0L562.4 394.8M527.1 398.0L512.2 382.4M559.3 444.8L542.7 425.1M491.4 339.8L515.3 345.5M530.6 360.7L525.2 342.7M489.3 356.6L515.3 345.5M484.6 355.1L499.9 377.5M579.1 431.1L568.1 442.3M555.8 371.1L547.0 361.5M534.4 398.8L523.5 405.0M521.8 400.2L504.2 402.8M507.3 366.7L484.3 376.6M504.5 355.3L477.8 362.6M517.5 382.4L515.6 371.5M551.2 426.6L574.4 437.8M512.2 382.4L529.7 404.3M520.9 452.8L533.1 453.1M498.5 413.3L515.3 425.4M583.5 433.7L570.4 453.4M511.6 342.2L499.0 358.4M537.5 435.6L542.7 425.1M547.0 361.5L524.7 360.2M545.6 373.6L546.5 398.2M543.0 457.0L565.5 453.3M521.8 400.2L514.3 412.2M546.5 398.2L519.9 408.2M554.4 362.5L560.7 381.8M561.6 401.0L566.8 406.1M503.9 417.8L515.1 445.1M543.2 352.3L551.4 358.6M527.5 367.3L522.6 394.1M567.9 458.2L568.1 442.3M508.1 406.7L519.5 432.6M545.6 429.9L562.8 417.2M545.6 429.9L534.8 440.7M517.6 403.3L543.2 393.9M490.6 381.5L489.4 397.1M491.4 339.8L482.6 365.7M521.0 417.5L542.7 425.1M515.3 345.5L530.6 360.7M559.3 444.8L561.4 466.6M499.9 344.3L493.5 359.2M497.6 384.7L515.6 371.5M499.0 358.4L483.2 360.6M519.9 408.2L517.5 382.4M535.2 423.2L551.2 426.6M484.6 355.1L467.0 359.6M519.2 361.6L499.9 377.5M520.8 370.2L515.3 345.5M538.5 356.2L531.5 352.8M491.7 370.9L512.2 382.4M467.4 369.1L487.1 351.4M538.6 410.2L544.4 434.8M577.5 454.5L574.0 432.4M519.5 432.6L535.2 423.2M548.3 453.7L544.4 434.8M580.2 408.0L570.8 417.4M479.3 380.2L470.7 377.2M534.4 398.8L518.5 376.6M519.2 361.6L507.2 388.8M534.1 376.3L507.5 375.1M548.3 366.7L538.3 391.6M520.8 446.3L544.4 434.8M484.6 355.1L502.2 349.6M531.5 352.8L516.8 340.9M495.0 365.1L493.5 359.2M508.0 398.4L512.4 392.4M536.1 404.8L511.7 387.5M527.1 398.0L523.4 378.7M562.8 417.2L576.3 402.3M529.7 404.3L523.5 405.0M488.4 411.8L495.0 390.2M520.9 452.8L544.4 434.8M520.8 370.2L530.8 371.9M527.5 367.3L540.1 365.3M505.4 344.2L489.3 356.6M539.2 383.8L530.8 371.9M491.8 404.9L481.2 398.8M555.9 429.7L575.7 444.7M467.0 359.6L483.2 360.6M508.0 398.4L523.5 374.2M554.5 414.6L562.8 417.2M531.4 446.5L546.8 448.3M519.9 408.2L529.8 434.9M554.4 362.5L536.5 361.0M538.3 391.6L555.8 371.1M533.1 453.1L529.8 434.9M568.6 431.8L554.7 436.2M479.5 356.5L473.8 348.1M553.7 449.6L533.4 459.2M543.7 444.0L567.6 436.6M562.0 434.2L582.5 414.6M558.8 462.3L571.4 449.0M524.7 360.2L507.9 336.6M539.9 462.5L534.8 440.7M543.2 352.3L530.6 360.7M552.1 420.9L566.8 406.1M490.6 381.5L517.5 382.4M542.1 378.8L517.2 394.2M539.2 383.8L548.9 393.9M507.3 366.7L486.3 346.0M481.3 341.9L505.4 344.2M513.1 400.9L504.2 402.8M548.3 366.7L538.3 391.6M562.8 417.2L561.6 401.0M534.8 367.8L547.0 361.5M527.6 348.4L548.3 366.7M567.4 393.4L551.7 406.7M516.9 388.6L504.2 402.8M484.3 376.6L487.9 388.6M504.5 361.0L515.2 365.6M538.6 410.2L565.4 412.2M525.2 342.7L530.6 360.7M520.8 370.2L527.1 398.0M515.6 371.5L536.5 361.0M527.1 398.0L521.8 400.2M487.1 351.4L485.3 371.3M546.5 398.2L536.1 404.8M479.3 380.2L491.7 370.9M488.5 363.9L489.3 356.6M580.0 440.6L570.2 464.9M508.1 348.4L520.8 370.2M517.5 382.4L530.8 371.9M549.3 385.2L530.8 371.9M555.8 371.1L528.7 376.6M533.1 453.1L520.8 446.3M543.7 444.0L548.6 460.0M528.6 424.4L551.7 406.7M477.8 362.6L468.0 352.0M537.5 435.6L529.8 434.9M543.2 352.3L523.5 374.2M559.2 389.2L554.4 362.5M537.5 435.6L528.7 429.8M487.9 388.6L512.2 382.4M501.2 392.0L507.5 393.5M539.9 462.5L533.4 459.2M524.7 360.2L527.6 348.4M542.1 378.8L554.9 385.6M488.4 411.8L494.6 396.7M570.4 453.4L568.1 442.3M554.5 414.6L561.6 401.0M489.4 397.1L507.2 388.8M479.1 373.5L490.6 381.5M527.1 398.0L528.5 382.7M537.5 435.6L519.5 432.6M527.5 367.3L509.3 356.7M490.6 381.5L488.5 363.9M567.4 393.4L555.8 371.1M554.4 362.5L527.5 367.3M534.8 367.8L555.8 371.1M552.1 420.9L568.1 442.3M522.5 383.1L509.3 356.7M553.2 443.5L565.5 453.3M576.3 402.3L580.2 408.0M495.0 365.1L515.8 350.0M534.4 398.8L562.4 394.8M565.1 462.9L548.3 453.7M528.5 419.0L549.7 411.9M542.1 378.8L534.1 376.3M530.8 371.9L551.4 358.6M573.3 412.0L575.5 426.7M507.8 380.8L530.8 371.9M560.9 455.2L533.1 453.1M515.8 350.0L508.1 348.4M540.1 365.3L515.0 356.8M491.8 404.9L481.2 398.8M568.6 431.8L546.9 419.9M554.7 436.2L553.6 463.8M570.4 453.4L561.4 466.6M534.4 398.8L540.7 415.7M545.6 429.9L539.5 448.9M479.1 373.5L467.4 369.1M559.3 444.8L548.6 460.0M504.0 384.8L515.6 371.5M521.0 417.5L514.0 406.5M508.1 348.4L486.3 346.0M489.5 418.9L515.3 425.4M522.5 383.1L520.8 370.2M513.4 337.3L494.7 344.8M546.5 398.2L554.5 414.6M520.8 370.2L507.5 393.5M507.5 393.5L504.2 402.8M485.3 371.3L489.3 356.6M553.6 463.8L533.4 459.2M554.7 436.2L547.3 439.0M528.5 382.7L548.3 366.7M498.6 404.9L514.3 412.2M487.1 351.4L475.0 343.0M561.3 425.7L542.7 425.1M554.7 436.2L546.8 448.3M512.4 392.4L507.5 375.1M582.8 420.0L575.5 426.7M489.3 356.6L499.9 377.5M533.4 459.2L524.2 435.8M488.4 411.8L507.2 388.8M546.9 419.9L553.4 390.9M543.9 387.9L559.3 411.8M467.4 369.1L484.3 376.6M537.6 428.7L559.3 411.8M553.6 456.4L578.7 460.0M520.8 370.2L500.8 366.3M519.2 361.6L531.5 352.8M556.9 407.1L540.7 415.7M524.7 360.2L515.6 371.5M545.6 429.9L525.7 442.7M528.5 382.7L553.4 390.9M552.1 420.9L573.3 412.0M529.8 434.9L528.2 453.9M551.4 358.6L541.5 370.8M562.0 434.2L579.1 431.1M521.0 417.5L540.7 415.7M495.3 350.5L483.2 360.6M536.1 404.8L515.3 425.4M517.2 394.2L527.5 367.3M494.7 344.8L493.5 359.2M559.3 411.8L554.7 436.2M513.1 400.9L495.7 417.8M578.5 422.9L583.5 433.7M559.0 450.4L553.6 463.8M507.5 393.5L487.9 388.6M565.1 462.9L571.4 449.0M516.8 340.9L527.6 348.4M508.1 406.7L512.2 382.4M575.5 426.7L562.4 439.8M543.7 444.0L568.1 442.3M523.5 405.0L507.5 393.5M515.0 356.8L508.1 348.4M521.8 400.2L523.5 405.0M583.0 426.8L562.0 434.2M522.5 383.1L510.7 361.9M481.3 341.9L479.5 356.5M548.3 453.7L553.6 456.4M499.9 377.5L507.8 380.8M553.4 390.9L553.9 402.0M582.5 414.6L579.1 431.1M512.2 382.4L501.2 392.0M515.6 371.5L512.2 382.4M578.5 422.9L574.0 432.4M538.5 356.2L530.8 371.9M546.8 407.1L556.9 407.1M529.7 404.3L543.9 387.9M498.6 404.9L498.5 413.3M541.9 439.1L528.7 429.8M562.0 434.2L552.1 420.9M542.7 425.1L553.7 449.6M489.3 356.6L485.3 371.3M553.6 463.8L570.4 453.4M483.2 360.6L504.5 355.3M508.1 406.7L522.5 383.1M508.0 398.4L489.4 397.1M569.4 423.9L578.1 449.1M522.6 394.1L518.5 376.6M549.7 411.9L529.7 404.3M554.5 414.6L543.2 393.9M538.6 410.2L528.5 419.0M548.3 453.7L565.5 453.3M494.6 396.7L498.6 404.9M551.4 358.6L534.8 367.8M474.4 369.5L484.6 355.1M578.5 422.9L565.4 412.2M507.2 388.8L507.8 380.8M485.3 371.3L479.6 349.4M488.5 363.9L497.6 384.7M562.4 439.8L559.3 444.8M569.4 423.9L563.9 449.0M519.2 361.6L505.4 344.2M520.9 452.8L546.8 448.3M545.6 373.6L553.9 402.0M567.6 436.6L548.3 453.7M494.6 396.7L495.0 390.2M490.6 381.5L491.7 370.9M575.7 444.7L573.4 458.1M536.5 361.0L527.6 348.4M542.7 425.1L522.2 426.3M562.4 439.8L559.3 444.8M495.0 365.1L484.3 376.6M494.6 396.7L498.5 413.3M553.6 456.4L545.1 468.1M513.1 400.9L534.4 398.8M511.7 387.5L522.6 394.1M489.5 418.9L501.2 392.0M498.5 413.3L507.2 388.8M554.5 414.6L582.8 420.0M555.8 371.1L552.1 376.7M581.9 446.4L583.0 426.8M488.4 411.8L514.0 406.5M473.8 348.1L499.8 339.1M500.8 366.3L524.6 354.3M507.5 393.5L517.5 382.4M507.5 375.1L524.6 389.2M489.3 356.6L502.2 349.6M568.6 431.8L575.7 444.7M546.5 398.2L553.9 402.0M525.2 342.7L534.8 367.8M580.0 440.6L568.6 431.8M554.7 436.2L546.8 448.3M539.9 462.5L539.5 448.9M497.6 384.7L489.3 356.6M553.9 402.0L572.2 406.1M495.3 350.5L479.6 349.4M498.5 413.3L507.2 388.8M515.3 425.4L523.5 405.0M568.6 431.8L577.3 417.8M543.7 444.0L551.2 426.6M582.8 420.0L562.4 439.8M517.2 394.2L508.0 398.4M470.7 377.2L495.0 365.1M561.6 401.0L575.5 426.7M486.3 346.0L481.3 341.9M523.5 374.2L515.8 350.0M495.0 365.1L497.6 384.7M547.3 439.0L525.7 442.7M547.0 361.5L543.9 387.9M571.4 449.0L548.6 460.0M554.7 436.2L559.3 444.8M536.5 361.0L515.8 350.0M524.6 389.2L538.6 410.2M512.4 392.4L491.8 404.9M494.6 396.7L519.9 408.2M509.3 356.7L504.5 361.0M572.2 406.1L568.6 431.8M549.7 411.9L572.2 406.1M524.6 389.2L514.3 412.2M521.0 417.5L546.9 419.9M507.5 393.5L524.6 389.2M551.2 426.6L541.9 439.1M574.4 437.8L555.9 429.7M483.9 392.4L501.7 409.1M479.6 349.4L495.3 350.5M530.8 371.9L535.2 381.4M522.5 383.1L534.1 376.3M547.0 361.5L555.8 371.1M544.4 434.8L541.9 439.1M495.3 350.5L495.0 365.1M528.7 392.6L522.5 383.1M500.7 398.3L498.6 404.9M507.8 380.8L495.0 390.2M536.1 404.8L522.6 394.1M549.3 385.2L554.5 414.6M494.5 410.3L512.4 392.4M528.7 392.6L532.4 387.4M507.3 366.7L536.5 361.0M482.6 365.7L493.5 359.2M547.3 439.0L575.7 444.7M543.9 387.9L518.5 376.6M562.4 394.8L566.8 406.1M567.4 393.4L565.4 412.2M519.9 408.2L528.7 392.6M502.2 349.6L504.5 355.3M527.2 412.9L545.6 429.9M525.7 442.7L533.4 459.2M531.5 352.8L502.2 349.6M524.9 450.0L546.8 448.3M554.5 414.6L556.9 407.1" fill="none" stroke="#444" stroke-opacity="0.16" stroke-width="0.5"/>
<path d="M501.6 494.0L520.2 480.9M525.8 492.0L508.7 475.2M545.1 468.1L558.0 474.4M484.2 508.2L483.7 499.2M535.6 477.7L517.8 472.5M508.8 488.9L495.1 487.2M487.6 483.1L484.2 508.2M552.7 483.9L539.7 505.4M545.4 492.7L528.1 478.8M517.8 472.5L508.7 475.2M516.6 501.3L484.2 508.2M487.6 483.1L483.2 490.7M535.5 495.4L504.9 481.3M495.1 487.2L508.0 501.1M508.7 475.2L516.6 501.3M504.9 481.3L528.6 498.8M542.4 477.3L545.1 468.1M516.6 501.3L497.3 478.8M495.1 487.2L474.4 489.3M539.7 505.4L528.1 478.8M516.5 491.2L545.4 492.7M520.2 480.9L530.4 486.1M535.6 477.7L545.1 468.1M475.1 503.0L493.0 497.9M528.6 498.8L508.7 475.2M525.5 472.2L539.3 484.9M545.1 468.1L535.6 477.7M535.6 477.7L508.8 488.9M516.6 501.3L501.8 504.4M508.7 475.2L497.3 478.8M493.0 497.9L501.6 494.0M495.1 487.2L474.4 489.3M501.6 494.0L501.8 504.4M471.5 495.8L497.3 478.8M525.8 492.0L539.7 505.4M560.9 481.5L552.7 483.9M487.6 483.1L471.5 495.8M471.5 495.8L474.4 489.3M530.4 486.1L508.8 488.9M535.6 477.7L560.9 481.5M536.8 471.2L560.9 481.5M504.9 481.3L530.4 486.1M516.5 491.2L508.7 475.2M536.8 471.2L539.3 484.9M494.4 508.7L483.7 499.2M545.1 468.1L558.0 474.4M545.4 492.7L528.1 478.8M474.4 489.3L471.5 495.8M471.5 495.8L493.0 497.9M539.3 484.9L528.1 478.8M516.5 491.2L542.4 477.3M504.9 481.3L501.6 494.0M508.8 488.9L508.7 475.2M508.8 488.9L520.2 480.9M516.6 501.3L493.0 497.9M528.1 478.8L504.9 481.3M520.2 480.9L504.9 481.3M535.6 477.7L530.4 486.1M501.8 504.4L508.8 488.9M508.8 488.9L504.9 481.3M487.6 483.1L501.8 504.4M528.1 478.8L497.3 478.8M504.9 481.3L528.6 498.8M516.5 491.2L535.5 495.4M516.5 491.2L520.2 480.9M475.1 503.0L494.4 508.7M525.5 472.2L508.0 501.1M501.6 494.0L517.8 472.5M494.4 508.7L501.6 494.0M504.9 481.3L474.4 489.3M497.3 478.8L494.4 508.7M516.5 491.2L530.4 486.1M549.8 475.1L517.8 472.5M487.6 483.1L483.7 499.2M501.8 504.4L508.8 488.9M542.4 477.3L528.6 498.8M528.1 478.8L525.5 472.2M487.6 483.1L520.2 480.9M474.4 489.3L487.6 483.1M487.6 483.1L516.5 491.2M539.3 484.9L542.4 477.3M471.5 495.8L501.8 504.4M545.4 492.7L528.1 478.8M483.2 490.7L508.7 475.2M560.9 481.5L539.3 484.9M494.4 508.7L501.8 504.4M517.8 472.5L516.6 501.3M539.3 484.9L516.6 501.3M539.3 484.9L516.5 491.2M487.6 483.1L493.0 497.9M542.4 477.3L560.9 481.5M483.7 499.2L504.9 481.3M508.0 501.1L487.6 483.1M528.6 498.8L552.7 483.9M516.6 501.3L487.6 483.1M474.4 489.3L487.6 483.1M520.2 480.9L497.3 478.8M495.1 487.2L525.5 472.2M508.0 501.1L530.4 486.1M536.8 471.2L525.5 472.2M528.1 478.8L520.2 480.9M508.8 488.9L497.3 478.8M520.2 480.9L501.8 504.4M558.0 474.4L567.3 475.9M530.4 486.1L539.7 505.4M535.6 477.7L567.3 475.9M483.2 490.7L508.7 475.2M535.6 477.7L545.4 492.7M520.2 480.9L508.7 475.2M483.7 499.2L493.0 497.9M495.1 487.2L471.5 495.8M520.2 480.9L508.0 501.1M545.1 468.1L535.6 477.7M483.2 490.7L501.8 504.4M558.0 474.4L552.7 483.9M530.4 486.1L508.8 488.9M545.4 492.7L516.6 501.3M549.8 475.1L539.7 505.4M528.1 478.8L536.8 471.2M475.1 503.0L494.4 508.7M549.8 475.1L525.8 492.0M558.0 474.4L535.5 495.4M528.6 498.8L530.4 486.1M495.1 487.2L497.3 478.8M552.7 483.9L539.3 484.9M474.4 489.3L495.1 487.2M508.0 501.1L508.7 475.2M552.7 483.9L525.5 472.2M536.8 471.2L558.0 474.4M475.8 508.7L483.2 490.7M471.5 495.8L501.8 504.4M560.9 481.5L539.3 484.9M516.6 501.3L525.8 492.0M504.9 481.3L520.2 480.9M494.4 508.7L471.5 495.8M487.6 483.1L483.2 490.7M484.2 508.2L483.7 499.2M501.8 504.4L516.5 491.2M535.5 495.4L508.7 475.2M501.8 504.4L504.9 481.3M475.8 508.7L483.7 499.2M558.0 474.4L560.9 481.5M545.4 492.7L535.6 477.7M487.6 483.1L497.3 478.8M517.8 472.5L525.8 492.0M484.2 508.2L493.0 497.9M508.7 475.2L508.8 488.9M497.3 478.8L525.8 492.0M516.6 501.3L535.5 495.4M552.7 483.9L549.8 475.1M483.7 499.2L516.5 491.2M560.9 481.5L539.3 484.9M536.8 471.2L508.7 475.2M536.8 471.2L516.5 491.2M501.8 504.4L520.2 480.9M493.0 497.9L471.5 495.8M539.7 505.4L520.2 480.9M493.0 497.9L494.4 508.7M528.6 498.8L508.0 501.1M528.6 498.8L542.4 477.3M475.8 508.7L474.4 489.3M520.2 480.9L535.6 477.7M495.1 487.2L508.8 488.9M517.8 472.5L528.6 498.8M520.2 480.9L528.6 498.8M516.5 491.2L501.6 494.0M525.5 472.2L552.7 483.9M528.6 498.8L536.8 471.2M508.8 488.9L484.2 508.2M552.7 483.9L558.0 474.4M535.5 495.4L552.7 483.9M474.4 489.3L493.0 497.9M525.5 472.2L504.9 481.3M542.4 477.3L530.4 486.1M508.7 475.2L516.6 501.3M552.7 483.9L539.7 505.4M545.4 492.7L539.7 505.4M552.7 483.9L542.4 477.3M536.8 471.2L520.2 480.9M501.8 504.4L497.3 478.8M504.9 481.3L484.2 508.2M475.1 503.0L508.0 501.1M530.4 486.1L536.8 471.2M508.0 501.1L516.6 501.3M508.7 475.2L501.8 504.4M528.1 478.8L560.9 481.5M530.4 486.1L552.7 483.9M567.3 475.9L536.8 471.2M525.8 492.0L535.5 495.4M508.8 488.9L539.3 484.9M508.7 475.2L539.3 484.9M542.4 477.3L528.1 478.8M525.8 492.0L539.3 484.9M493.0 497.9L508.7 475.2M487.6 483.1L495.1 487.2M497.3 478.8L504.9 481.3M483.2 490.7L483.7 499.2M501.6 494.0L475.8 508.7M528.6 498.8L539.3 484.9M528.6 498.8L504.9 481.3" fill="none" stroke="#6a6a6a" stroke-opacity="0.18" stroke-width="0.5"/>
<path d="M539.7 505.4L545.2 545.4M539.7 505.4L545.2 545.4" fill="none" stroke="#bbb" stroke-opacity="0.8" stroke-width="0.5"/>
<path d="M529.5 545.4L545.2 545.4" stroke="#ccc" stroke-width="0.5"/>
<path d="M180.0 377.4L200.9 469.7M163.7 391.7L185.7 427.2M163.7 391.7L184.0 470.9M173.2 391.4L207.9 420.6M187.2 397.2L170.2 453.4M173.2 391.4L197.3 429.4M180.0 377.4L197.9 410.9M178.4 385.9L203.4 410.0M173.2 391.4L178.8 449.5M163.7 391.7L197.9 410.9M180.0 377.4L214.4 428.4M163.7 391.7L207.5 442.4M185.9 382.6L190.5 476.0M163.7 391.7L184.0 470.9M170.0 383.4L211.8 455.5M185.9 382.6L172.9 418.3M187.2 397.2L174.2 448.3M175.1 375.2L168.8 433.6M164.4 373.8L198.0 475.4M170.0 383.4L187.1 432.7M170.0 383.4L207.1 472.1M187.2 397.2L194.8 470.5M187.2 397.2L174.9 423.6M175.1 375.2L193.2 404.3M178.4 385.9L192.6 445.6M185.9 382.6L202.9 449.0M178.4 385.9L183.5 439.2M185.9 382.6L190.6 408.4M170.0 383.4L214.5 443.9M173.2 391.4L206.3 464.5M178.4 385.9L184.1 458.7M164.4 373.8L202.9 449.0M164.4 373.8L210.1 434.7M170.0 383.4L192.6 445.6M185.9 382.6L179.0 408.1M175.1 375.2L172.0 436.8M185.9 382.6L170.2 453.4M178.4 385.9L178.3 460.8M180.0 377.4L186.3 419.3M180.0 377.4L178.3 460.8" fill="none" stroke="#cfcfcf" stroke-opacity="0.5" stroke-width="0.5"/>
<circle cx="166.0" cy="417.0" r="4.2" fill="#4b80c3" stroke="#aec5e4" stroke-width="0.7"/>
<circle cx="516.6" cy="501.3" r="3.4" fill="#f6dfca" stroke="#efd2b6" stroke-width="0.7"/>
<circle cx="519.2" cy="361.6" r="3.6" fill="#d2cde8" stroke="#eae8f4" stroke-width="0.7"/>
<circle cx="278.8" cy="461.1" r="3.5" fill="#e3efdb" stroke="#c9dcc0" stroke-width="0.7"/>
<circle cx="254.2" cy="532.5" r="2.9" fill="#3f8c3f" stroke="#a8cba8" stroke-width="0.7"/>
<circle cx="546.8" cy="448.3" r="3.6" fill="#d3572b" stroke="#ebb39f" stroke-width="0.7"/>
<circle cx="319.8" cy="496.6" r="4.1" fill="#80c46e" stroke="#c5e4bd" stroke-width="0.7"/>
<circle cx="170.2" cy="453.4" r="3.1" fill="#4b80c3" stroke="#aec5e4" stroke-width="0.7"/>
<circle cx="512.4" cy="392.4" r="3.2" fill="#d2cde8" stroke="#eae8f4" stroke-width="0.7"/>
<circle cx="579.1" cy="431.1" r="3.1" fill="#d3572b" stroke="#ebb39f" stroke-width="0.7"/>
<circle cx="553.6" cy="463.8" r="3.7" fill="#d3572b" stroke="#ebb39f" stroke-width="0.7"/>
<circle cx="520.8" cy="370.2" r="3.4" fill="#d2cde8" stroke="#eae8f4" stroke-width="0.7"/>
<circle cx="519.9" cy="408.2" r="3.2" fill="#5a4aa5" stroke="#b4add6" stroke-width="0.7"/>
<circle cx="460.0" cy="472.9" r="5.0" fill="#f4f4f8" stroke="#b9b9c4" stroke-width="0.7"/>
<circle cx="543.9" cy="387.9" r="4.0" fill="#5a4aa5" stroke="#b4add6" stroke-width="0.7"/>
<circle cx="181.7" cy="454.0" r="3.2" fill="#a9c9e7" stroke="#d8e6f4" stroke-width="0.7"/>
<circle cx="209.5" cy="450.8" r="3.8" fill="#a9c9e7" stroke="#d8e6f4" stroke-width="0.7"/>
<circle cx="296.2" cy="503.2" r="3.2" fill="#80c46e" stroke="#c5e4bd" stroke-width="0.7"/>
<circle cx="440.0" cy="499.4" r="5.0" fill="#f4f4f8" stroke="#b9b9c4" stroke-width="0.7"/>
<circle cx="538.6" cy="410.2" r="3.7" fill="#eca866" stroke="#f6d7ba" stroke-width="0.7"/>
<circle cx="255.6" cy="510.7" r="3.0" fill="#3f8c3f" stroke="#a8cba8" stroke-width="0.7"/>
<circle cx="470.7" cy="377.2" r="4.2" fill="#9f99cf" stroke="#d3d1e9" stroke-width="0.7"/>
<circle cx="303.6" cy="511.8" r="5.0" fill="#e2eaf6" stroke="#c3cadb" stroke-width="0.7"/>
<circle cx="474.4" cy="369.5" r="3.2" fill="#9f99cf" stroke="#d3d1e9" stroke-width="0.7"/>
<circle cx="204.2" cy="428.0" r="3.3" fill="#4b80c3" stroke="#aec5e4" stroke-width="0.7"/>
<circle cx="234.8" cy="504.7" r="3.5" fill="#3f8c3f" stroke="#a8cba8" stroke-width="0.7"/>
<circle cx="177.7" cy="413.3" r="3.4" fill="#4b80c3" stroke="#aec5e4" stroke-width="0.7"/>
<circle cx="193.2" cy="404.3" r="3.1" fill="#4b80c3" stroke="#aec5e4" stroke-width="0.7"/>
<circle cx="289.8" cy="513.9" r="3.8" fill="#80c46e" stroke="#c5e4bd" stroke-width="0.7"/>
<circle cx="223.1" cy="429.5" r="4.2" fill="#a9c9e7" stroke="#d8e6f4" stroke-width="0.7"/>
<circle cx="185.9" cy="382.6" r="2.7" fill="#f1f4f9" stroke="#dde3ec" stroke-width="0.7"/>
<circle cx="242.7" cy="461.9" r="3.8" fill="#e3efdb" stroke="#c9dcc0" stroke-width="0.7"/>
<circle cx="528.7" cy="392.6" r="3.3" fill="#5a4aa5" stroke="#b4add6" stroke-width="0.7"/>
<circle cx="562.4" cy="394.8" r="3.3" fill="#eca866" stroke="#f6d7ba" stroke-width="0.7"/>
<circle cx="442.3" cy="532.0" r="2.9" fill="#f4f4f8" stroke="#b9b9c4" stroke-width="0.7"/>
<circle cx="235.7" cy="454.5" r="3.3" fill="#b6dba6" stroke="#deeed6" stroke-width="0.7"/>
<circle cx="514.0" cy="406.5" r="3.2" fill="#d2cde8" stroke="#eae8f4" stroke-width="0.7"/>
<circle cx="575.7" cy="444.7" r="3.6" fill="#d3572b" stroke="#ebb39f" stroke-width="0.7"/>
<circle cx="258.3" cy="490.4" r="3.5" fill="#80c46e" stroke="#c5e4bd" stroke-width="0.7"/>
<circle cx="392.0" cy="502.9" r="5.0" fill="#80c46e" stroke="#c5e4bd" stroke-width="0.7"/>
<circle cx="302.9" cy="524.3" r="4.4" fill="#80c46e" stroke="#c5e4bd" stroke-width="0.7"/>
<circle cx="295.5" cy="516.1" r="3.0" fill="#80c46e" stroke="#c5e4bd" stroke-width="0.7"/>
<circle cx="434.1" cy="551.9" r="3.3" fill="#f4f4f8" stroke="#b9b9c4" stroke-width="0.7"/>
<circle cx="271.2" cy="518.4" r="4.0" fill="#80c46e" stroke="#c5e4bd" stroke-width="0.7"/>
<circle cx="555.9" cy="429.7" r="4.2" fill="#eca866" stroke="#f6d7ba" stroke-width="0.7"/>
<circle cx="549.5" cy="433.5" r="3.2" fill="#eca866" stroke="#f6d7ba" stroke-width="0.7"/>
<circle cx="286.0" cy="467.1" r="4.3" fill="#e3efdb" stroke="#c9dcc0" stroke-width="0.7"/>
<circle cx="517.6" cy="403.3" r="3.4" fill="#d2cde8" stroke="#eae8f4" stroke-width="0.7"/>
<circle cx="521.0" cy="417.5" r="3.2" fill="#eca866" stroke="#f6d7ba" stroke-width="0.7"/>
<circle cx="467.4" cy="369.1" r="3.7" fill="#9f99cf" stroke="#d3d1e9" stroke-width="0.7"/>
<circle cx="217.8" cy="464.1" r="3.2" fill="#a9c9e7" stroke="#d8e6f4" stroke-width="0.7"/>
<circle cx="215.0" cy="408.6" r="3.7" fill="#4b80c3" stroke="#aec5e4" stroke-width="0.7"/>
<circle cx="502.2" cy="349.6" r="4.0" fill="#9f99cf" stroke="#d3d1e9" stroke-width="0.7"/>
<circle cx="243.4" cy="518.8" r="2.9" fill="#3f8c3f" stroke="#a8cba8" stroke-width="0.7"/>
<circle cx="495.0" cy="365.1" r="4.4" fill="#9f99cf" stroke="#d3d1e9" stroke-width="0.7"/>
<circle cx="265.0" cy="507.4" r="3.4" fill="#3f8c3f" stroke="#a8cba8" stroke-width="0.7"/>
<circle cx="551.4" cy="358.6" r="3.3" fill="#d2cde8" stroke="#eae8f4" stroke-width="0.7"/>
<circle cx="254.7" cy="461.9" r="3.4" fill="#e3efdb" stroke="#c9dcc0" stroke-width="0.7"/>
<circle cx="441.5" cy="563.6" r="2.6" fill="#f4f4f8" stroke="#b9b9c4" stroke-width="0.7"/>
<circle cx="219.9" cy="435.7" r="4.0" fill="#a9c9e7" stroke="#d8e6f4" stroke-width="0.7"/>
<circle cx="537.6" cy="428.7" r="4.1" fill="#eca866" stroke="#f6d7ba" stroke-width="0.7"/>
<circle cx="417.9" cy="547.7" r="2.6" fill="#f4f4f8" stroke="#b9b9c4" stroke-width="0.7"/>
<circle cx="229.4" cy="526.7" r="3.6" fill="#3f8c3f" stroke="#a8cba8" stroke-width="0.7"/>
<circle cx="270.1" cy="489.7" r="3.5" fill="#80c46e" stroke="#c5e4bd" stroke-width="0.7"/>
<circle cx="565.5" cy="453.3" r="3.3" fill="#d3572b" stroke="#ebb39f" stroke-width="0.7"/>
<circle cx="445.8" cy="489.3" r="5.0" fill="#f4f4f8" stroke="#b9b9c4" stroke-width="0.7"/>
<circle cx="542.4" cy="477.3" r="3.5" fill="#f6dfca" stroke="#efd2b6" stroke-width="0.7"/>
<circle cx="334.0" cy="514.0" r="4.0" fill="#80c46e" stroke="#c5e4bd" stroke-width="0.7"/>
<circle cx="485.3" cy="403.2" r="4.5" fill="#5a4aa5" stroke="#b4add6" stroke-width="0.7"/>
<circle cx="443.4" cy="550.1" r="3.2" fill="#f4f4f8" stroke="#b9b9c4" stroke-width="0.7"/>
<circle cx="278.6" cy="476.6" r="3.0" fill="#3f8c3f" stroke="#a8cba8" stroke-width="0.7"/>
<circle cx="232.2" cy="471.2" r="4.0" fill="#e3efdb" stroke="#c9dcc0" stroke-width="0.7"/>
<circle cx="214.4" cy="428.4" r="4.0" fill="#4b80c3" stroke="#aec5e4" stroke-width="0.7"/>
<circle cx="263.7" cy="516.9" r="3.7" fill="#3f8c3f" stroke="#a8cba8" stroke-width="0.7"/>
<circle cx="172.0" cy="436.8" r="3.0" fill="#4b80c3" stroke="#aec5e4" stroke-width="0.7"/>
<circle cx="553.2" cy="443.5" r="3.1" fill="#d3572b" stroke="#ebb39f" stroke-width="0.7"/>
<circle cx="210.2" cy="514.7" r="3.1" fill="#3f8c3f" stroke="#a8cba8" stroke-width="0.7"/>
<circle cx="549.8" cy="475.1" r="4.2" fill="#f6dfca" stroke="#efd2b6" stroke-width="0.7"/>
<circle cx="537.5" cy="435.6" r="3.8" fill="#eca866" stroke="#f6d7ba" stroke-width="0.7"/>
<circle cx="205.9" cy="499.0" r="3.1" fill="#3f8c3f" stroke="#a8cba8" stroke-width="0.7"/>
<circle cx="197.9" cy="410.9" r="3.2" fill="#4b80c3" stroke="#aec5e4" stroke-width="0.7"/>
<circle cx="498.5" cy="413.3" r="3.8" fill="#5a4aa5" stroke="#b4add6" stroke-width="0.7"/>
<circle cx="543.2" cy="393.9" r="3.0" fill="#eca866" stroke="#f6d7ba" stroke-width="0.7"/>
<circle cx="548.6" cy="460.0" r="4.5" fill="#e2eaf6" stroke="#c3cadb" stroke-width="0.7"/>
<circle cx="185.9" cy="447.8" r="3.7" fill="#a9c9e7" stroke="#d8e6f4" stroke-width="0.7"/>
<circle cx="246.3" cy="535.3" r="3.0" fill="#3f8c3f" stroke="#a8cba8" stroke-width="0.7"/>
<circle cx="556.9" cy="407.1" r="3.2" fill="#eca866" stroke="#f6d7ba" stroke-width="0.7"/>
<circle cx="549.7" cy="411.9" r="3.9" fill="#eca866" stroke="#f6d7ba" stroke-width="0.7"/>
<circle cx="559.3" cy="444.8" r="3.7" fill="#d3572b" stroke="#ebb39f" stroke-width="0.7"/>
<circle cx="503.9" cy="417.8" r="3.4" fill="#5a4aa5" stroke="#b4add6" stroke-width="0.7"/>
<circle cx="475.1" cy="503.0" r="5.0" fill="#f6dfca" stroke="#efd2b6" stroke-width="0.7"/>
<circle cx="520.2" cy="480.9" r="4.7" fill="#f6dfca" stroke="#efd2b6" stroke-width="0.7"/>
<circle cx="229.3" cy="443.2" r="3.1" fill="#a9c9e7" stroke="#d8e6f4" stroke-width="0.7"/>
<circle cx="268.0" cy="494.7" r="3.9" fill="#80c46e" stroke="#c5e4bd" stroke-width="0.7"/>
<circle cx="301.9" cy="505.0" r="3.0" fill="#80c46e" stroke="#c5e4bd" stroke-width="0.7"/>
<circle cx="415.0" cy="503.7" r="4.5" fill="#80c46e" stroke="#c5e4bd" stroke-width="0.7"/>
<circle cx="329.4" cy="505.0" r="4.0" fill="#80c46e" stroke="#c5e4bd" stroke-width="0.7"/>
<circle cx="558.8" cy="462.3" r="3.1" fill="#d3572b" stroke="#ebb39f" stroke-width="0.7"/>
<circle cx="566.8" cy="406.1" r="3.2" fill="#eca866" stroke="#f6d7ba" stroke-width="0.7"/>
<circle cx="477.8" cy="362.6" r="3.9" fill="#9f99cf" stroke="#d3d1e9" stroke-width="0.7"/>
<circle cx="222.7" cy="453.7" r="3.9" fill="#a9c9e7" stroke="#d8e6f4" stroke-width="0.7"/>
<circle cx="202.3" cy="421.5" r="3.0" fill="#4b80c3" stroke="#aec5e4" stroke-width="0.7"/>
<circle cx="237.2" cy="459.1" r="3.1" fill="#b6dba6" stroke="#deeed6" stroke-width="0.7"/>
<circle cx="241.4" cy="452.0" r="4.5" fill="#e3efdb" stroke="#c9dcc0" stroke-width="0.7"/>
<circle cx="199.1" cy="501.8" r="3.5" fill="#3f8c3f" stroke="#a8cba8" stroke-width="0.7"/>
<circle cx="257.0" cy="503.2" r="2.9" fill="#3f8c3f" stroke="#a8cba8" stroke-width="0.7"/>
<circle cx="215.5" cy="505.7" r="3.6" fill="#3f8c3f" stroke="#a8cba8" stroke-width="0.7"/>
<circle cx="563.9" cy="449.0" r="3.0" fill="#d3572b" stroke="#ebb39f" stroke-width="0.7"/>
<circle cx="520.9" cy="452.8" r="3.2" fill="#d3572b" stroke="#ebb39f" stroke-width="0.7"/>
<circle cx="540.1" cy="365.3" r="3.7" fill="#d2cde8" stroke="#eae8f4" stroke-width="0.7"/>
<circle cx="280.3" cy="512.1" r="3.4" fill="#80c46e" stroke="#c5e4bd" stroke-width="0.7"/>
<circle cx="289.0" cy="491.2" r="4.0" fill="#80c46e" stroke="#c5e4bd" stroke-width="0.7"/>
<circle cx="582.5" cy="414.6" r="3.5" fill="#d3572b" stroke="#ebb39f" stroke-width="0.7"/>
<circle cx="573.4" cy="458.1" r="3.7" fill="#d3572b" stroke="#ebb39f" stroke-width="0.7"/>
<circle cx="171.1" cy="442.8" r="3.9" fill="#4b80c3" stroke="#aec5e4" stroke-width="0.7"/>
<circle cx="422.2" cy="564.8" r="2.8" fill="#f4f4f8" stroke="#b9b9c4" stroke-width="0.7"/>
<circle cx="239.8" cy="390.0" r="4.3" fill="#4b80c3" stroke="#aec5e4" stroke-width="0.7"/>
<circle cx="265.1" cy="501.6" r="3.0" fill="#3f8c3f" stroke="#a8cba8" stroke-width="0.7"/>
<circle cx="479.1" cy="373.5" r="4.2" fill="#9f99cf" stroke="#d3d1e9" stroke-width="0.7"/>
<circle cx="298.0" cy="495.5" r="4.0" fill="#80c46e" stroke="#c5e4bd" stroke-width="0.7"/>
<circle cx="483.9" cy="392.4" r="3.1" fill="#5a4aa5" stroke="#b4add6" stroke-width="0.7"/>
<circle cx="208.3" cy="477.3" r="2.9" fill="#3f8c3f" stroke="#a8cba8" stroke-width="0.7"/>
<circle cx="190.5" cy="476.0" r="3.1" fill="#a9c9e7" stroke="#d8e6f4" stroke-width="0.7"/>
<circle cx="174.1" cy="430.5" r="4.0" fill="#4b80c3" stroke="#aec5e4" stroke-width="0.7"/>
<circle cx="494.6" cy="396.7" r="3.4" fill="#5a4aa5" stroke="#b4add6" stroke-width="0.7"/>
<circle cx="481.3" cy="341.9" r="4.3" fill="#9f99cf" stroke="#d3d1e9" stroke-width="0.7"/>
<circle cx="443.6" cy="511.5" r="4.2" fill="#f4f4f8" stroke="#b9b9c4" stroke-width="0.7"/>
<circle cx="517.8" cy="472.5" r="3.8" fill="#f6dfca" stroke="#efd2b6" stroke-width="0.7"/>
<circle cx="247.0" cy="481.5" r="2.9" fill="#3f8c3f" stroke="#a8cba8" stroke-width="0.7"/>
<circle cx="253.7" cy="467.1" r="3.2" fill="#3f8c3f" stroke="#a8cba8" stroke-width="0.7"/>
<circle cx="231.3" cy="520.2" r="3.7" fill="#3f8c3f" stroke="#a8cba8" stroke-width="0.7"/>
<circle cx="557.5" cy="396.3" r="3.3" fill="#eca866" stroke="#f6d7ba" stroke-width="0.7"/>
<circle cx="220.2" cy="478.8" r="4.2" fill="#e3efdb" stroke="#c9dcc0" stroke-width="0.7"/>
<circle cx="187.9" cy="413.2" r="3.4" fill="#4b80c3" stroke="#aec5e4" stroke-width="0.7"/>
<circle cx="551.7" cy="406.7" r="3.0" fill="#eca866" stroke="#f6d7ba" stroke-width="0.7"/>
<circle cx="525.7" cy="442.7" r="3.3" fill="#d3572b" stroke="#ebb39f" stroke-width="0.7"/>
<circle cx="553.6" cy="456.4" r="3.8" fill="#d3572b" stroke="#ebb39f" stroke-width="0.7"/>
<circle cx="578.1" cy="449.1" r="3.0" fill="#d3572b" stroke="#ebb39f" stroke-width="0.7"/>
<circle cx="268.5" cy="476.8" r="4.7" fill="#e3efdb" stroke="#c9dcc0" stroke-width="0.7"/>
<circle cx="183.5" cy="439.2" r="3.2" fill="#a9c9e7" stroke="#d8e6f4" stroke-width="0.7"/>
<circle cx="220.5" cy="408.7" r="3.3" fill="#4b80c3" stroke="#aec5e4" stroke-width="0.7"/>
<circle cx="524.9" cy="450.0" r="3.3" fill="#d3572b" stroke="#ebb39f" stroke-width="0.7"/>
<circle cx="444.3" cy="523.0" r="4.2" fill="#f4f4f8" stroke="#b9b9c4" stroke-width="0.7"/>
<circle cx="324.0" cy="500.8" r="3.8" fill="#80c46e" stroke="#c5e4bd" stroke-width="0.7"/>
<circle cx="254.4" cy="451.1" r="4.4" fill="#e3efdb" stroke="#c9dcc0" stroke-width="0.7"/>
<circle cx="427.3" cy="545.2" r="2.9" fill="#f4f4f8" stroke="#b9b9c4" stroke-width="0.7"/>
<circle cx="330.0" cy="523.0" r="4.0" fill="#80c46e" stroke="#c5e4bd" stroke-width="0.7"/>
<circle cx="490.6" cy="381.5" r="4.2" fill="#5a4aa5" stroke="#b4add6" stroke-width="0.7"/>
<circle cx="210.3" cy="468.1" r="3.4" fill="#a9c9e7" stroke="#d8e6f4" stroke-width="0.7"/>
<circle cx="553.7" cy="449.6" r="3.6" fill="#d3572b" stroke="#ebb39f" stroke-width="0.7"/>
<circle cx="516.5" cy="491.2" r="3.8" fill="#f6dfca" stroke="#efd2b6" stroke-width="0.7"/>
<circle cx="508.0" cy="501.1" r="3.5" fill="#f6dfca" stroke="#efd2b6" stroke-width="0.7"/>
<circle cx="235.9" cy="445.9" r="4.1" fill="#e3efdb" stroke="#c9dcc0" stroke-width="0.7"/>
<circle cx="495.3" cy="350.5" r="4.5" fill="#9f99cf" stroke="#d3d1e9" stroke-width="0.7"/>
<circle cx="539.5" cy="448.9" r="3.6" fill="#d3572b" stroke="#ebb39f" stroke-width="0.7"/>
<circle cx="542.7" cy="425.1" r="3.7" fill="#eca866" stroke="#f6d7ba" stroke-width="0.7"/>
<circle cx="545.6" cy="429.9" r="3.4" fill="#eca866" stroke="#f6d7ba" stroke-width="0.7"/>
<circle cx="522.6" cy="394.1" r="3.1" fill="#d2cde8" stroke="#eae8f4" stroke-width="0.7"/>
<circle cx="500.8" cy="366.3" r="3.1" fill="#9f99cf" stroke="#d3d1e9" stroke-width="0.7"/>
<circle cx="178.4" cy="385.9" r="2.2" fill="#f1f4f9" stroke="#dde3ec" stroke-width="0.7"/>
<circle cx="499.8" cy="339.1" r="3.3" fill="#9f99cf" stroke="#d3d1e9" stroke-width="0.7"/>
<circle cx="252.8" cy="517.2" r="3.5" fill="#3f8c3f" stroke="#a8cba8" stroke-width="0.7"/>
<circle cx="219.0" cy="488.0" r="3.3" fill="#3f8c3f" stroke="#a8cba8" stroke-width="0.7"/>
<circle cx="191.2" cy="466.2" r="4.0" fill="#a9c9e7" stroke="#d8e6f4" stroke-width="0.7"/>
<circle cx="242.6" cy="531.6" r="3.7" fill="#3f8c3f" stroke="#a8cba8" stroke-width="0.7"/>
<circle cx="479.5" cy="356.5" r="4.3" fill="#9f99cf" stroke="#d3d1e9" stroke-width="0.7"/>
<circle cx="371.5" cy="476.5" r="3.0" fill="#e3efdb" stroke="#c9dcc0" stroke-width="0.7"/>
<circle cx="495.7" cy="417.8" r="3.2" fill="#5a4aa5" stroke="#b4add6" stroke-width="0.7"/>
<circle cx="534.4" cy="398.8" r="3.7" fill="#5a4aa5" stroke="#b4add6" stroke-width="0.7"/>
<circle cx="504.2" cy="402.8" r="3.2" fill="#d2cde8" stroke="#eae8f4" stroke-width="0.7"/>
<circle cx="225.7" cy="447.1" r="4.0" fill="#a9c9e7" stroke="#d8e6f4" stroke-width="0.7"/>
<circle cx="531.4" cy="446.5" r="3.9" fill="#d3572b" stroke="#ebb39f" stroke-width="0.7"/>
<circle cx="209.8" cy="503.4" r="3.6" fill="#3f8c3f" stroke="#a8cba8" stroke-width="0.7"/>
<circle cx="504.5" cy="361.0" r="3.3" fill="#9f99cf" stroke="#d3d1e9" stroke-width="0.7"/>
<circle cx="347.0" cy="507.8" r="4.0" fill="#80c46e" stroke="#c5e4bd" stroke-width="0.7"/>
<circle cx="243.2" cy="513.0" r="2.9" fill="#3f8c3f" stroke="#a8cba8" stroke-width="0.7"/>
<circle cx="242.4" cy="469.1" r="3.4" fill="#3f8c3f" stroke="#a8cba8" stroke-width="0.7"/>
<circle cx="539.7" cy="505.4" r="3.8" fill="#e2eaf6" stroke="#c3cadb" stroke-width="0.7"/>
<circle cx="224.0" cy="512.8" r="3.1" fill="#3f8c3f" stroke="#a8cba8" stroke-width="0.7"/>
<circle cx="523.5" cy="405.0" r="3.3" fill="#d2cde8" stroke="#eae8f4" stroke-width="0.7"/>
<circle cx="410.0" cy="554.0" r="2.8" fill="#f4f4f8" stroke="#b9b9c4" stroke-width="0.7"/>
<circle cx="524.6" cy="389.2" r="3.0" fill="#5a4aa5" stroke="#b4add6" stroke-width="0.7"/>
<circle cx="554.4" cy="362.5" r="3.3" fill="#d2cde8" stroke="#eae8f4" stroke-width="0.7"/>
<circle cx="559.2" cy="389.2" r="4.2" fill="#eca866" stroke="#f6d7ba" stroke-width="0.7"/>
<circle cx="414.7" cy="559.6" r="3.6" fill="#f4f4f8" stroke="#b9b9c4" stroke-width="0.7"/>
<circle cx="221.4" cy="459.6" r="4.0" fill="#a9c9e7" stroke="#d8e6f4" stroke-width="0.7"/>
<circle cx="273.5" cy="495.1" r="3.4" fill="#80c46e" stroke="#c5e4bd" stroke-width="0.7"/>
<circle cx="524.6" cy="354.3" r="4.0" fill="#9f99cf" stroke="#d3d1e9" stroke-width="0.7"/>
<circle cx="278.7" cy="483.9" r="3.0" fill="#3f8c3f" stroke="#a8cba8" stroke-width="0.7"/>
<circle cx="191.8" cy="426.3" r="3.1" fill="#4b80c3" stroke="#aec5e4" stroke-width="0.7"/>
<circle cx="544.4" cy="434.8" r="3.0" fill="#eca866" stroke="#f6d7ba" stroke-width="0.7"/>
<circle cx="313.0" cy="497.0" r="4.0" fill="#80c46e" stroke="#c5e4bd" stroke-width="0.7"/>
<circle cx="208.2" cy="458.9" r="3.1" fill="#a9c9e7" stroke="#d8e6f4" stroke-width="0.7"/>
<circle cx="483.7" cy="499.2" r="4.1" fill="#f6dfca" stroke="#efd2b6" stroke-width="0.7"/>
<circle cx="311.0" cy="506.9" r="4.4" fill="#80c46e" stroke="#c5e4bd" stroke-width="0.7"/>
<circle cx="443.6" cy="557.4" r="3.1" fill="#f4f4f8" stroke="#b9b9c4" stroke-width="0.7"/>
<circle cx="528.1" cy="478.8" r="3.0" fill="#f6dfca" stroke="#efd2b6" stroke-width="0.7"/>
<circle cx="516.9" cy="388.6" r="3.3" fill="#5a4aa5" stroke="#b4add6" stroke-width="0.7"/>
<circle cx="210.1" cy="434.7" r="3.8" fill="#a9c9e7" stroke="#d8e6f4" stroke-width="0.7"/>
<circle cx="559.3" cy="411.8" r="3.6" fill="#eca866" stroke="#f6d7ba" stroke-width="0.7"/>
<circle cx="521.4" cy="347.8" r="3.4" fill="#9f99cf" stroke="#d3d1e9" stroke-width="0.7"/>
<circle cx="519.5" cy="432.6" r="4.0" fill="#eca866" stroke="#f6d7ba" stroke-width="0.7"/>
<circle cx="507.3" cy="366.7" r="4.0" fill="#d2cde8" stroke="#eae8f4" stroke-width="0.7"/>
<circle cx="348.1" cy="371.9" r="5.4" fill="#4b80c3" stroke="#aec5e4" stroke-width="0.7"/>
<circle cx="506.4" cy="412.6" r="3.0" fill="#5a4aa5" stroke="#b4add6" stroke-width="0.7"/>
<circle cx="262.8" cy="460.5" r="4.3" fill="#e3efdb" stroke="#c9dcc0" stroke-width="0.7"/>
<circle cx="481.2" cy="398.8" r="3.5" fill="#5a4aa5" stroke="#b4add6" stroke-width="0.7"/>
<circle cx="554.5" cy="414.6" r="3.2" fill="#eca866" stroke="#f6d7ba" stroke-width="0.7"/>
<circle cx="559.0" cy="450.4" r="3.2" fill="#d3572b" stroke="#ebb39f" stroke-width="0.7"/>
<circle cx="249.8" cy="477.4" r="3.6" fill="#3f8c3f" stroke="#a8cba8" stroke-width="0.7"/>
<circle cx="538.3" cy="391.6" r="4.0" fill="#5a4aa5" stroke="#b4add6" stroke-width="0.7"/>
<circle cx="565.1" cy="462.9" r="3.2" fill="#d3572b" stroke="#ebb39f" stroke-width="0.7"/>
<circle cx="281.0" cy="502.8" r="4.3" fill="#80c46e" stroke="#c5e4bd" stroke-width="0.7"/>
<circle cx="351.0" cy="473.8" r="2.8" fill="#e3efdb" stroke="#c9dcc0" stroke-width="0.7"/>
<circle cx="561.3" cy="425.7" r="3.9" fill="#eca866" stroke="#f6d7ba" stroke-width="0.7"/>
<circle cx="245.3" cy="456.1" r="3.0" fill="#b6dba6" stroke="#deeed6" stroke-width="0.7"/>
<circle cx="533.4" cy="459.2" r="3.8" fill="#d3572b" stroke="#ebb39f" stroke-width="0.7"/>
<circle cx="285.3" cy="474.4" r="3.9" fill="#e3efdb" stroke="#c9dcc0" stroke-width="0.7"/>
<circle cx="337.1" cy="520.0" r="3.7" fill="#80c46e" stroke="#c5e4bd" stroke-width="0.7"/>
<circle cx="581.9" cy="446.4" r="3.2" fill="#d3572b" stroke="#ebb39f" stroke-width="0.7"/>
<circle cx="164.4" cy="373.8" r="2.9" fill="#f1f4f9" stroke="#dde3ec" stroke-width="0.7"/>
<circle cx="439.1" cy="539.4" r="3.0" fill="#f4f4f8" stroke="#b9b9c4" stroke-width="0.7"/>
<circle cx="508.7" cy="475.2" r="3.5" fill="#f6dfca" stroke="#efd2b6" stroke-width="0.7"/>
<circle cx="528.7" cy="376.6" r="3.2" fill="#d2cde8" stroke="#eae8f4" stroke-width="0.7"/>
<circle cx="197.9" cy="403.0" r="3.4" fill="#4b80c3" stroke="#aec5e4" stroke-width="0.7"/>
<circle cx="513.4" cy="337.3" r="3.2" fill="#9f99cf" stroke="#d3d1e9" stroke-width="0.7"/>
<circle cx="514.3" cy="412.2" r="3.1" fill="#5a4aa5" stroke="#b4add6" stroke-width="0.7"/>
<circle cx="501.8" cy="504.4" r="3.4" fill="#f6dfca" stroke="#efd2b6" stroke-width="0.7"/>
<circle cx="207.5" cy="442.4" r="3.0" fill="#a9c9e7" stroke="#d8e6f4" stroke-width="0.7"/>
<circle cx="193.1" cy="433.3" r="3.7" fill="#a9c9e7" stroke="#d8e6f4" stroke-width="0.7"/>
<circle cx="448.6" cy="504.4" r="5.0" fill="#f4f4f8" stroke="#b9b9c4" stroke-width="0.7"/>
<circle cx="567.4" cy="393.4" r="3.3" fill="#eca866" stroke="#f6d7ba" stroke-width="0.7"/>
<circle cx="328.0" cy="512.5" r="3.9" fill="#80c46e" stroke="#c5e4bd" stroke-width="0.7"/>
<circle cx="216.9" cy="455.2" r="3.4" fill="#a9c9e7" stroke="#d8e6f4" stroke-width="0.7"/>
<circle cx="266.9" cy="465.7" r="3.1" fill="#b6dba6" stroke="#deeed6" stroke-width="0.7"/>
<circle cx="217.5" cy="415.0" r="4.0" fill="#4b80c3" stroke="#aec5e4" stroke-width="0.7"/>
<circle cx="553.9" cy="402.0" r="3.4" fill="#eca866" stroke="#f6d7ba" stroke-width="0.7"/>
<circle cx="565.4" cy="387.8" r="3.7" fill="#eca866" stroke="#f6d7ba" stroke-width="0.7"/>
<circle cx="437.9" cy="518.7" r="4.2" fill="#f4f4f8" stroke="#b9b9c4" stroke-width="0.7"/>
<circle cx="475.8" cy="508.7" r="4.5" fill="#f6dfca" stroke="#efd2b6" stroke-width="0.7"/>
<circle cx="278.1" cy="529.7" r="3.6" fill="#80c46e" stroke="#c5e4bd" stroke-width="0.7"/>
<circle cx="568.1" cy="442.3" r="3.1" fill="#d3572b" stroke="#ebb39f" stroke-width="0.7"/>
<circle cx="420.1" cy="555.2" r="3.3" fill="#f4f4f8" stroke="#b9b9c4" stroke-width="0.7"/>
<circle cx="180.0" cy="377.4" r="2.9" fill="#f1f4f9" stroke="#dde3ec" stroke-width="0.7"/>
<circle cx="561.6" cy="401.0" r="4.1" fill="#eca866" stroke="#f6d7ba" stroke-width="0.7"/>
<circle cx="508.0" cy="398.4" r="3.9" fill="#5a4aa5" stroke="#b4add6" stroke-width="0.7"/>
<circle cx="212.6" cy="422.6" r="3.2" fill="#4b80c3" stroke="#aec5e4" stroke-width="0.7"/>
<circle cx="248.1" cy="542.0" r="2.6" fill="#e2eaf6" stroke="#c3cadb" stroke-width="0.7"/>
<circle cx="203.4" cy="410.0" r="3.4" fill="#4b80c3" stroke="#aec5e4" stroke-width="0.7"/>
<circle cx="219.0" cy="447.9" r="3.2" fill="#a9c9e7" stroke="#d8e6f4" stroke-width="0.7"/>
<circle cx="242.3" cy="476.0" r="3.1" fill="#e3efdb" stroke="#c9dcc0" stroke-width="0.7"/>
<circle cx="493.0" cy="497.9" r="5.0" fill="#e3efdb" stroke="#c9dcc0" stroke-width="0.7"/>
<circle cx="527.6" cy="348.4" r="4.1" fill="#9f99cf" stroke="#d3d1e9" stroke-width="0.7"/>
<circle cx="527.1" cy="398.0" r="3.4" fill="#5a4aa5" stroke="#b4add6" stroke-width="0.7"/>
<circle cx="187.2" cy="397.2" r="2.6" fill="#f1f4f9" stroke="#dde3ec" stroke-width="0.7"/>
<circle cx="528.7" cy="429.8" r="4.0" fill="#eca866" stroke="#f6d7ba" stroke-width="0.7"/>
<circle cx="311.2" cy="515.6" r="3.1" fill="#80c46e" stroke="#c5e4bd" stroke-width="0.7"/>
<circle cx="487.6" cy="483.1" r="3.1" fill="#f6dfca" stroke="#efd2b6" stroke-width="0.7"/>
<circle cx="573.3" cy="412.0" r="4.1" fill="#eca866" stroke="#f6d7ba" stroke-width="0.7"/>
<circle cx="468.0" cy="352.0" r="4.5" fill="#9f99cf" stroke="#d3d1e9" stroke-width="0.7"/>
<circle cx="262.0" cy="451.9" r="3.3" fill="#e3efdb" stroke="#c9dcc0" stroke-width="0.7"/>
<circle cx="278.4" cy="523.0" r="4.5" fill="#80c46e" stroke="#c5e4bd" stroke-width="0.7"/>
<circle cx="426.8" cy="555.4" r="3.4" fill="#f4f4f8" stroke="#b9b9c4" stroke-width="0.7"/>
<circle cx="484.2" cy="508.2" r="3.8" fill="#f6dfca" stroke="#efd2b6" stroke-width="0.7"/>
<circle cx="179.0" cy="408.1" r="3.7" fill="#4b80c3" stroke="#aec5e4" stroke-width="0.7"/>
<circle cx="575.5" cy="426.7" r="3.1" fill="#d3572b" stroke="#ebb39f" stroke-width="0.7"/>
<circle cx="487.1" cy="351.4" r="3.1" fill="#9f99cf" stroke="#d3d1e9" stroke-width="0.7"/>
<circle cx="484.3" cy="376.6" r="3.8" fill="#9f99cf" stroke="#d3d1e9" stroke-width="0.7"/>
<circle cx="170.0" cy="383.4" r="2.9" fill="#f1f4f9" stroke="#dde3ec" stroke-width="0.7"/>
<circle cx="248.7" cy="525.1" r="3.8" fill="#3f8c3f" stroke="#a8cba8" stroke-width="0.7"/>
<circle cx="528.5" cy="419.0" r="3.3" fill="#eca866" stroke="#f6d7ba" stroke-width="0.7"/>
<circle cx="455.0" cy="478.6" r="4.6" fill="#f4f4f8" stroke="#b9b9c4" stroke-width="0.7"/>
<circle cx="248.5" cy="444.1" r="3.7" fill="#e3efdb" stroke="#c9dcc0" stroke-width="0.7"/>
<circle cx="576.3" cy="402.3" r="3.1" fill="#d3572b" stroke="#ebb39f" stroke-width="0.7"/>
<circle cx="515.3" cy="345.5" r="3.2" fill="#d2cde8" stroke="#eae8f4" stroke-width="0.7"/>
<circle cx="348.7" cy="514.1" r="4.1" fill="#80c46e" stroke="#c5e4bd" stroke-width="0.7"/>
<circle cx="552.1" cy="376.7" r="3.6" fill="#d2cde8" stroke="#eae8f4" stroke-width="0.7"/>
<circle cx="567.9" cy="458.2" r="3.7" fill="#d3572b" stroke="#ebb39f" stroke-width="0.7"/>
<circle cx="331.6" cy="497.8" r="4.5" fill="#80c46e" stroke="#c5e4bd" stroke-width="0.7"/>
<circle cx="491.7" cy="370.9" r="4.1" fill="#9f99cf" stroke="#d3d1e9" stroke-width="0.7"/>
<circle cx="543.0" cy="457.0" r="4.5" fill="#e2eaf6" stroke="#c3cadb" stroke-width="0.7"/>
<circle cx="336.1" cy="508.4" r="3.8" fill="#80c46e" stroke="#c5e4bd" stroke-width="0.7"/>
<circle cx="185.4" cy="406.3" r="3.0" fill="#4b80c3" stroke="#aec5e4" stroke-width="0.7"/>
<circle cx="186.3" cy="419.3" r="3.6" fill="#4b80c3" stroke="#aec5e4" stroke-width="0.7"/>
<circle cx="225.7" cy="422.8" r="4.0" fill="#4b80c3" stroke="#aec5e4" stroke-width="0.7"/>
<circle cx="446.3" cy="545.5" r="3.0" fill="#f4f4f8" stroke="#b9b9c4" stroke-width="0.7"/>
<circle cx="494.5" cy="410.3" r="3.4" fill="#d2cde8" stroke="#eae8f4" stroke-width="0.7"/>
<circle cx="495.0" cy="390.2" r="3.9" fill="#5a4aa5" stroke="#b4add6" stroke-width="0.7"/>
<circle cx="574.4" cy="437.8" r="3.2" fill="#d3572b" stroke="#ebb39f" stroke-width="0.7"/>
<circle cx="583.0" cy="426.8" r="3.8" fill="#d3572b" stroke="#ebb39f" stroke-width="0.7"/>
<circle cx="283.5" cy="495.9" r="3.6" fill="#80c46e" stroke="#c5e4bd" stroke-width="0.7"/>
<circle cx="511.7" cy="387.5" r="3.1" fill="#5a4aa5" stroke="#b4add6" stroke-width="0.7"/>
<circle cx="580.0" cy="440.6" r="3.3" fill="#d3572b" stroke="#ebb39f" stroke-width="0.7"/>
<circle cx="434.8" cy="544.8" r="3.9" fill="#f4f4f8" stroke="#b9b9c4" stroke-width="0.7"/>
<circle cx="232.8" cy="464.3" r="4.6" fill="#e3efdb" stroke="#c9dcc0" stroke-width="0.7"/>
<circle cx="207.1" cy="472.1" r="3.2" fill="#a9c9e7" stroke="#d8e6f4" stroke-width="0.7"/>
<circle cx="534.8" cy="440.7" r="3.4" fill="#d3572b" stroke="#ebb39f" stroke-width="0.7"/>
<circle cx="489.5" cy="418.9" r="3.1" fill="#5a4aa5" stroke="#b4add6" stroke-width="0.7"/>
<circle cx="220.0" cy="499.2" r="3.2" fill="#3f8c3f" stroke="#a8cba8" stroke-width="0.7"/>
<circle cx="163.7" cy="428.4" r="4.1" fill="#4b80c3" stroke="#aec5e4" stroke-width="0.7"/>
<circle cx="209.2" cy="428.1" r="2.9" fill="#4b80c3" stroke="#aec5e4" stroke-width="0.7"/>
<circle cx="244.1" cy="540.0" r="3.0" fill="#e2eaf6" stroke="#c3cadb" stroke-width="0.7"/>
<circle cx="511.6" cy="342.2" r="3.1" fill="#9f99cf" stroke="#d3d1e9" stroke-width="0.7"/>
<circle cx="488.5" cy="363.9" r="3.8" fill="#9f99cf" stroke="#d3d1e9" stroke-width="0.7"/>
<circle cx="507.5" cy="393.5" r="3.0" fill="#d2cde8" stroke="#eae8f4" stroke-width="0.7"/>
<circle cx="500.7" cy="398.3" r="3.6" fill="#5a4aa5" stroke="#b4add6" stroke-width="0.7"/>
<circle cx="553.4" cy="390.9" r="3.7" fill="#eca866" stroke="#f6d7ba" stroke-width="0.7"/>
<circle cx="283.1" cy="490.2" r="3.8" fill="#80c46e" stroke="#c5e4bd" stroke-width="0.7"/>
<circle cx="568.6" cy="431.8" r="3.0" fill="#eca866" stroke="#f6d7ba" stroke-width="0.7"/>
<circle cx="534.1" cy="376.3" r="3.9" fill="#d2cde8" stroke="#eae8f4" stroke-width="0.7"/>
<circle cx="577.3" cy="417.8" r="3.3" fill="#d3572b" stroke="#ebb39f" stroke-width="0.7"/>
<circle cx="432.5" cy="561.5" r="2.6" fill="#f4f4f8" stroke="#b9b9c4" stroke-width="0.7"/>
<circle cx="387.8" cy="510.0" r="5.0" fill="#80c46e" stroke="#c5e4bd" stroke-width="0.7"/>
<circle cx="274.1" cy="469.8" r="3.6" fill="#b6dba6" stroke="#deeed6" stroke-width="0.7"/>
<circle cx="322.0" cy="519.0" r="4.0" fill="#80c46e" stroke="#c5e4bd" stroke-width="0.7"/>
<circle cx="569.3" cy="399.5" r="3.5" fill="#eca866" stroke="#f6d7ba" stroke-width="0.7"/>
<circle cx="197.3" cy="429.4" r="3.4" fill="#4b80c3" stroke="#aec5e4" stroke-width="0.7"/>
<circle cx="567.3" cy="475.9" r="4.1" fill="#f6dfca" stroke="#efd2b6" stroke-width="0.7"/>
<circle cx="499.9" cy="377.5" r="4.4" fill="#5a4aa5" stroke="#b4add6" stroke-width="0.7"/>
<circle cx="252.4" cy="472.8" r="3.1" fill="#b6dba6" stroke="#deeed6" stroke-width="0.7"/>
<circle cx="250.5" cy="457.7" r="3.2" fill="#3f8c3f" stroke="#a8cba8" stroke-width="0.7"/>
<circle cx="163.7" cy="391.7" r="2.1" fill="#f1f4f9" stroke="#dde3ec" stroke-width="0.7"/>
<circle cx="447.5" cy="349.7" r="5.7" fill="#4b80c3" stroke="#aec5e4" stroke-width="0.7"/>
<circle cx="522.5" cy="383.1" r="3.2" fill="#5a4aa5" stroke="#b4add6" stroke-width="0.7"/>
<circle cx="530.8" cy="371.9" r="3.4" fill="#d2cde8" stroke="#eae8f4" stroke-width="0.7"/>
<circle cx="285.0" cy="528.9" r="3.4" fill="#80c46e" stroke="#c5e4bd" stroke-width="0.7"/>
<circle cx="552.7" cy="483.9" r="3.1" fill="#f6dfca" stroke="#efd2b6" stroke-width="0.7"/>
<circle cx="242.6" cy="442.1" r="4.1" fill="#e3efdb" stroke="#c9dcc0" stroke-width="0.7"/>
<circle cx="465.0" cy="466.0" r="4.0" fill="#f4f4f8" stroke="#b9b9c4" stroke-width="0.7"/>
<circle cx="199.0" cy="484.5" r="2.8" fill="#3f8c3f" stroke="#a8cba8" stroke-width="0.7"/>
<circle cx="510.7" cy="361.9" r="3.9" fill="#9f99cf" stroke="#d3d1e9" stroke-width="0.7"/>
<circle cx="211.1" cy="413.8" r="4.1" fill="#4b80c3" stroke="#aec5e4" stroke-width="0.7"/>
<circle cx="570.4" cy="453.4" r="3.0" fill="#d3572b" stroke="#ebb39f" stroke-width="0.7"/>
<circle cx="507.5" cy="375.1" r="4.2" fill="#5a4aa5" stroke="#b4add6" stroke-width="0.7"/>
<circle cx="485.3" cy="371.3" r="3.3" fill="#9f99cf" stroke="#d3d1e9" stroke-width="0.7"/>
<circle cx="180.6" cy="443.4" r="3.4" fill="#a9c9e7" stroke="#d8e6f4" stroke-width="0.7"/>
<circle cx="541.5" cy="370.8" r="3.3" fill="#d2cde8" stroke="#eae8f4" stroke-width="0.7"/>
<circle cx="545.8" cy="357.0" r="3.1" fill="#d2cde8" stroke="#eae8f4" stroke-width="0.7"/>
<circle cx="222.8" cy="417.2" r="3.3" fill="#4b80c3" stroke="#aec5e4" stroke-width="0.7"/>
<circle cx="216.3" cy="519.5" r="2.9" fill="#3f8c3f" stroke="#a8cba8" stroke-width="0.7"/>
<circle cx="546.9" cy="419.9" r="3.0" fill="#eca866" stroke="#f6d7ba" stroke-width="0.7"/>
<circle cx="523.4" cy="378.7" r="3.2" fill="#d2cde8" stroke="#eae8f4" stroke-width="0.7"/>
<circle cx="212.2" cy="489.5" r="3.4" fill="#3f8c3f" stroke="#a8cba8" stroke-width="0.7"/>
<circle cx="173.4" cy="410.0" r="3.8" fill="#4b80c3" stroke="#aec5e4" stroke-width="0.7"/>
<circle cx="247.7" cy="451.2" r="3.2" fill="#e3efdb" stroke="#c9dcc0" stroke-width="0.7"/>
<circle cx="296.1" cy="528.5" r="4.2" fill="#80c46e" stroke="#c5e4bd" stroke-width="0.7"/>
<circle cx="257.0" cy="495.7" r="3.5" fill="#3f8c3f" stroke="#a8cba8" stroke-width="0.7"/>
<circle cx="195.8" cy="451.2" r="4.1" fill="#a9c9e7" stroke="#d8e6f4" stroke-width="0.7"/>
<circle cx="200.9" cy="469.7" r="3.6" fill="#a9c9e7" stroke="#d8e6f4" stroke-width="0.7"/>
<circle cx="190.1" cy="460.9" r="3.1" fill="#a9c9e7" stroke="#d8e6f4" stroke-width="0.7"/>
<circle cx="233.8" cy="438.1" r="3.1" fill="#e3efdb" stroke="#c9dcc0" stroke-width="0.7"/>
<circle cx="525.5" cy="472.2" r="3.9" fill="#f6dfca" stroke="#efd2b6" stroke-width="0.7"/>
<circle cx="276.1" cy="508.2" r="3.0" fill="#80c46e" stroke="#c5e4bd" stroke-width="0.7"/>
<circle cx="223.7" cy="523.0" r="3.1" fill="#3f8c3f" stroke="#a8cba8" stroke-width="0.7"/>
<circle cx="257.9" cy="456.3" r="3.4" fill="#e3efdb" stroke="#c9dcc0" stroke-width="0.7"/>
<circle cx="225.0" cy="483.7" r="3.8" fill="#3f8c3f" stroke="#a8cba8" stroke-width="0.7"/>
<circle cx="197.4" cy="421.5" r="3.5" fill="#4b80c3" stroke="#aec5e4" stroke-width="0.7"/>
<circle cx="529.7" cy="404.3" r="4.4" fill="#5a4aa5" stroke="#b4add6" stroke-width="0.7"/>
<circle cx="257.9" cy="470.8" r="2.9" fill="#3f8c3f" stroke="#a8cba8" stroke-width="0.7"/>
<circle cx="558.0" cy="474.4" r="3.3" fill="#f6dfca" stroke="#efd2b6" stroke-width="0.7"/>
<circle cx="530.6" cy="360.7" r="3.8" fill="#d2cde8" stroke="#eae8f4" stroke-width="0.7"/>
<circle cx="528.2" cy="453.9" r="3.3" fill="#d3572b" stroke="#ebb39f" stroke-width="0.7"/>
<circle cx="515.2" cy="365.6" r="3.1" fill="#d2cde8" stroke="#eae8f4" stroke-width="0.7"/>
<circle cx="567.6" cy="436.6" r="3.2" fill="#d3572b" stroke="#ebb39f" stroke-width="0.7"/>
<circle cx="470.7" cy="387.2" r="4.2" fill="#9f99cf" stroke="#d3d1e9" stroke-width="0.7"/>
<circle cx="497.6" cy="384.7" r="3.3" fill="#5a4aa5" stroke="#b4add6" stroke-width="0.7"/>
<circle cx="513.1" cy="400.9" r="3.6" fill="#5a4aa5" stroke="#b4add6" stroke-width="0.7"/>
<circle cx="536.1" cy="404.8" r="3.7" fill="#eca866" stroke="#f6d7ba" stroke-width="0.7"/>
<circle cx="175.1" cy="375.2" r="2.3" fill="#f1f4f9" stroke="#dde3ec" stroke-width="0.7"/>
<circle cx="486.3" cy="346.0" r="3.9" fill="#9f99cf" stroke="#d3d1e9" stroke-width="0.7"/>
<circle cx="523.5" cy="374.2" r="3.0" fill="#d2cde8" stroke="#eae8f4" stroke-width="0.7"/>
<circle cx="287.0" cy="520.5" r="3.4" fill="#80c46e" stroke="#c5e4bd" stroke-width="0.7"/>
<circle cx="554.9" cy="385.6" r="3.2" fill="#eca866" stroke="#f6d7ba" stroke-width="0.7"/>
<circle cx="215.0" cy="437.5" r="3.1" fill="#a9c9e7" stroke="#d8e6f4" stroke-width="0.7"/>
<circle cx="501.6" cy="494.0" r="3.7" fill="#f6dfca" stroke="#efd2b6" stroke-width="0.7"/>
<circle cx="452.2" cy="490.8" r="5.0" fill="#f4f4f8" stroke="#b9b9c4" stroke-width="0.7"/>
<circle cx="355.2" cy="508.3" r="4.0" fill="#80c46e" stroke="#c5e4bd" stroke-width="0.7"/>
<circle cx="320.0" cy="507.5" r="3.4" fill="#80c46e" stroke="#c5e4bd" stroke-width="0.7"/>
<circle cx="471.5" cy="495.8" r="5.0" fill="#f6dfca" stroke="#efd2b6" stroke-width="0.7"/>
<circle cx="269.1" cy="470.5" r="3.1" fill="#3f8c3f" stroke="#a8cba8" stroke-width="0.7"/>
<circle cx="400.0" cy="499.0" r="2.5" fill="#e3efdb" stroke="#c9dcc0" stroke-width="0.7"/>
<circle cx="364.7" cy="484.6" r="5.5" fill="#e3efdb" stroke="#c9dcc0" stroke-width="0.7"/>
<circle cx="515.6" cy="371.5" r="3.4" fill="#d2cde8" stroke="#eae8f4" stroke-width="0.7"/>
<circle cx="175.4" cy="455.2" r="3.5" fill="#4b80c3" stroke="#aec5e4" stroke-width="0.7"/>
<circle cx="582.8" cy="420.0" r="3.6" fill="#d3572b" stroke="#ebb39f" stroke-width="0.7"/>
<circle cx="431.9" cy="536.2" r="3.2" fill="#f4f4f8" stroke="#b9b9c4" stroke-width="0.7"/>
<circle cx="536.8" cy="471.2" r="3.1" fill="#f6dfca" stroke="#efd2b6" stroke-width="0.7"/>
<circle cx="578.7" cy="460.0" r="3.3" fill="#d3572b" stroke="#ebb39f" stroke-width="0.7"/>
<circle cx="425.7" cy="569.1" r="3.0" fill="#f4f4f8" stroke="#b9b9c4" stroke-width="0.7"/>
<circle cx="262.1" cy="494.0" r="3.2" fill="#80c46e" stroke="#c5e4bd" stroke-width="0.7"/>
<circle cx="287.5" cy="501.1" r="3.0" fill="#80c46e" stroke="#c5e4bd" stroke-width="0.7"/>
<circle cx="535.2" cy="423.2" r="3.7" fill="#eca866" stroke="#f6d7ba" stroke-width="0.7"/>
<circle cx="533.1" cy="453.1" r="3.3" fill="#d3572b" stroke="#ebb39f" stroke-width="0.7"/>
<circle cx="467.0" cy="359.6" r="3.9" fill="#9f99cf" stroke="#d3d1e9" stroke-width="0.7"/>
<circle cx="473.5" cy="382.4" r="3.0" fill="#9f99cf" stroke="#d3d1e9" stroke-width="0.7"/>
<circle cx="198.0" cy="475.4" r="4.1" fill="#a9c9e7" stroke="#d8e6f4" stroke-width="0.7"/>
<circle cx="189.3" cy="439.0" r="4.2" fill="#a9c9e7" stroke="#d8e6f4" stroke-width="0.7"/>
<circle cx="534.1" cy="415.1" r="3.8" fill="#eca866" stroke="#f6d7ba" stroke-width="0.7"/>
<circle cx="316.1" cy="514.7" r="3.6" fill="#80c46e" stroke="#c5e4bd" stroke-width="0.7"/>
<circle cx="182.1" cy="431.0" r="3.4" fill="#4b80c3" stroke="#aec5e4" stroke-width="0.7"/>
<circle cx="545.4" cy="492.7" r="3.8" fill="#f6dfca" stroke="#efd2b6" stroke-width="0.7"/>
<circle cx="522.2" cy="426.3" r="3.2" fill="#eca866" stroke="#f6d7ba" stroke-width="0.7"/>
<circle cx="261.1" cy="474.0" r="3.3" fill="#3f8c3f" stroke="#a8cba8" stroke-width="0.7"/>
<circle cx="303.5" cy="492.1" r="3.2" fill="#80c46e" stroke="#c5e4bd" stroke-width="0.7"/>
<circle cx="201.8" cy="391.7" r="3.4" fill="#4b80c3" stroke="#aec5e4" stroke-width="0.7"/>
<circle cx="188.1" cy="454.8" r="3.4" fill="#a9c9e7" stroke="#d8e6f4" stroke-width="0.7"/>
<circle cx="267.9" cy="524.7" r="4.5" fill="#80c46e" stroke="#c5e4bd" stroke-width="0.7"/>
<circle cx="205.1" cy="482.7" r="3.4" fill="#3f8c3f" stroke="#a8cba8" stroke-width="0.7"/>
<circle cx="548.3" cy="453.7" r="3.5" fill="#d3572b" stroke="#ebb39f" stroke-width="0.7"/>
<circle cx="219.7" cy="389.0" r="4.6" fill="#4b80c3" stroke="#aec5e4" stroke-width="0.7"/>
<circle cx="515.3" cy="425.4" r="3.2" fill="#eca866" stroke="#f6d7ba" stroke-width="0.7"/>
<circle cx="525.8" cy="492.0" r="3.3" fill="#f6dfca" stroke="#efd2b6" stroke-width="0.7"/>
<circle cx="491.8" cy="404.9" r="3.2" fill="#5a4aa5" stroke="#b4add6" stroke-width="0.7"/>
<circle cx="572.2" cy="406.1" r="3.6" fill="#eca866" stroke="#f6d7ba" stroke-width="0.7"/>
<circle cx="203.7" cy="455.0" r="3.0" fill="#a9c9e7" stroke="#d8e6f4" stroke-width="0.7"/>
<circle cx="479.3" cy="380.2" r="4.5" fill="#9f99cf" stroke="#d3d1e9" stroke-width="0.7"/>
<circle cx="494.7" cy="344.8" r="3.0" fill="#9f99cf" stroke="#d3d1e9" stroke-width="0.7"/>
<circle cx="482.6" cy="365.7" r="3.5" fill="#9f99cf" stroke="#d3d1e9" stroke-width="0.7"/>
<circle cx="246.0" cy="504.7" r="3.6" fill="#3f8c3f" stroke="#a8cba8" stroke-width="0.7"/>
<circle cx="426.6" cy="563.3" r="2.5" fill="#f4f4f8" stroke="#b9b9c4" stroke-width="0.7"/>
<circle cx="184.6" cy="464.7" r="3.9" fill="#a9c9e7" stroke="#d8e6f4" stroke-width="0.7"/>
<circle cx="412.2" cy="566.9" r="2.6" fill="#f4f4f8" stroke="#b9b9c4" stroke-width="0.7"/>
<circle cx="543.2" cy="352.3" r="3.5" fill="#d2cde8" stroke="#eae8f4" stroke-width="0.7"/>
<circle cx="202.5" cy="414.5" r="2.8" fill="#4b80c3" stroke="#aec5e4" stroke-width="0.7"/>
<circle cx="521.8" cy="400.2" r="3.6" fill="#5a4aa5" stroke="#b4add6" stroke-width="0.7"/>
<circle cx="516.8" cy="340.9" r="3.5" fill="#9f99cf" stroke="#d3d1e9" stroke-width="0.7"/>
<circle cx="570.2" cy="464.9" r="3.3" fill="#d3572b" stroke="#ebb39f" stroke-width="0.7"/>
<circle cx="578.5" cy="422.9" r="3.3" fill="#d3572b" stroke="#ebb39f" stroke-width="0.7"/>
<circle cx="470.8" cy="364.4" r="4.1" fill="#9f99cf" stroke="#d3d1e9" stroke-width="0.7"/>
<circle cx="528.6" cy="424.4" r="3.2" fill="#eca866" stroke="#f6d7ba" stroke-width="0.7"/>
<circle cx="549.3" cy="385.2" r="3.1" fill="#5a4aa5" stroke="#b4add6" stroke-width="0.7"/>
<circle cx="225.4" cy="399.0" r="5.3" fill="#4b80c3" stroke="#aec5e4" stroke-width="0.7"/>
<circle cx="289.0" cy="479.8" r="3.1" fill="#e3efdb" stroke="#c9dcc0" stroke-width="0.7"/>
<circle cx="174.2" cy="448.3" r="2.8" fill="#4b80c3" stroke="#aec5e4" stroke-width="0.7"/>
<circle cx="225.8" cy="470.3" r="4.1" fill="#e3efdb" stroke="#c9dcc0" stroke-width="0.7"/>
<circle cx="517.5" cy="382.4" r="3.2" fill="#5a4aa5" stroke="#b4add6" stroke-width="0.7"/>
<circle cx="178.3" cy="460.8" r="3.0" fill="#4b80c3" stroke="#aec5e4" stroke-width="0.7"/>
<circle cx="235.4" cy="483.1" r="3.5" fill="#3f8c3f" stroke="#a8cba8" stroke-width="0.7"/>
<circle cx="499.9" cy="344.3" r="3.3" fill="#9f99cf" stroke="#d3d1e9" stroke-width="0.7"/>
<circle cx="505.4" cy="344.2" r="3.0" fill="#9f99cf" stroke="#d3d1e9" stroke-width="0.7"/>
<circle cx="422.6" cy="546.7" r="2.5" fill="#f4f4f8" stroke="#b9b9c4" stroke-width="0.7"/>
<circle cx="261.6" cy="538.9" r="3.3" fill="#e2eaf6" stroke="#c3cadb" stroke-width="0.7"/>
<circle cx="507.8" cy="380.8" r="3.3" fill="#5a4aa5" stroke="#b4add6" stroke-width="0.7"/>
<circle cx="515.8" cy="350.0" r="3.1" fill="#9f99cf" stroke="#d3d1e9" stroke-width="0.7"/>
<circle cx="248.6" cy="470.0" r="3.0" fill="#e3efdb" stroke="#c9dcc0" stroke-width="0.7"/>
<circle cx="221.6" cy="442.8" r="3.8" fill="#a9c9e7" stroke="#d8e6f4" stroke-width="0.7"/>
<circle cx="164.6" cy="441.5" r="4.1" fill="#4b80c3" stroke="#aec5e4" stroke-width="0.7"/>
<circle cx="407.1" cy="562.5" r="3.3" fill="#f4f4f8" stroke="#b9b9c4" stroke-width="0.7"/>
<circle cx="488.4" cy="411.8" r="4.3" fill="#5a4aa5" stroke="#b4add6" stroke-width="0.7"/>
<circle cx="520.8" cy="446.3" r="3.9" fill="#d3572b" stroke="#ebb39f" stroke-width="0.7"/>
<circle cx="221.5" cy="473.5" r="3.0" fill="#b6dba6" stroke="#deeed6" stroke-width="0.7"/>
<circle cx="228.0" cy="433.0" r="3.1" fill="#a9c9e7" stroke="#d8e6f4" stroke-width="0.7"/>
<circle cx="535.2" cy="381.4" r="3.4" fill="#d2cde8" stroke="#eae8f4" stroke-width="0.7"/>
<circle cx="268.3" cy="511.9" r="3.0" fill="#3f8c3f" stroke="#a8cba8" stroke-width="0.7"/>
<circle cx="539.2" cy="383.8" r="3.2" fill="#d2cde8" stroke="#eae8f4" stroke-width="0.7"/>
<circle cx="207.9" cy="420.6" r="3.4" fill="#4b80c3" stroke="#aec5e4" stroke-width="0.7"/>
<circle cx="540.7" cy="415.7" r="4.0" fill="#eca866" stroke="#f6d7ba" stroke-width="0.7"/>
<circle cx="203.8" cy="509.4" r="3.3" fill="#3f8c3f" stroke="#a8cba8" stroke-width="0.7"/>
<circle cx="534.8" cy="367.8" r="3.0" fill="#d2cde8" stroke="#eae8f4" stroke-width="0.7"/>
<circle cx="547.3" cy="439.0" r="3.8" fill="#d3572b" stroke="#ebb39f" stroke-width="0.7"/>
<circle cx="583.5" cy="433.7" r="3.7" fill="#d3572b" stroke="#ebb39f" stroke-width="0.7"/>
<circle cx="479.6" cy="349.4" r="4.2" fill="#9f99cf" stroke="#d3d1e9" stroke-width="0.7"/>
<circle cx="178.8" cy="449.5" r="3.4" fill="#a9c9e7" stroke="#d8e6f4" stroke-width="0.7"/>
<circle cx="545.1" cy="468.1" r="3.6" fill="#f6dfca" stroke="#efd2b6" stroke-width="0.7"/>
<circle cx="456.0" cy="469.0" r="4.5" fill="#f4f4f8" stroke="#b9b9c4" stroke-width="0.7"/>
<circle cx="200.3" cy="436.9" r="3.6" fill="#a9c9e7" stroke="#d8e6f4" stroke-width="0.7"/>
<circle cx="512.2" cy="382.4" r="3.2" fill="#d2cde8" stroke="#eae8f4" stroke-width="0.7"/>
<circle cx="256.7" cy="520.5" r="3.2" fill="#3f8c3f" stroke="#a8cba8" stroke-width="0.7"/>
<circle cx="535.5" cy="495.4" r="4.4" fill="#f6dfca" stroke="#efd2b6" stroke-width="0.7"/>
<circle cx="528.5" cy="382.7" r="4.4" fill="#5a4aa5" stroke="#b4add6" stroke-width="0.7"/>
<circle cx="495.1" cy="487.2" r="5.0" fill="#f6dfca" stroke="#efd2b6" stroke-width="0.7"/>
<circle cx="466.1" cy="374.5" r="3.0" fill="#9f99cf" stroke="#d3d1e9" stroke-width="0.7"/>
<circle cx="241.3" cy="494.6" r="3.4" fill="#3f8c3f" stroke="#a8cba8" stroke-width="0.7"/>
<circle cx="195.2" cy="440.0" r="3.7" fill="#a9c9e7" stroke="#d8e6f4" stroke-width="0.7"/>
<circle cx="280.2" cy="470.5" r="4.6" fill="#e3efdb" stroke="#c9dcc0" stroke-width="0.7"/>
<circle cx="577.5" cy="454.5" r="3.7" fill="#d3572b" stroke="#ebb39f" stroke-width="0.7"/>
<circle cx="493.5" cy="359.2" r="3.5" fill="#d2cde8" stroke="#eae8f4" stroke-width="0.7"/>
<circle cx="560.7" cy="381.8" r="3.4" fill="#eca866" stroke="#f6d7ba" stroke-width="0.7"/>
<circle cx="525.2" cy="342.7" r="4.2" fill="#9f99cf" stroke="#d3d1e9" stroke-width="0.7"/>
<circle cx="536.5" cy="361.0" r="3.1" fill="#d2cde8" stroke="#eae8f4" stroke-width="0.7"/>
<circle cx="538.5" cy="356.2" r="3.4" fill="#d2cde8" stroke="#eae8f4" stroke-width="0.7"/>
<circle cx="194.3" cy="456.8" r="3.7" fill="#a9c9e7" stroke="#d8e6f4" stroke-width="0.7"/>
<circle cx="263.4" cy="481.8" r="2.8" fill="#3f8c3f" stroke="#a8cba8" stroke-width="0.7"/>
<circle cx="546.8" cy="407.1" r="3.2" fill="#eca866" stroke="#f6d7ba" stroke-width="0.7"/>
<circle cx="504.5" cy="355.3" r="3.7" fill="#9f99cf" stroke="#d3d1e9" stroke-width="0.7"/>
<circle cx="540.0" cy="400.3" r="3.9" fill="#5a4aa5" stroke="#b4add6" stroke-width="0.7"/>
<circle cx="380.0" cy="498.0" r="2.8" fill="#e3efdb" stroke="#c9dcc0" stroke-width="0.7"/>
<circle cx="552.1" cy="420.9" r="3.7" fill="#eca866" stroke="#f6d7ba" stroke-width="0.7"/>
<circle cx="489.3" cy="356.6" r="3.6" fill="#9f99cf" stroke="#d3d1e9" stroke-width="0.7"/>
<circle cx="438.2" cy="559.2" r="3.6" fill="#f4f4f8" stroke="#b9b9c4" stroke-width="0.7"/>
<circle cx="214.5" cy="443.9" r="4.1" fill="#a9c9e7" stroke="#d8e6f4" stroke-width="0.7"/>
<circle cx="436.7" cy="569.1" r="3.1" fill="#f4f4f8" stroke="#b9b9c4" stroke-width="0.7"/>
<circle cx="504.0" cy="384.8" r="3.7" fill="#5a4aa5" stroke="#b4add6" stroke-width="0.7"/>
<circle cx="230.5" cy="458.8" r="3.4" fill="#3f8c3f" stroke="#a8cba8" stroke-width="0.7"/>
<circle cx="202.9" cy="449.0" r="3.9" fill="#a9c9e7" stroke="#d8e6f4" stroke-width="0.7"/>
<circle cx="205.6" cy="488.8" r="3.7" fill="#3f8c3f" stroke="#a8cba8" stroke-width="0.7"/>
<circle cx="548.3" cy="366.7" r="3.3" fill="#d2cde8" stroke="#eae8f4" stroke-width="0.7"/>
<circle cx="504.9" cy="481.3" r="3.4" fill="#f6dfca" stroke="#efd2b6" stroke-width="0.7"/>
<circle cx="518.5" cy="376.6" r="4.3" fill="#5a4aa5" stroke="#b4add6" stroke-width="0.7"/>
<circle cx="508.1" cy="348.4" r="3.0" fill="#9f99cf" stroke="#d3d1e9" stroke-width="0.7"/>
<circle cx="527.2" cy="412.9" r="3.3" fill="#eca866" stroke="#f6d7ba" stroke-width="0.7"/>
<circle cx="539.3" cy="484.9" r="4.5" fill="#f6dfca" stroke="#efd2b6" stroke-width="0.7"/>
<circle cx="408.2" cy="506.4" r="5.0" fill="#80c46e" stroke="#c5e4bd" stroke-width="0.7"/>
<circle cx="487.9" cy="388.6" r="4.0" fill="#5a4aa5" stroke="#b4add6" stroke-width="0.7"/>
<circle cx="229.2" cy="417.4" r="3.0" fill="#4b80c3" stroke="#aec5e4" stroke-width="0.7"/>
<circle cx="529.5" cy="545.4" r="1.3" fill="#f4f4f8" stroke="#b9b9c4" stroke-width="0.7"/>
<circle cx="310.9" cy="521.4" r="3.5" fill="#80c46e" stroke="#c5e4bd" stroke-width="0.7"/>
<circle cx="248.9" cy="464.6" r="4.0" fill="#e3efdb" stroke="#c9dcc0" stroke-width="0.7"/>
<circle cx="498.6" cy="404.9" r="4.1" fill="#5a4aa5" stroke="#b4add6" stroke-width="0.7"/>
<circle cx="524.2" cy="435.8" r="3.6" fill="#eca866" stroke="#f6d7ba" stroke-width="0.7"/>
<circle cx="225.4" cy="463.5" r="3.4" fill="#e3efdb" stroke="#c9dcc0" stroke-width="0.7"/>
<circle cx="562.0" cy="434.2" r="4.0" fill="#eca866" stroke="#f6d7ba" stroke-width="0.7"/>
<circle cx="511.3" cy="352.4" r="3.3" fill="#9f99cf" stroke="#d3d1e9" stroke-width="0.7"/>
<circle cx="545.6" cy="373.6" r="3.4" fill="#d2cde8" stroke="#eae8f4" stroke-width="0.7"/>
<circle cx="527.5" cy="367.3" r="3.8" fill="#d2cde8" stroke="#eae8f4" stroke-width="0.7"/>
<circle cx="562.4" cy="439.8" r="3.4" fill="#d3572b" stroke="#ebb39f" stroke-width="0.7"/>
<circle cx="515.0" cy="356.8" r="4.3" fill="#9f99cf" stroke="#d3d1e9" stroke-width="0.7"/>
<circle cx="545.2" cy="545.4" r="1.3" fill="#f4f4f8" stroke="#b9b9c4" stroke-width="0.7"/>
<circle cx="392.7" cy="488.0" r="3.5" fill="#e2eaf6" stroke="#c3cadb" stroke-width="0.7"/>
<circle cx="341.3" cy="504.8" r="3.1" fill="#80c46e" stroke="#c5e4bd" stroke-width="0.7"/>
<circle cx="569.4" cy="423.9" r="4.0" fill="#eca866" stroke="#f6d7ba" stroke-width="0.7"/>
<circle cx="207.8" cy="406.9" r="2.8" fill="#4b80c3" stroke="#aec5e4" stroke-width="0.7"/>
<circle cx="256.3" cy="476.1" r="3.5" fill="#e3efdb" stroke="#c9dcc0" stroke-width="0.7"/>
<circle cx="472.8" cy="356.5" r="3.7" fill="#9f99cf" stroke="#d3d1e9" stroke-width="0.7"/>
<circle cx="192.6" cy="445.6" r="3.4" fill="#a9c9e7" stroke="#d8e6f4" stroke-width="0.7"/>
<circle cx="523.5" cy="457.3" r="3.3" fill="#d3572b" stroke="#ebb39f" stroke-width="0.7"/>
<circle cx="225.7" cy="505.8" r="3.6" fill="#3f8c3f" stroke="#a8cba8" stroke-width="0.7"/>
<circle cx="551.2" cy="426.6" r="3.4" fill="#eca866" stroke="#f6d7ba" stroke-width="0.7"/>
<circle cx="429.0" cy="531.3" r="2.9" fill="#f4f4f8" stroke="#b9b9c4" stroke-width="0.7"/>
<circle cx="256.1" cy="526.1" r="3.3" fill="#3f8c3f" stroke="#a8cba8" stroke-width="0.7"/>
<circle cx="187.1" cy="432.7" r="3.5" fill="#a9c9e7" stroke="#d8e6f4" stroke-width="0.7"/>
<circle cx="501.2" cy="392.0" r="4.3" fill="#5a4aa5" stroke="#b4add6" stroke-width="0.7"/>
<circle cx="515.1" cy="445.1" r="3.3" fill="#d3572b" stroke="#ebb39f" stroke-width="0.7"/>
<circle cx="215.5" cy="472.5" r="4.4" fill="#e3efdb" stroke="#c9dcc0" stroke-width="0.7"/>
<circle cx="173.2" cy="391.4" r="2.5" fill="#f1f4f9" stroke="#dde3ec" stroke-width="0.7"/>
<circle cx="214.1" cy="460.7" r="3.1" fill="#a9c9e7" stroke="#d8e6f4" stroke-width="0.7"/>
<circle cx="206.3" cy="464.5" r="3.4" fill="#a9c9e7" stroke="#d8e6f4" stroke-width="0.7"/>
<circle cx="172.9" cy="418.3" r="3.1" fill="#4b80c3" stroke="#aec5e4" stroke-width="0.7"/>
<circle cx="197.7" cy="465.1" r="3.2" fill="#a9c9e7" stroke="#d8e6f4" stroke-width="0.7"/>
<circle cx="489.4" cy="397.1" r="3.3" fill="#5a4aa5" stroke="#b4add6" stroke-width="0.7"/>
<circle cx="203.5" cy="432.8" r="3.1" fill="#a9c9e7" stroke="#d8e6f4" stroke-width="0.7"/>
<circle cx="228.2" cy="438.2" r="3.7" fill="#a9c9e7" stroke="#d8e6f4" stroke-width="0.7"/>
<circle cx="218.8" cy="423.3" r="3.9" fill="#4b80c3" stroke="#aec5e4" stroke-width="0.7"/>
<circle cx="565.4" cy="412.2" r="3.5" fill="#eca866" stroke="#f6d7ba" stroke-width="0.7"/>
<circle cx="483.2" cy="360.6" r="3.2" fill="#9f99cf" stroke="#d3d1e9" stroke-width="0.7"/>
<circle cx="200.2" cy="442.9" r="3.2" fill="#a9c9e7" stroke="#d8e6f4" stroke-width="0.7"/>
<circle cx="535.6" cy="477.7" r="3.0" fill="#f6dfca" stroke="#efd2b6" stroke-width="0.7"/>
<circle cx="271.0" cy="507.5" r="3.1" fill="#80c46e" stroke="#c5e4bd" stroke-width="0.7"/>
<circle cx="548.9" cy="393.9" r="3.4" fill="#5a4aa5" stroke="#b4add6" stroke-width="0.7"/>
<circle cx="236.4" cy="517.6" r="3.0" fill="#3f8c3f" stroke="#a8cba8" stroke-width="0.7"/>
<circle cx="179.3" cy="426.3" r="3.4" fill="#4b80c3" stroke="#aec5e4" stroke-width="0.7"/>
<circle cx="220.9" cy="467.9" r="3.0" fill="#b6dba6" stroke="#deeed6" stroke-width="0.7"/>
<circle cx="509.3" cy="356.7" r="3.0" fill="#d2cde8" stroke="#eae8f4" stroke-width="0.7"/>
<circle cx="543.7" cy="444.0" r="3.3" fill="#d3572b" stroke="#ebb39f" stroke-width="0.7"/>
<circle cx="199.3" cy="458.5" r="3.1" fill="#a9c9e7" stroke="#d8e6f4" stroke-width="0.7"/>
<circle cx="444.4" cy="536.2" r="2.4" fill="#f4f4f8" stroke="#b9b9c4" stroke-width="0.7"/>
<circle cx="542.1" cy="378.8" r="4.2" fill="#d2cde8" stroke="#eae8f4" stroke-width="0.7"/>
<circle cx="366.1" cy="370.9" r="5.4" fill="#4b80c3" stroke="#aec5e4" stroke-width="0.7"/>
<circle cx="425.4" cy="535.3" r="2.7" fill="#f4f4f8" stroke="#b9b9c4" stroke-width="0.7"/>
<circle cx="211.8" cy="455.5" r="3.0" fill="#a9c9e7" stroke="#d8e6f4" stroke-width="0.7"/>
<circle cx="530.4" cy="486.1" r="3.9" fill="#f6dfca" stroke="#efd2b6" stroke-width="0.7"/>
<circle cx="541.9" cy="439.1" r="3.3" fill="#d3572b" stroke="#ebb39f" stroke-width="0.7"/>
<circle cx="190.6" cy="408.4" r="3.0" fill="#4b80c3" stroke="#aec5e4" stroke-width="0.7"/>
<circle cx="508.1" cy="406.7" r="4.5" fill="#5a4aa5" stroke="#b4add6" stroke-width="0.7"/>
<circle cx="570.8" cy="417.4" r="3.5" fill="#eca866" stroke="#f6d7ba" stroke-width="0.7"/>
<circle cx="227.6" cy="476.5" r="4.5" fill="#e3efdb" stroke="#c9dcc0" stroke-width="0.7"/>
<circle cx="343.0" cy="517.0" r="4.0" fill="#80c46e" stroke="#c5e4bd" stroke-width="0.7"/>
<circle cx="184.0" cy="470.9" r="4.2" fill="#a9c9e7" stroke="#d8e6f4" stroke-width="0.7"/>
<circle cx="474.4" cy="489.3" r="5.0" fill="#f6dfca" stroke="#efd2b6" stroke-width="0.7"/>
<circle cx="270.1" cy="456.2" r="3.1" fill="#e3efdb" stroke="#c9dcc0" stroke-width="0.7"/>
<circle cx="562.8" cy="417.2" r="3.9" fill="#eca866" stroke="#f6d7ba" stroke-width="0.7"/>
<circle cx="272.8" cy="462.9" r="4.5" fill="#e3efdb" stroke="#c9dcc0" stroke-width="0.7"/>
<circle cx="546.5" cy="398.2" r="3.1" fill="#5a4aa5" stroke="#b4add6" stroke-width="0.7"/>
<circle cx="262.3" cy="466.7" r="3.0" fill="#3f8c3f" stroke="#a8cba8" stroke-width="0.7"/>
<circle cx="560.9" cy="481.5" r="4.2" fill="#f6dfca" stroke="#efd2b6" stroke-width="0.7"/>
<circle cx="184.1" cy="458.7" r="3.4" fill="#a9c9e7" stroke="#d8e6f4" stroke-width="0.7"/>
<circle cx="499.0" cy="358.4" r="3.9" fill="#9f99cf" stroke="#d3d1e9" stroke-width="0.7"/>
<circle cx="475.0" cy="343.0" r="3.5" fill="#9f99cf" stroke="#d3d1e9" stroke-width="0.7"/>
<circle cx="539.9" cy="462.5" r="3.7" fill="#d3572b" stroke="#ebb39f" stroke-width="0.7"/>
<circle cx="237.9" cy="473.2" r="3.1" fill="#b6dba6" stroke="#deeed6" stroke-width="0.7"/>
<circle cx="554.7" cy="436.2" r="3.1" fill="#eca866" stroke="#f6d7ba" stroke-width="0.7"/>
<circle cx="507.2" cy="388.8" r="3.1" fill="#d2cde8" stroke="#eae8f4" stroke-width="0.7"/>
<circle cx="178.0" cy="437.1" r="2.9" fill="#4b80c3" stroke="#aec5e4" stroke-width="0.7"/>
<circle cx="571.4" cy="449.0" r="3.1" fill="#d3572b" stroke="#ebb39f" stroke-width="0.7"/>
<circle cx="507.9" cy="336.6" r="3.6" fill="#9f99cf" stroke="#d3d1e9" stroke-width="0.7"/>
<circle cx="274.2" cy="478.5" r="3.2" fill="#b6dba6" stroke="#deeed6" stroke-width="0.7"/>
<circle cx="517.2" cy="394.2" r="4.1" fill="#5a4aa5" stroke="#b4add6" stroke-width="0.7"/>
<circle cx="295.4" cy="472.4" r="5.0" fill="#e3efdb" stroke="#c9dcc0" stroke-width="0.7"/>
<circle cx="561.4" cy="466.6" r="3.5" fill="#d3572b" stroke="#ebb39f" stroke-width="0.7"/>
<circle cx="309.4" cy="501.1" r="3.0" fill="#80c46e" stroke="#c5e4bd" stroke-width="0.7"/>
<circle cx="494.4" cy="508.7" r="5.0" fill="#f6dfca" stroke="#efd2b6" stroke-width="0.7"/>
<circle cx="531.5" cy="352.8" r="3.8" fill="#d2cde8" stroke="#eae8f4" stroke-width="0.7"/>
<circle cx="431.1" cy="526.2" r="2.9" fill="#f4f4f8" stroke="#b9b9c4" stroke-width="0.7"/>
<circle cx="484.6" cy="355.1" r="3.1" fill="#d2cde8" stroke="#eae8f4" stroke-width="0.7"/>
<circle cx="174.9" cy="423.6" r="2.8" fill="#4b80c3" stroke="#aec5e4" stroke-width="0.7"/>
<circle cx="574.0" cy="432.4" r="3.9" fill="#d3572b" stroke="#ebb39f" stroke-width="0.7"/>
<circle cx="168.8" cy="433.6" r="2.9" fill="#4b80c3" stroke="#aec5e4" stroke-width="0.7"/>
<circle cx="491.4" cy="339.8" r="3.9" fill="#9f99cf" stroke="#d3d1e9" stroke-width="0.7"/>
<circle cx="575.2" cy="464.8" r="3.4" fill="#d3572b" stroke="#ebb39f" stroke-width="0.7"/>
<circle cx="483.2" cy="490.7" r="3.4" fill="#f6dfca" stroke="#efd2b6" stroke-width="0.7"/>
<circle cx="501.7" cy="409.1" r="3.3" fill="#d2cde8" stroke="#eae8f4" stroke-width="0.7"/>
<circle cx="237.3" cy="478.1" r="3.5" fill="#3f8c3f" stroke="#a8cba8" stroke-width="0.7"/>
<circle cx="237.6" cy="525.1" r="3.1" fill="#3f8c3f" stroke="#a8cba8" stroke-width="0.7"/>
<circle cx="555.8" cy="371.1" r="3.5" fill="#d2cde8" stroke="#eae8f4" stroke-width="0.7"/>
<circle cx="473.8" cy="348.1" r="3.6" fill="#9f99cf" stroke="#d3d1e9" stroke-width="0.7"/>
<circle cx="245.5" cy="498.0" r="3.7" fill="#3f8c3f" stroke="#a8cba8" stroke-width="0.7"/>
<circle cx="508.8" cy="488.9" r="4.1" fill="#f6dfca" stroke="#efd2b6" stroke-width="0.7"/>
<circle cx="532.4" cy="387.4" r="3.5" fill="#5a4aa5" stroke="#b4add6" stroke-width="0.7"/>
<circle cx="497.3" cy="478.8" r="3.4" fill="#f6dfca" stroke="#efd2b6" stroke-width="0.7"/>
<circle cx="529.8" cy="434.9" r="3.0" fill="#eca866" stroke="#f6d7ba" stroke-width="0.7"/>
<circle cx="192.6" cy="417.3" r="3.4" fill="#4b80c3" stroke="#aec5e4" stroke-width="0.7"/>
<circle cx="580.2" cy="408.0" r="4.0" fill="#d3572b" stroke="#ebb39f" stroke-width="0.7"/>
<circle cx="560.9" cy="455.2" r="3.2" fill="#d3572b" stroke="#ebb39f" stroke-width="0.7"/>
<circle cx="547.0" cy="361.5" r="3.0" fill="#d2cde8" stroke="#eae8f4" stroke-width="0.7"/>
<circle cx="250.4" cy="485.5" r="3.3" fill="#3f8c3f" stroke="#a8cba8" stroke-width="0.7"/>
<circle cx="185.7" cy="427.2" r="3.0" fill="#4b80c3" stroke="#aec5e4" stroke-width="0.7"/>
<circle cx="194.8" cy="470.5" r="3.3" fill="#a9c9e7" stroke="#d8e6f4" stroke-width="0.7"/>
<circle cx="259.8" cy="530.9" r="3.0" fill="#3f8c3f" stroke="#a8cba8" stroke-width="0.7"/>
<circle cx="229.8" cy="532.6" r="3.1" fill="#3f8c3f" stroke="#a8cba8" stroke-width="0.7"/>
<circle cx="230.8" cy="452.6" r="3.0" fill="#e3efdb" stroke="#c9dcc0" stroke-width="0.7"/>
<circle cx="528.6" cy="498.8" r="3.2" fill="#f6dfca" stroke="#efd2b6" stroke-width="0.7"/>
<circle cx="237.5" cy="468.5" r="3.0" fill="#b6dba6" stroke="#deeed6" stroke-width="0.7"/>
<circle cx="536.0" cy="349.1" r="3.8" fill="#d2cde8" stroke="#eae8f4" stroke-width="0.7"/>
<circle cx="524.7" cy="360.2" r="3.6" fill="#d2cde8" stroke="#eae8f4" stroke-width="0.7"/>
<path d="M147.2 369.7 L339 369.7 L339 548.4 M147.2 369.7 L147.2 548.4 L339 548.4" fill="none" stroke="#6f6f6f" stroke-width="1.5" stroke-dasharray="14.3 10"/>
<rect x="29.30" y="620.00" width="9.2" height="19.40" fill="#e1e8f6" stroke="#111" stroke-width="1.6"/>
<rect x="39.89" y="620.00" width="9.2" height="19.40" fill="#e1e8f6" stroke="#111" stroke-width="1.6"/>
<rect x="50.48" y="620.00" width="9.2" height="19.40" fill="#e1e8f6" stroke="#111" stroke-width="1.6"/>
<rect x="61.06" y="621.30" width="9.2" height="18.10" fill="#e1e8f6" stroke="#111" stroke-width="1.6"/>
<rect x="71.65" y="622.20" width="9.2" height="17.20" fill="#e1e8f6" stroke="#111" stroke-width="1.6"/>
<rect x="82.24" y="622.20" width="9.2" height="17.20" fill="#e1e8f6" stroke="#111" stroke-width="1.6"/>
<rect x="92.83" y="622.20" width="9.2" height="17.20" fill="#e1e8f6" stroke="#111" stroke-width="1.6"/>
<rect x="103.42" y="622.20" width="9.2" height="17.20" fill="#e1e8f6" stroke="#111" stroke-width="1.6"/>
<rect x="114.00" y="622.20" width="9.2" height="17.20" fill="#e1e8f6" stroke="#111" stroke-width="1.6"/>
<rect x="124.59" y="622.20" width="9.2" height="17.20" fill="#e1e8f6" stroke="#111" stroke-width="1.6"/>
<rect x="135.18" y="622.20" width="9.2" height="17.20" fill="#e1e8f6" stroke="#111" stroke-width="1.6"/>
<rect x="145.77" y="622.20" width="9.2" height="17.20" fill="#e1e8f6" stroke="#111" stroke-width="1.6"/>
<rect x="156.36" y="622.20" width="9.2" height="17.20" fill="#e1e8f6" stroke="#111" stroke-width="1.6"/>
<rect x="166.94" y="623.80" width="9.2" height="15.60" fill="#e1e8f6" stroke="#111" stroke-width="1.6"/>
<rect x="177.53" y="623.80" width="9.2" height="15.60" fill="#e1e8f6" stroke="#111" stroke-width="1.6"/>
<rect x="188.12" y="623.80" width="9.2" height="15.60" fill="#e1e8f6" stroke="#111" stroke-width="1.6"/>
<rect x="198.71" y="623.80" width="9.2" height="15.60" fill="#e1e8f6" stroke="#111" stroke-width="1.6"/>
<rect x="209.30" y="623.80" width="9.2" height="15.60" fill="#e1e8f6" stroke="#111" stroke-width="1.6"/>
<rect x="219.88" y="623.80" width="9.2" height="15.60" fill="#e1e8f6" stroke="#111" stroke-width="1.6"/>
<rect x="230.47" y="623.80" width="9.2" height="15.60" fill="#e1e8f6" stroke="#111" stroke-width="1.6"/>
<rect x="241.06" y="588.50" width="9.2" height="50.90" fill="#afcbe6" stroke="#111" stroke-width="1.6"/>
<rect x="251.65" y="588.50" width="9.2" height="50.90" fill="#afcbe6" stroke="#111" stroke-width="1.6"/>
<rect x="262.24" y="588.50" width="9.2" height="50.90" fill="#afcbe6" stroke="#111" stroke-width="1.6"/>
<rect x="272.82" y="588.50" width="9.2" height="50.90" fill="#afcbe6" stroke="#111" stroke-width="1.6"/>
<rect x="283.41" y="588.50" width="9.2" height="50.90" fill="#afcbe6" stroke="#111" stroke-width="1.6"/>
<rect x="294.00" y="594.70" width="9.2" height="44.70" fill="#afcbe6" stroke="#111" stroke-width="1.6"/>
<rect x="304.59" y="594.70" width="9.2" height="44.70" fill="#afcbe6" stroke="#111" stroke-width="1.6"/>
<rect x="315.18" y="597.10" width="9.2" height="42.30" fill="#afcbe6" stroke="#111" stroke-width="1.6"/>
<rect x="325.76" y="602.20" width="9.2" height="37.20" fill="#afcbe6" stroke="#111" stroke-width="1.6"/>
<rect x="336.35" y="602.20" width="9.2" height="37.20" fill="#afcbe6" stroke="#111" stroke-width="1.6"/>
<rect x="346.94" y="602.20" width="9.2" height="37.20" fill="#afcbe6" stroke="#111" stroke-width="1.6"/>
<rect x="357.53" y="602.20" width="9.2" height="37.20" fill="#afcbe6" stroke="#111" stroke-width="1.6"/>
<rect x="368.12" y="602.20" width="9.2" height="37.20" fill="#afcbe6" stroke="#111" stroke-width="1.6"/>
<rect x="378.70" y="602.20" width="9.2" height="37.20" fill="#afcbe6" stroke="#111" stroke-width="1.6"/>
<rect x="389.29" y="602.20" width="9.2" height="37.20" fill="#afcbe6" stroke="#111" stroke-width="1.6"/>
<rect x="399.88" y="602.20" width="9.2" height="37.20" fill="#afcbe6" stroke="#111" stroke-width="1.6"/>
<rect x="410.47" y="603.40" width="9.2" height="36.00" fill="#afcbe6" stroke="#111" stroke-width="1.6"/>
<rect x="421.06" y="603.40" width="9.2" height="36.00" fill="#afcbe6" stroke="#111" stroke-width="1.6"/>
<rect x="431.64" y="607.60" width="9.2" height="31.80" fill="#afcbe6" stroke="#111" stroke-width="1.6"/>
<rect x="442.23" y="607.60" width="9.2" height="31.80" fill="#afcbe6" stroke="#111" stroke-width="1.6"/>
<rect x="452.82" y="625.50" width="9.2" height="13.90" fill="#4a7fc2" stroke="#111" stroke-width="1.6"/>
<rect x="463.41" y="625.50" width="9.2" height="13.90" fill="#e4f0dc" stroke="#111" stroke-width="1.6"/>
<rect x="474.00" y="615.40" width="9.2" height="24.00" fill="#c9e3b6" stroke="#111" stroke-width="1.6"/>
<rect x="484.58" y="615.40" width="9.2" height="24.00" fill="#c9e3b6" stroke="#111" stroke-width="1.6"/>
<rect x="495.17" y="615.40" width="9.2" height="24.00" fill="#c9e3b6" stroke="#111" stroke-width="1.6"/>
<rect x="505.76" y="615.40" width="9.2" height="24.00" fill="#c9e3b6" stroke="#111" stroke-width="1.6"/>
<rect x="516.35" y="615.40" width="9.2" height="24.00" fill="#c9e3b6" stroke="#111" stroke-width="1.6"/>
<rect x="526.94" y="615.40" width="9.2" height="24.00" fill="#c9e3b6" stroke="#111" stroke-width="1.6"/>
<rect x="537.52" y="618.60" width="9.2" height="20.80" fill="#c9e3b6" stroke="#111" stroke-width="1.6"/>
<rect x="548.11" y="618.60" width="9.2" height="20.80" fill="#c9e3b6" stroke="#111" stroke-width="1.6"/>
<rect x="558.70" y="620.10" width="9.2" height="19.30" fill="#c9e3b6" stroke="#111" stroke-width="1.6"/>
<rect x="569.29" y="620.10" width="9.2" height="19.30" fill="#c9e3b6" stroke="#111" stroke-width="1.6"/>
<rect x="579.88" y="620.10" width="9.2" height="19.30" fill="#c9e3b6" stroke="#111" stroke-width="1.6"/>
<rect x="590.46" y="620.10" width="9.2" height="19.30" fill="#c9e3b6" stroke="#111" stroke-width="1.6"/>
<rect x="601.05" y="620.10" width="9.2" height="19.30" fill="#c9e3b6" stroke="#111" stroke-width="1.6"/>
<rect x="611.64" y="620.10" width="9.2" height="19.30" fill="#c9e3b6" stroke="#111" stroke-width="1.6"/>
<rect x="622.23" y="620.10" width="9.2" height="19.30" fill="#c9e3b6" stroke="#111" stroke-width="1.6"/>
<rect x="632.82" y="620.10" width="9.2" height="19.30" fill="#c9e3b6" stroke="#111" stroke-width="1.6"/>
<rect x="643.40" y="620.10" width="9.2" height="19.30" fill="#c9e3b6" stroke="#111" stroke-width="1.6"/>
<rect x="653.99" y="620.10" width="9.2" height="19.30" fill="#c9e3b6" stroke="#111" stroke-width="1.6"/>
<rect x="664.58" y="620.10" width="9.2" height="19.30" fill="#c9e3b6" stroke="#111" stroke-width="1.6"/>
<line x1="27.8" y1="585.6" x2="27.8" y2="641.8" stroke="#111" stroke-width="1.2"/>
<line x1="27.2" y1="641.2" x2="674.6" y2="641.2" stroke="#111" stroke-width="1.6"/>
<line x1="25.8" y1="588.5" x2="27.8" y2="588.5" stroke="#333" stroke-width="1"/>
<line x1="25.8" y1="637.9" x2="27.8" y2="637.9" stroke="#333" stroke-width="1"/>
<text x="25" y="591.8" text-anchor="end" class="tk5">5</text>
<text x="25" y="641.2" text-anchor="end" class="tk5">0</text>
<text transform="translate(14.6,616.9) rotate(-90)" text-anchor="middle" class="dy">−log10(Padj)</text>
<text transform="translate(36.50,645.4) rotate(-90)" text-anchor="end" class="gl" fill="#c94a4a">insulin receptor signaling pathway</text>
<text transform="translate(47.09,645.4) rotate(-90)" text-anchor="end" class="gl" fill="#c94a4a">regulation of insulin receptor signaling pathway</text>
<text transform="translate(57.68,645.4) rotate(-90)" text-anchor="end" class="gl" fill="#c94a4a">cellular response to peptide</text>
<text transform="translate(68.26,645.4) rotate(-90)" text-anchor="end" class="gl" fill="#c94a4a">response to insulin</text>
<text transform="translate(78.85,645.4) rotate(-90)" text-anchor="end" class="gl" fill="#c94a4a">response to peptide hormone</text>
<text transform="translate(89.44,645.4) rotate(-90)" text-anchor="end" class="gl" fill="#c94a4a">negative regulation of insulin receptor signaling pathway</text>
<text transform="translate(100.03,645.4) rotate(-90)" text-anchor="end" class="gl" fill="#c94a4a">negative regulation of cellular response to insulin stimulus</text>
<text transform="translate(110.62,645.4) rotate(-90)" text-anchor="end" class="gl" fill="#4a4a4a">female pregnancy</text>
<text transform="translate(121.20,645.4) rotate(-90)" text-anchor="end" class="gl" fill="#c94a4a">cellular response to insulin stimulus</text>
<text transform="translate(131.79,645.4) rotate(-90)" text-anchor="end" class="gl" fill="#4a4a4a">positive regulation of epithelial cell proliferation</text>
<text transform="translate(142.38,645.4) rotate(-90)" text-anchor="end" class="gl" fill="#4a4a4a">positive regulation of MAPK cascade</text>
<text transform="translate(152.97,645.4) rotate(-90)" text-anchor="end" class="gl" fill="#c94a4a">response to steroid hormone</text>
<text transform="translate(163.56,645.4) rotate(-90)" text-anchor="end" class="gl" fill="#4a4a4a">multi−multicellular organism process</text>
<text transform="translate(174.14,645.4) rotate(-90)" text-anchor="end" class="gl" fill="#c94a4a">planar cell polarity pathway involved in neural tube closure</text>
<text transform="translate(184.73,645.4) rotate(-90)" text-anchor="end" class="gl" fill="#363a82">Wnt signaling pathway, planar cell polarity pathway</text>
<text transform="translate(195.32,645.4) rotate(-90)" text-anchor="end" class="gl" fill="#4a4a4a">response to organophosphorus</text>
<text transform="translate(205.91,645.4) rotate(-90)" text-anchor="end" class="gl" fill="#c94a4a">regulation of establishment of planar polarity involved in neural tube closure</text>
<text transform="translate(216.50,645.4) rotate(-90)" text-anchor="end" class="gl" fill="#363a82">regulation of establishment of planar polarity</text>
<text transform="translate(227.08,645.4) rotate(-90)" text-anchor="end" class="gl" fill="#c94a4a">establishment of planar polarity involved in neural tube closure</text>
<text transform="translate(237.67,645.4) rotate(-90)" text-anchor="end" class="gl" fill="#c94a4a">sensory organ morphogenesis</text>
<text transform="translate(248.26,645.4) rotate(-90)" text-anchor="end" class="gl" fill="#4a4a4a">cellular component disassembly</text>
<text transform="translate(258.85,645.4) rotate(-90)" text-anchor="end" class="gl" fill="#4a4a4a">sulfur compound metabolic process</text>
<text transform="translate(269.44,645.4) rotate(-90)" text-anchor="end" class="gl" fill="#4a4a4a">proteasome−mediated ubiquitin−dependent protein catabolic process</text>
<text transform="translate(280.02,645.4) rotate(-90)" text-anchor="end" class="gl" fill="#4a4a4a">generation of precursor metabolites and energy</text>
<text transform="translate(290.61,645.4) rotate(-90)" text-anchor="end" class="gl" fill="#4a4a4a">proteasomal protein catabolic process</text>
<text transform="translate(301.20,645.4) rotate(-90)" text-anchor="end" class="gl" fill="#4a4a4a">aerobic respiration</text>
<text transform="translate(311.79,645.4) rotate(-90)" text-anchor="end" class="gl" fill="#4a4a4a">cellular respiration</text>
<text transform="translate(322.38,645.4) rotate(-90)" text-anchor="end" class="gl" fill="#4a4a4a">macroautophagy</text>
<text transform="translate(332.96,645.4) rotate(-90)" text-anchor="end" class="gl" fill="#4a4a4a">organelle disassembly</text>
<text transform="translate(343.55,645.4) rotate(-90)" text-anchor="end" class="gl" fill="#4a4a4a">Golgi vesicle transport</text>
<text transform="translate(354.14,645.4) rotate(-90)" text-anchor="end" class="gl" fill="#4a4a4a">energy derivation by oxidation of organic compounds</text>
<text transform="translate(364.73,645.4) rotate(-90)" text-anchor="end" class="gl" fill="#4a4a4a">regulation of mitochondrion organization</text>
<text transform="translate(375.32,645.4) rotate(-90)" text-anchor="end" class="gl" fill="#4a4a4a">ATP metabolic process</text>
<text transform="translate(385.90,645.4) rotate(-90)" text-anchor="end" class="gl" fill="#4a4a4a">electron transport chain</text>
<text transform="translate(396.49,645.4) rotate(-90)" text-anchor="end" class="gl" fill="#4a4a4a">oxidative phosphorylation</text>
<text transform="translate(407.08,645.4) rotate(-90)" text-anchor="end" class="gl" fill="#4a4a4a">purine ribonucleotide metabolic process</text>
<text transform="translate(417.67,645.4) rotate(-90)" text-anchor="end" class="gl" fill="#4a4a4a">endosomal transport</text>
<text transform="translate(428.26,645.4) rotate(-90)" text-anchor="end" class="gl" fill="#4a4a4a">ribose phosphate metabolic process</text>
<text transform="translate(438.84,645.4) rotate(-90)" text-anchor="end" class="gl" fill="#4a4a4a">nucleoside phosphate metabolic process</text>
<text transform="translate(449.43,645.4) rotate(-90)" text-anchor="end" class="gl" fill="#4a4a4a">cellular modified amino acid metabolic process</text>
<text transform="translate(460.02,645.4) rotate(-90)" text-anchor="end" class="gl" fill="#4a4a4a">vesicle organization</text>
<text transform="translate(470.61,645.4) rotate(-90)" text-anchor="end" class="gl" fill="#c94a4a">cellular response to peptide hormone stimulus</text>
<text transform="translate(481.20,645.4) rotate(-90)" text-anchor="end" class="gl" fill="#c94a4a">neuron recognition</text>
<text transform="translate(491.78,645.4) rotate(-90)" text-anchor="end" class="gl" fill="#4a4a4a">gastrulation</text>
<text transform="translate(502.37,645.4) rotate(-90)" text-anchor="end" class="gl" fill="#4a4a4a">ossification</text>
<text transform="translate(512.96,645.4) rotate(-90)" text-anchor="end" class="gl" fill="#c94a4a">axon guidance</text>
<text transform="translate(523.55,645.4) rotate(-90)" text-anchor="end" class="gl" fill="#c94a4a">neuron projection guidance</text>
<text transform="translate(534.14,645.4) rotate(-90)" text-anchor="end" class="gl" fill="#4a4a4a">intrinsic apoptotic signaling pathway</text>
<text transform="translate(544.72,645.4) rotate(-90)" text-anchor="end" class="gl" fill="#c94a4a">response to mechanical stimulus</text>
<text transform="translate(555.31,645.4) rotate(-90)" text-anchor="end" class="gl" fill="#c94a4a">regulation of neuron projection development</text>
<text transform="translate(565.90,645.4) rotate(-90)" text-anchor="end" class="gl" fill="#4a4a4a">formation of primary germ layer</text>
<text transform="translate(576.49,645.4) rotate(-90)" text-anchor="end" class="gl" fill="#4a4a4a">tissue remodeling</text>
<text transform="translate(587.08,645.4) rotate(-90)" text-anchor="end" class="gl" fill="#c94a4a">response to glucocorticoid</text>
<text transform="translate(597.66,645.4) rotate(-90)" text-anchor="end" class="gl" fill="#c94a4a">axon development</text>
<text transform="translate(608.25,645.4) rotate(-90)" text-anchor="end" class="gl" fill="#4a4a4a">endoderm development</text>
<text transform="translate(618.84,645.4) rotate(-90)" text-anchor="end" class="gl" fill="#c94a4a">epithelial cell proliferation</text>
<text transform="translate(629.43,645.4) rotate(-90)" text-anchor="end" class="gl" fill="#c94a4a">regulation of axonogenesis</text>
<text transform="translate(640.02,645.4) rotate(-90)" text-anchor="end" class="gl" fill="#4a4a4a">telencephalon development</text>
<text transform="translate(650.60,645.4) rotate(-90)" text-anchor="end" class="gl" fill="#4a4a4a">substrate adhesion−dependent cell spreading</text>
<text transform="translate(661.19,645.4) rotate(-90)" text-anchor="end" class="gl" fill="#c94a4a">axonogenesis</text>
<text transform="translate(671.18,645.4) rotate(-90)" text-anchor="end" class="gl" fill="#4a4a4a">intrinsic apoptotic signaling pathway in response to endoplasmic</text>
<text transform="translate(679.68,645.4) rotate(-90)" text-anchor="end" class="gl" fill="#4a4a4a">reticulum stress</text>
<text x="343.5" y="893.2" text-anchor="middle" class="got">GO Terms</text>
<rect x="584.9" y="528.90" width="9.3" height="8.6" fill="#e1e8f6" stroke="#333" stroke-width="1"/>
<text x="600.3" y="536.00" class="lg2">Module 14</text>
<rect x="584.9" y="542.45" width="9.3" height="8.6" fill="#afcbe6" stroke="#333" stroke-width="1"/>
<text x="600.3" y="549.55" class="lg2">Module 1</text>
<rect x="584.9" y="556.00" width="9.3" height="8.6" fill="#4a7fc2" stroke="#333" stroke-width="1"/>
<text x="600.3" y="563.10" class="lg2">Module 11</text>
<rect x="584.9" y="569.55" width="9.3" height="8.6" fill="#e4f0dc" stroke="#333" stroke-width="1"/>
<text x="600.3" y="576.65" class="lg2">Module 13</text>
<rect x="584.9" y="583.10" width="9.3" height="8.6" fill="#c9e3b6" stroke="#333" stroke-width="1"/>
<text x="600.3" y="590.20" class="lg2">Module 5</text>
<line x1="27.8" y1="585.8" x2="146.8" y2="548.2" stroke="#8a8a8a" stroke-width="1.3" stroke-dasharray="7 4.5"/>
<line x1="338.8" y1="548.4" x2="668.5" y2="618.8" stroke="#8a8a8a" stroke-width="1.3" stroke-dasharray="7 4.5"/>
<text x="2.1" y="559.6" class="pl">D</text>
</svg></body></html>
